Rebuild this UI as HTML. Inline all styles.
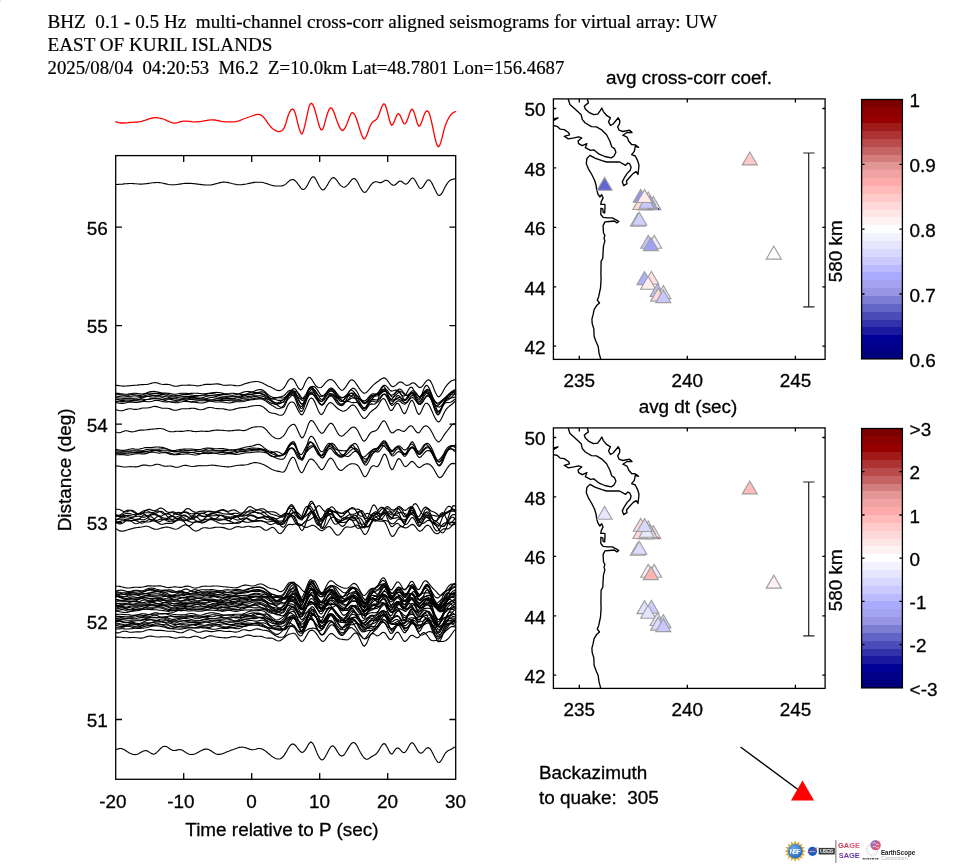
<!DOCTYPE html>
<html><head><meta charset="utf-8"><title>aligned seismograms</title>
<style>html,body{margin:0;padding:0;background:#fff;}svg{display:block;will-change:transform;}text{font-kerning:normal;}</style></head>
<body>
<svg width="971" height="866" viewBox="0 0 971 866">
<rect width="971" height="866" fill="#fff"/>
<rect width="1" height="2" fill="#e6e6e6"/>
<g font-family="'Liberation Serif', serif" font-size="19.15px" fill="#000" stroke="#000" stroke-width="0.2">
<text x="47.5" y="27.8" xml:space="preserve">BHZ  0.1 - 0.5 Hz  multi-channel cross-corr aligned seismograms for virtual array: UW</text>
<text x="47.5" y="50.9" xml:space="preserve">EAST OF KURIL ISLANDS</text>
<text x="47.5" y="73.8" xml:space="preserve" textLength="516.8" lengthAdjust="spacingAndGlyphs">2025/08/04  04:20:53  M6.2  Z=10.0km Lat=48.7801 Lon=156.4687</text>
</g>
<g fill="none" stroke="#000" stroke-width="1.12" stroke-linejoin="round" stroke-linecap="round">
<path d="M115.7 121.8L117.1 122.2L118.4 122.6L119.8 122.8L121.1 123.0L122.5 123.0L123.9 123.0L125.2 122.9L126.6 122.8L127.9 122.7L129.3 122.5L130.7 122.4L132.0 122.3L133.4 122.3L134.7 122.2L136.1 122.1L137.5 122.0L138.8 121.8L140.2 121.6L141.5 121.3L142.9 120.9L144.3 120.5L145.6 120.1L147.0 119.6L148.3 119.2L149.7 118.7L151.1 118.3L152.4 118.0L153.8 117.8L155.1 117.7L156.5 117.7L157.9 117.8L159.2 118.1L160.6 118.3L161.9 118.6L163.3 119.0L164.7 119.5L166.0 120.1L167.4 120.8L168.7 121.4L170.1 122.0L171.5 122.6L172.8 123.0L174.2 123.2L175.5 123.1L176.9 122.8L178.3 122.4L179.6 122.0L181.0 121.7L182.3 121.4L183.7 121.2L185.1 121.2L186.4 121.2L187.8 121.3L189.1 121.4L190.5 121.5L191.9 121.7L193.2 121.8L194.6 121.8L195.9 121.9L197.3 121.8L198.7 121.7L200.0 121.6L201.4 121.4L202.7 121.2L204.1 120.9L205.5 120.7L206.8 120.5L208.2 120.2L209.5 120.1L210.9 119.9L212.3 119.9L213.6 119.9L215.0 120.0L216.3 120.3L217.7 120.5L219.1 120.8L220.4 121.1L221.8 121.4L223.1 121.6L224.5 121.7L225.9 121.8L227.2 121.9L228.6 121.9L229.9 121.8L231.3 121.8L232.7 121.8L234.0 121.8L235.4 121.7L236.7 121.5L238.1 121.1L239.5 120.6L240.8 120.1L242.2 119.5L243.5 119.0L244.9 118.5L246.3 118.0L247.6 117.5L249.0 117.0L250.3 116.5L251.7 116.0L253.1 115.5L254.4 115.1L255.8 114.7L257.1 114.4L258.5 114.4L259.9 114.6L261.2 115.2L262.6 116.2L263.9 117.6L265.3 119.3L266.7 121.3L268.0 123.3L269.4 125.2L270.7 126.8L272.1 128.2L273.5 129.3L274.8 130.2L276.2 130.9L277.5 131.4L278.9 131.6L280.3 131.4L281.6 130.7L283.0 129.7L284.3 127.6L285.7 123.9L287.1 119.0L288.4 114.7L289.8 111.7L291.1 109.8L292.5 109.1L293.9 109.9L295.2 113.1L296.6 118.4L297.9 124.0L299.3 129.0L300.7 132.9L302.0 134.0L303.4 131.2L304.7 126.1L306.1 119.9L307.5 113.4L308.8 107.6L310.2 104.1L311.5 103.2L312.9 104.7L314.3 108.0L315.6 112.5L317.0 117.6L318.3 122.7L319.7 127.2L321.1 129.9L322.4 129.7L323.8 126.6L325.1 121.8L326.5 116.7L327.9 112.3L329.2 109.2L330.6 107.8L331.9 108.4L333.3 110.8L334.7 114.3L336.0 118.2L337.4 122.0L338.7 125.4L340.1 128.2L341.5 130.1L342.8 130.6L344.2 129.3L345.5 127.0L346.9 123.9L348.3 120.3L349.6 116.6L351.0 113.8L352.3 112.6L353.7 113.3L355.1 115.5L356.4 118.8L357.8 122.8L359.1 127.1L360.5 131.5L361.9 135.5L363.2 138.3L364.6 138.9L365.9 137.0L367.3 133.7L368.7 129.8L370.0 126.3L371.4 123.7L372.7 122.0L374.1 120.9L375.5 120.1L376.8 119.0L378.2 116.7L379.5 113.2L380.9 109.3L382.3 105.8L383.6 103.8L385.0 104.4L386.3 107.7L387.7 113.0L389.1 118.8L390.4 123.3L391.8 125.3L393.1 124.1L394.5 120.9L395.9 117.3L397.2 114.5L398.6 113.6L399.9 115.0L401.3 118.0L402.7 121.4L404.0 123.8L405.4 123.7L406.7 121.4L408.1 117.7L409.5 113.6L410.8 110.3L412.2 109.1L413.5 110.9L414.9 114.9L416.3 119.8L417.6 124.2L419.0 126.3L420.3 125.3L421.7 122.0L423.1 117.8L424.4 114.1L425.8 111.6L427.1 110.7L428.5 111.8L429.9 115.1L431.2 120.3L432.6 126.5L433.9 133.1L435.3 139.3L436.7 144.1L438.0 146.7L439.4 146.1L440.7 142.7L442.1 137.6L443.5 131.9L444.8 126.9L446.2 123.2L447.5 120.2L448.9 117.7L450.3 115.6L451.6 114.0L453.0 112.8L454.3 112.0L455.7 111.6" stroke="#f00" stroke-width="1.3"/>
<path d="M115.7 385.2L117.1 385.4L118.4 385.6L119.8 385.8L121.1 386.0L122.5 386.1L123.9 386.1L125.2 386.0L126.6 386.0L127.9 385.9L129.3 385.8L130.7 385.6L132.0 385.5L133.4 385.4L134.7 385.3L136.1 385.2L137.5 385.1L138.8 384.9L140.2 384.8L141.5 384.6L142.9 384.6L144.3 384.5L145.6 384.5L147.0 384.4L148.3 384.2L149.7 383.8L151.1 383.4L152.4 383.0L153.8 382.7L155.1 382.6L156.5 382.8L157.9 383.1L159.2 383.6L160.6 384.0L161.9 384.3L163.3 384.5L164.7 384.4L166.0 384.4L167.4 384.4L168.7 384.5L170.1 384.8L171.5 385.3L172.8 385.7L174.2 386.1L175.5 386.2L176.9 386.2L178.3 385.9L179.6 385.7L181.0 385.4L182.3 385.3L183.7 385.2L185.1 385.2L186.4 385.2L187.8 385.1L189.1 385.1L190.5 385.1L191.9 385.2L193.2 385.3L194.6 385.5L195.9 385.7L197.3 385.9L198.7 385.8L200.0 385.6L201.4 385.3L202.7 385.0L204.1 384.6L205.5 384.4L206.8 384.4L208.2 384.4L209.5 384.4L210.9 384.4L212.3 384.3L213.6 384.1L215.0 384.0L216.3 383.9L217.7 383.9L219.1 384.1L220.4 384.4L221.8 384.8L223.1 385.1L224.5 385.3L225.9 385.4L227.2 385.3L228.6 385.1L229.9 385.0L231.3 385.0L232.7 385.2L234.0 385.4L235.4 385.6L236.7 385.8L238.1 385.8L239.5 385.6L240.8 385.3L242.2 384.9L243.5 384.3L244.9 383.8L246.3 383.4L247.6 382.9L249.0 382.6L250.3 382.3L251.7 382.0L253.1 381.8L254.4 381.6L255.8 381.5L257.1 381.5L258.5 381.7L259.9 382.0L261.2 382.5L262.6 383.1L263.9 383.8L265.3 384.5L266.7 385.2L268.0 385.9L269.4 386.5L270.7 387.1L272.1 387.8L273.5 388.4L274.8 389.2L276.2 389.9L277.5 390.4L278.9 390.6L280.3 390.4L281.6 389.8L283.0 388.9L284.3 387.4L285.7 385.2L287.1 382.6L288.4 380.4L289.8 379.1L291.1 378.6L292.5 378.9L293.9 380.0L295.2 382.1L296.6 384.9L297.9 387.3L299.3 389.1L300.7 389.9L302.0 389.1L303.4 386.7L304.7 383.6L306.1 380.7L307.5 378.5L308.8 377.3L310.2 377.5L311.5 379.1L312.9 381.3L314.3 383.6L315.6 385.5L317.0 386.8L318.3 387.5L319.7 387.8L321.1 387.5L322.4 386.5L323.8 384.9L325.1 383.1L326.5 381.6L327.9 380.5L329.2 379.8L330.6 379.5L331.9 379.7L333.3 380.6L334.7 382.0L336.0 383.8L337.4 385.8L338.7 387.7L340.1 389.2L341.5 390.2L342.8 390.1L344.2 389.0L345.5 387.1L346.9 385.1L348.3 382.9L349.6 381.1L351.0 380.0L352.3 379.9L353.7 380.7L355.1 382.2L356.4 384.1L357.8 386.1L359.1 388.2L360.5 390.1L361.9 391.7L363.2 392.9L364.6 393.2L365.9 392.7L367.3 391.6L368.7 390.1L370.0 388.6L371.4 387.1L372.7 385.7L374.1 384.4L375.5 383.2L376.8 382.3L378.2 381.3L379.5 380.2L380.9 379.2L382.3 378.4L383.6 377.9L385.0 378.1L386.3 379.2L387.7 380.9L389.1 383.0L390.4 385.0L391.8 386.3L393.1 386.7L394.5 386.1L395.9 385.1L397.2 383.8L398.6 382.6L399.9 382.0L401.3 382.1L402.7 382.8L404.0 383.9L405.4 384.9L406.7 385.4L408.1 385.3L409.5 384.7L410.8 383.8L412.2 383.0L413.5 382.8L414.9 383.5L416.3 384.7L417.6 386.3L419.0 387.4L420.3 387.6L421.7 386.8L423.1 385.3L424.4 383.5L425.8 381.7L427.1 380.3L428.5 379.7L429.9 380.4L431.2 382.4L432.6 385.3L433.9 388.8L435.3 392.2L436.7 395.0L438.0 396.6L439.4 396.6L440.7 395.2L442.1 393.0L443.5 390.4L444.8 388.0L446.2 386.1L447.5 384.4L448.9 383.0L450.3 381.7L451.6 380.8L453.0 380.2L454.3 379.9L455.7 379.9"/>
<path d="M115.7 393.4L117.1 393.4L118.4 393.4L119.8 393.6L121.1 393.7L122.5 393.9L123.9 394.0L125.2 394.2L126.6 394.2L127.9 394.1L129.3 393.9L130.7 393.7L132.0 393.5L133.4 393.3L134.7 393.3L136.1 393.4L137.5 393.6L138.8 393.8L140.2 393.9L141.5 394.0L142.9 393.9L144.3 393.6L145.6 393.2L147.0 392.7L148.3 392.3L149.7 391.9L151.1 391.6L152.4 391.5L153.8 391.4L155.1 391.6L156.5 391.8L157.9 392.1L159.2 392.4L160.6 392.7L161.9 392.9L163.3 393.0L164.7 393.0L166.0 393.1L167.4 393.2L168.7 393.4L170.1 393.6L171.5 393.9L172.8 394.1L174.2 394.3L175.5 394.2L176.9 394.0L178.3 393.8L179.6 393.5L181.0 393.3L182.3 393.2L183.7 393.2L185.1 393.3L186.4 393.4L187.8 393.5L189.1 393.5L190.5 393.4L191.9 393.4L193.2 393.3L194.6 393.2L195.9 393.2L197.3 393.2L198.7 393.4L200.0 393.5L201.4 393.7L202.7 393.8L204.1 393.8L205.5 393.8L206.8 393.6L208.2 393.4L209.5 393.2L210.9 392.9L212.3 392.7L213.6 392.6L215.0 392.5L216.3 392.4L217.7 392.5L219.1 392.6L220.4 392.8L221.8 393.1L223.1 393.4L224.5 393.7L225.9 393.8L227.2 393.8L228.6 393.7L229.9 393.5L231.3 393.3L232.7 393.3L234.0 393.4L235.4 393.5L236.7 393.7L238.1 393.7L239.5 393.5L240.8 393.1L242.2 392.6L243.5 392.1L244.9 391.7L246.3 391.5L247.6 391.5L249.0 391.6L250.3 391.7L251.7 391.7L253.1 391.6L254.4 391.2L255.8 390.6L257.1 390.1L258.5 389.7L259.9 389.5L261.2 389.6L262.6 390.1L263.9 390.9L265.3 392.0L266.7 393.3L268.0 394.5L269.4 395.6L270.7 396.5L272.1 397.1L273.5 397.4L274.8 397.5L276.2 397.5L277.5 397.4L278.9 397.2L280.3 396.9L281.6 396.6L283.0 396.1L284.3 395.4L285.7 394.0L287.1 392.3L288.4 391.0L289.8 390.4L291.1 390.3L292.5 390.7L293.9 391.5L295.2 393.0L296.6 395.0L297.9 396.7L299.3 398.1L300.7 399.0L302.0 399.0L303.4 397.9L304.7 396.1L306.1 394.0L307.5 391.6L308.8 389.4L310.2 387.7L311.5 386.7L312.9 386.4L314.3 386.8L315.6 387.8L317.0 389.4L318.3 391.4L319.7 393.6L321.1 395.4L322.4 396.1L323.8 395.6L325.1 394.2L326.5 392.4L327.9 390.5L329.2 388.9L330.6 388.1L331.9 388.1L333.3 389.0L334.7 390.6L336.0 392.3L337.4 394.1L338.7 395.6L340.1 396.7L341.5 397.4L342.8 397.5L344.2 396.9L345.5 395.9L346.9 394.6L348.3 392.9L349.6 391.0L351.0 389.4L352.3 388.4L353.7 388.3L355.1 389.2L356.4 390.8L357.8 393.0L359.1 395.7L360.5 398.5L361.9 401.0L363.2 402.8L364.6 403.2L365.9 402.3L367.3 400.6L368.7 398.6L370.0 397.0L371.4 395.9L372.7 395.2L374.1 394.9L375.5 394.5L376.8 393.8L378.2 392.5L379.5 390.5L380.9 388.4L382.3 386.5L383.6 385.4L385.0 385.2L386.3 386.1L387.7 387.7L389.1 389.4L390.4 390.6L391.8 391.1L393.1 390.8L394.5 390.3L395.9 390.1L397.2 390.5L398.6 391.6L399.9 393.2L401.3 394.8L402.7 395.9L404.0 396.1L405.4 395.0L406.7 392.9L408.1 390.4L409.5 388.2L410.8 387.1L412.2 387.5L413.5 389.7L414.9 393.1L416.3 396.7L417.6 399.4L419.0 400.2L420.3 398.5L421.7 395.0L423.1 391.0L424.4 387.6L425.8 385.6L427.1 385.4L428.5 386.9L429.9 389.8L431.2 393.4L432.6 396.8L433.9 399.6L435.3 401.6L436.7 402.7L438.0 403.0L439.4 402.5L440.7 401.4L442.1 400.2L443.5 399.0L444.8 397.9L446.2 396.9L447.5 395.7L448.9 394.2L450.3 392.8L451.6 391.6L453.0 390.7L454.3 390.1L455.7 389.6"/>
<path d="M115.7 394.9L117.1 394.8L118.4 394.7L119.8 394.6L121.1 394.7L122.5 394.9L123.9 395.1L125.2 395.2L126.6 395.3L127.9 395.1L129.3 394.9L130.7 394.7L132.0 394.5L133.4 394.6L134.7 394.7L136.1 395.0L137.5 395.3L138.8 395.4L140.2 395.4L141.5 395.1L142.9 394.7L144.3 394.2L145.6 393.7L147.0 393.4L148.3 393.2L149.7 393.2L151.1 393.3L152.4 393.4L153.8 393.4L155.1 393.4L156.5 393.4L157.9 393.4L159.2 393.4L160.6 393.4L161.9 393.5L163.3 393.6L164.7 393.8L166.0 394.0L167.4 394.3L168.7 394.7L170.1 395.2L171.5 395.6L172.8 396.0L174.2 396.2L175.5 396.2L176.9 396.0L178.3 395.6L179.6 395.2L181.0 394.9L182.3 394.6L183.7 394.4L185.1 394.3L186.4 394.4L187.8 394.5L189.1 394.7L190.5 394.9L191.9 395.1L193.2 395.3L194.6 395.5L195.9 395.6L197.3 395.6L198.7 395.5L200.0 395.4L201.4 395.2L202.7 395.0L204.1 394.7L205.5 394.4L206.8 394.1L208.2 393.8L209.5 393.6L210.9 393.5L212.3 393.5L213.6 393.7L215.0 394.0L216.3 394.3L217.7 394.5L219.1 394.6L220.4 394.6L221.8 394.5L223.1 394.4L224.5 394.3L225.9 394.4L227.2 394.5L228.6 394.8L229.9 395.0L231.3 395.2L232.7 395.2L234.0 395.0L235.4 394.8L236.7 394.5L238.1 394.3L239.5 394.3L240.8 394.4L242.2 394.5L243.5 394.5L244.9 394.4L246.3 394.0L247.6 393.5L249.0 392.9L250.3 392.5L251.7 392.3L253.1 392.2L254.4 392.4L255.8 392.5L257.1 392.5L258.5 392.4L259.9 392.1L261.2 391.9L262.6 391.9L263.9 392.3L265.3 393.3L266.7 394.7L268.0 396.2L269.4 397.5L270.7 398.5L272.1 398.9L273.5 398.8L274.8 398.4L276.2 398.0L277.5 397.7L278.9 397.6L280.3 397.7L281.6 397.9L283.0 398.0L284.3 397.7L285.7 396.6L287.1 395.1L288.4 393.5L289.8 392.0L291.1 390.6L292.5 389.4L293.9 388.6L295.2 389.0L296.6 390.7L297.9 393.2L299.3 396.1L300.7 398.9L302.0 400.5L303.4 400.2L304.7 398.2L306.1 395.2L307.5 391.7L308.8 388.7L310.2 387.0L311.5 386.8L312.9 388.0L314.3 389.9L315.6 392.0L317.0 393.9L318.3 395.3L319.7 396.2L321.1 396.5L322.4 396.1L323.8 395.3L325.1 394.3L326.5 393.3L327.9 392.6L329.2 391.9L330.6 391.3L331.9 391.0L333.3 391.1L334.7 391.7L336.0 392.9L337.4 394.6L338.7 396.6L340.1 398.6L341.5 400.1L342.8 400.5L344.2 399.6L345.5 397.8L346.9 395.4L348.3 393.0L349.6 391.0L351.0 390.0L352.3 390.3L353.7 391.6L355.1 393.4L356.4 395.2L357.8 396.7L359.1 398.0L360.5 399.1L361.9 400.1L363.2 400.8L364.6 400.9L365.9 400.2L367.3 398.8L368.7 397.2L370.0 395.7L371.4 394.5L372.7 393.8L374.1 393.7L375.5 394.0L376.8 394.4L378.2 394.6L379.5 394.3L380.9 393.5L382.3 392.4L383.6 391.5L385.0 391.1L386.3 391.4L387.7 392.4L389.1 393.7L390.4 394.7L391.8 395.2L393.1 394.7L394.5 393.5L395.9 391.9L397.2 390.4L398.6 389.3L399.9 389.1L401.3 389.9L402.7 391.3L404.0 393.2L405.4 394.7L406.7 395.6L408.1 395.8L409.5 395.1L410.8 394.0L412.2 393.0L413.5 392.7L414.9 393.2L416.3 394.4L417.6 395.7L419.0 396.6L420.3 396.3L421.7 395.0L423.1 393.2L424.4 391.5L425.8 390.3L427.1 390.0L428.5 390.8L429.9 392.6L431.2 395.0L432.6 397.7L433.9 400.1L435.3 402.1L436.7 403.5L438.0 404.2L439.4 403.9L440.7 402.9L442.1 401.5L443.5 399.8L444.8 398.1L446.2 396.7L447.5 395.4L448.9 394.2L450.3 393.2L451.6 392.4L453.0 391.9L454.3 391.3L455.7 390.7"/>
<path d="M115.7 397.0L117.1 396.8L118.4 396.6L119.8 396.3L121.1 396.1L122.5 396.0L123.9 396.0L125.2 396.1L126.6 396.3L127.9 396.4L129.3 396.4L130.7 396.3L132.0 396.2L133.4 396.0L134.7 395.9L136.1 396.0L137.5 396.1L138.8 396.3L140.2 396.5L141.5 396.5L142.9 396.3L144.3 395.9L145.6 395.4L147.0 395.0L148.3 394.7L149.7 394.6L151.1 394.8L152.4 395.1L153.8 395.5L155.1 395.7L156.5 395.6L157.9 395.4L159.2 395.0L160.6 394.6L161.9 394.4L163.3 394.4L164.7 394.7L166.0 395.2L167.4 395.7L168.7 396.1L170.1 396.2L171.5 396.2L172.8 396.0L174.2 395.8L175.5 395.6L176.9 395.5L178.3 395.6L179.6 395.7L181.0 396.0L182.3 396.2L183.7 396.3L185.1 396.4L186.4 396.4L187.8 396.4L189.1 396.5L190.5 396.5L191.9 396.5L193.2 396.5L194.6 396.4L195.9 396.3L197.3 396.1L198.7 395.9L200.0 395.8L201.4 395.7L202.7 395.7L204.1 395.7L205.5 395.8L206.8 395.8L208.2 395.7L209.5 395.6L210.9 395.4L212.3 395.3L213.6 395.2L215.0 395.2L216.3 395.3L217.7 395.4L219.1 395.6L220.4 395.8L221.8 396.0L223.1 396.2L224.5 396.3L225.9 396.4L227.2 396.3L228.6 396.3L229.9 396.2L231.3 396.2L232.7 396.2L234.0 396.3L235.4 396.4L236.7 396.4L238.1 396.3L239.5 396.1L240.8 395.8L242.2 395.4L243.5 395.1L244.9 394.9L246.3 394.7L247.6 394.6L249.0 394.6L250.3 394.5L251.7 394.4L253.1 394.2L254.4 393.9L255.8 393.6L257.1 393.5L258.5 393.4L259.9 393.5L261.2 393.9L262.6 394.5L263.9 395.2L265.3 396.1L266.7 396.9L268.0 397.6L269.4 398.1L270.7 398.5L272.1 398.7L273.5 398.9L274.8 399.2L276.2 399.7L277.5 400.1L278.9 400.4L280.3 400.4L281.6 400.2L283.0 399.8L284.3 399.0L285.7 397.8L287.1 396.4L288.4 395.2L289.8 394.4L291.1 393.6L292.5 392.6L293.9 391.6L295.2 391.2L296.6 391.7L297.9 392.8L299.3 394.4L300.7 396.4L302.0 398.1L303.4 398.6L304.7 398.3L306.1 397.1L307.5 395.1L308.8 392.8L310.2 390.7L311.5 389.5L312.9 389.1L314.3 389.7L315.6 391.1L317.0 393.1L318.3 395.5L319.7 397.8L321.1 399.3L322.4 399.4L323.8 397.9L325.1 395.6L326.5 393.0L327.9 391.0L329.2 389.8L330.6 389.7L331.9 390.6L333.3 392.2L334.7 394.1L336.0 395.8L337.4 397.0L338.7 397.7L340.1 397.9L341.5 397.9L342.8 397.6L344.2 397.0L345.5 396.3L346.9 395.7L348.3 394.9L349.6 394.0L351.0 393.3L352.3 393.0L353.7 393.3L355.1 394.0L356.4 395.2L357.8 396.7L359.1 398.5L360.5 400.3L361.9 402.0L363.2 403.2L364.6 403.7L365.9 403.3L367.3 402.2L368.7 400.8L370.0 399.2L371.4 397.7L372.7 396.4L374.1 395.4L375.5 394.6L376.8 394.1L378.2 393.6L379.5 392.8L380.9 391.7L382.3 390.5L383.6 389.4L385.0 388.9L386.3 389.4L387.7 390.9L389.1 393.0L390.4 395.2L391.8 396.8L393.1 397.2L394.5 396.6L395.9 395.3L397.2 393.7L398.6 392.2L399.9 391.5L401.3 391.7L402.7 392.6L404.0 394.0L405.4 394.9L406.7 395.2L408.1 394.7L409.5 393.6L410.8 392.1L412.2 390.9L413.5 390.7L414.9 391.5L416.3 393.1L417.6 395.1L419.0 396.6L420.3 396.9L421.7 396.1L423.1 394.6L424.4 393.1L425.8 391.9L427.1 391.6L428.5 392.3L429.9 394.3L431.2 397.1L432.6 400.2L433.9 403.0L435.3 405.0L436.7 405.9L438.0 405.7L439.4 404.4L440.7 402.5L442.1 400.7L443.5 399.3L444.8 398.6L446.2 398.2L447.5 397.9L448.9 397.0L450.3 395.8L451.6 394.3L453.0 392.9L454.3 391.8L455.7 391.1"/>
<path d="M115.7 397.6L117.1 397.7L118.4 397.9L119.8 398.0L121.1 398.0L122.5 398.1L123.9 398.1L125.2 398.1L126.6 398.1L127.9 398.1L129.3 398.1L130.7 398.1L132.0 398.1L133.4 398.2L134.7 398.2L136.1 398.2L137.5 398.0L138.8 397.8L140.2 397.5L141.5 397.3L142.9 397.0L144.3 396.9L145.6 396.7L147.0 396.5L148.3 396.3L149.7 396.0L151.1 395.7L152.4 395.5L153.8 395.3L155.1 395.2L156.5 395.3L157.9 395.4L159.2 395.6L160.6 395.8L161.9 396.0L163.3 396.2L164.7 396.4L166.0 396.7L167.4 397.0L168.7 397.4L170.1 397.7L171.5 397.9L172.8 398.0L174.2 397.9L175.5 397.7L176.9 397.5L178.3 397.3L179.6 397.1L181.0 397.0L182.3 397.0L183.7 397.1L185.1 397.1L186.4 397.2L187.8 397.3L189.1 397.4L190.5 397.4L191.9 397.4L193.2 397.5L194.6 397.6L195.9 397.7L197.3 397.9L198.7 398.0L200.0 398.0L201.4 397.9L202.7 397.6L204.1 397.2L205.5 396.7L206.8 396.3L208.2 395.9L209.5 395.7L210.9 395.6L212.3 395.7L213.6 396.0L215.0 396.3L216.3 396.6L217.7 397.0L219.1 397.2L220.4 397.5L221.8 397.6L223.1 397.7L224.5 397.7L225.9 397.6L227.2 397.4L228.6 397.2L229.9 397.0L231.3 396.8L232.7 396.8L234.0 396.8L235.4 396.9L236.7 397.0L238.1 397.0L239.5 397.0L240.8 396.8L242.2 396.4L243.5 396.0L244.9 395.5L246.3 395.1L247.6 394.8L249.0 394.4L250.3 394.2L251.7 394.0L253.1 393.8L254.4 393.5L255.8 393.3L257.1 393.1L258.5 393.1L259.9 393.1L261.2 393.4L262.6 393.8L263.9 394.4L265.3 395.1L266.7 396.1L268.0 397.1L269.4 398.3L270.7 399.5L272.1 400.7L273.5 401.7L274.8 402.5L276.2 403.0L277.5 402.9L278.9 402.4L280.3 401.7L281.6 400.8L283.0 399.9L284.3 399.1L285.7 397.8L287.1 396.1L288.4 394.5L289.8 393.2L291.1 392.0L292.5 391.1L293.9 390.9L295.2 392.0L296.6 394.6L297.9 397.7L299.3 400.8L300.7 403.4L302.0 404.4L303.4 403.1L304.7 400.2L306.1 396.6L307.5 392.8L308.8 389.9L310.2 388.6L311.5 389.0L312.9 390.7L314.3 393.1L315.6 395.5L317.0 397.7L318.3 399.5L319.7 400.8L321.1 401.6L322.4 401.2L323.8 399.9L325.1 397.9L326.5 395.6L327.9 393.2L329.2 391.0L330.6 389.5L331.9 389.1L333.3 390.0L334.7 392.0L336.0 394.6L337.4 397.4L338.7 399.6L340.1 401.1L341.5 401.5L342.8 400.8L344.2 399.3L345.5 397.7L346.9 396.5L348.3 395.8L349.6 395.6L351.0 396.0L352.3 396.7L353.7 397.6L355.1 398.2L356.4 398.4L357.8 398.5L359.1 398.8L360.5 399.4L361.9 400.4L363.2 401.7L364.6 402.5L365.9 402.4L367.3 401.6L368.7 400.2L370.0 398.6L371.4 397.2L372.7 396.3L374.1 395.9L375.5 395.9L376.8 396.0L378.2 395.8L379.5 394.8L380.9 393.3L382.3 391.8L383.6 390.7L385.0 390.8L386.3 392.2L387.7 394.7L389.1 397.3L390.4 399.1L391.8 399.3L393.1 397.8L394.5 395.2L395.9 392.6L397.2 390.9L398.6 390.7L399.9 392.2L401.3 394.7L402.7 397.4L404.0 399.4L405.4 399.9L406.7 398.9L408.1 397.0L409.5 394.9L410.8 393.2L412.2 392.6L413.5 393.3L414.9 394.9L416.3 396.6L417.6 397.9L419.0 398.2L420.3 397.1L421.7 395.2L423.1 393.5L424.4 392.4L425.8 392.2L427.1 393.0L428.5 394.6L429.9 396.7L431.2 398.9L432.6 401.0L433.9 402.9L435.3 404.6L436.7 406.0L438.0 407.0L439.4 407.1L440.7 406.3L442.1 404.7L443.5 402.6L444.8 400.3L446.2 398.2L447.5 396.2L448.9 394.3L450.3 392.9L451.6 392.2L453.0 392.2L454.3 392.7L455.7 393.4"/>
<path d="M115.7 399.2L117.1 399.4L118.4 399.4L119.8 399.3L121.1 399.2L122.5 399.1L123.9 399.1L125.2 399.0L126.6 399.0L127.9 398.9L129.3 398.9L130.7 398.9L132.0 399.0L133.4 399.2L134.7 399.5L136.1 399.7L137.5 399.7L138.8 399.6L140.2 399.1L141.5 398.4L142.9 397.7L144.3 397.0L145.6 396.6L147.0 396.4L148.3 396.4L149.7 396.6L151.1 396.9L152.4 397.0L153.8 397.0L155.1 396.9L156.5 396.8L157.9 396.7L159.2 396.7L160.6 396.9L161.9 397.3L163.3 397.8L164.7 398.2L166.0 398.5L167.4 398.7L168.7 398.8L170.1 398.7L171.5 398.6L172.8 398.6L174.2 398.7L175.5 398.8L176.9 398.9L178.3 399.0L179.6 399.0L181.0 398.9L182.3 398.7L183.7 398.5L185.1 398.3L186.4 398.2L187.8 398.3L189.1 398.5L190.5 398.7L191.9 398.8L193.2 398.8L194.6 398.7L195.9 398.6L197.3 398.5L198.7 398.5L200.0 398.5L201.4 398.7L202.7 398.8L204.1 398.8L205.5 398.7L206.8 398.4L208.2 398.1L209.5 397.8L210.9 397.5L212.3 397.5L213.6 397.7L215.0 398.0L216.3 398.3L217.7 398.6L219.1 398.7L220.4 398.8L221.8 398.7L223.1 398.6L224.5 398.6L225.9 398.6L227.2 398.6L228.6 398.6L229.9 398.6L231.3 398.6L232.7 398.5L234.0 398.4L235.4 398.2L236.7 398.0L238.1 397.8L239.5 397.6L240.8 397.5L242.2 397.3L243.5 397.2L244.9 397.0L246.3 396.8L247.6 396.6L249.0 396.4L250.3 396.2L251.7 396.0L253.1 395.9L254.4 395.9L255.8 395.8L257.1 395.7L258.5 395.7L259.9 395.8L261.2 395.9L262.6 396.3L263.9 396.8L265.3 397.4L266.7 398.2L268.0 399.0L269.4 399.7L270.7 400.5L272.1 401.2L273.5 401.9L274.8 402.5L276.2 403.1L277.5 403.5L278.9 403.6L280.3 403.4L281.6 402.7L283.0 401.9L284.3 400.7L285.7 398.9L287.1 396.9L288.4 395.2L289.8 394.1L291.1 393.3L292.5 392.9L293.9 393.1L295.2 394.4L296.6 396.6L297.9 399.0L299.3 401.4L300.7 403.3L302.0 404.1L303.4 403.2L304.7 401.3L306.1 399.0L307.5 396.5L308.8 394.2L310.2 392.6L311.5 392.0L312.9 392.3L314.3 393.3L315.6 394.8L317.0 396.7L318.3 398.7L319.7 400.4L321.1 401.3L322.4 401.0L323.8 399.6L325.1 397.6L326.5 395.7L327.9 394.4L329.2 393.8L330.6 393.8L331.9 394.5L333.3 395.4L334.7 396.3L336.0 397.1L337.4 397.8L338.7 398.5L340.1 399.4L341.5 400.4L342.8 401.2L344.2 401.6L345.5 401.4L346.9 400.8L348.3 399.5L349.6 397.8L351.0 396.1L352.3 395.1L353.7 394.8L355.1 395.5L356.4 396.8L357.8 398.7L359.1 400.9L360.5 403.4L361.9 405.9L363.2 407.8L364.6 408.6L365.9 408.0L367.3 406.4L368.7 404.3L370.0 402.0L371.4 400.0L372.7 398.2L374.1 396.7L375.5 395.5L376.8 394.5L378.2 393.3L379.5 392.0L380.9 390.7L382.3 389.8L383.6 389.5L385.0 390.1L386.3 391.8L387.7 394.2L389.1 396.7L390.4 398.7L391.8 399.9L393.1 400.1L394.5 399.6L395.9 399.1L397.2 398.8L398.6 399.0L399.9 399.7L401.3 400.5L402.7 401.0L404.0 400.8L405.4 399.7L406.7 397.9L408.1 396.0L409.5 394.3L410.8 393.4L412.2 393.6L413.5 395.0L414.9 397.2L416.3 399.7L417.6 401.6L419.0 402.3L420.3 401.2L421.7 398.9L423.1 395.9L424.4 393.1L425.8 390.7L427.1 389.3L428.5 389.2L429.9 390.6L431.2 393.4L432.6 397.2L433.9 401.5L435.3 405.7L436.7 409.2L438.0 411.2L439.4 411.2L440.7 409.5L442.1 406.7L443.5 403.7L444.8 401.3L446.2 399.7L447.5 398.9L448.9 398.4L450.3 398.1L451.6 397.8L453.0 397.6L454.3 397.2L455.7 396.8"/>
<path d="M115.7 399.3L117.1 399.6L118.4 400.0L119.8 400.3L121.1 400.5L122.5 400.5L123.9 400.4L125.2 400.3L126.6 400.3L127.9 400.2L129.3 400.3L130.7 400.4L132.0 400.4L133.4 400.4L134.7 400.2L136.1 400.0L137.5 399.7L138.8 399.4L140.2 399.2L141.5 399.2L142.9 399.2L144.3 399.4L145.6 399.5L147.0 399.5L148.3 399.5L149.7 399.3L151.1 399.0L152.4 398.8L153.8 398.6L155.1 398.5L156.5 398.6L157.9 398.8L159.2 399.0L160.6 399.2L161.9 399.4L163.3 399.4L164.7 399.3L166.0 399.2L167.4 399.1L168.7 399.1L170.1 399.3L171.5 399.6L172.8 399.9L174.2 400.2L175.5 400.4L176.9 400.3L178.3 400.1L179.6 399.9L181.0 399.5L182.3 399.3L183.7 399.1L185.1 399.1L186.4 399.2L187.8 399.3L189.1 399.4L190.5 399.5L191.9 399.5L193.2 399.6L194.6 399.7L195.9 399.7L197.3 399.8L198.7 399.9L200.0 399.9L201.4 399.8L202.7 399.7L204.1 399.6L205.5 399.5L206.8 399.6L208.2 399.7L209.5 399.8L210.9 399.8L212.3 399.7L213.6 399.5L215.0 399.2L216.3 399.0L217.7 398.8L219.1 398.9L220.4 399.1L221.8 399.4L223.1 399.8L224.5 400.0L225.9 400.1L227.2 400.1L228.6 400.0L229.9 399.8L231.3 399.8L232.7 399.8L234.0 399.9L235.4 399.9L236.7 399.8L238.1 399.6L239.5 399.3L240.8 398.9L242.2 398.5L243.5 398.3L244.9 398.2L246.3 398.1L247.6 397.9L249.0 397.8L250.3 397.5L251.7 397.1L253.1 396.8L254.4 396.6L255.8 396.6L257.1 396.8L258.5 397.1L259.9 397.6L261.2 398.0L262.6 398.4L263.9 398.6L265.3 398.7L266.7 398.9L268.0 399.3L269.4 399.9L270.7 400.8L272.1 401.8L273.5 402.9L274.8 403.8L276.2 404.3L277.5 404.2L278.9 403.8L280.3 403.1L281.6 402.5L283.0 402.2L284.3 402.0L285.7 401.4L287.1 400.2L288.4 398.8L289.8 397.4L291.1 396.0L292.5 395.0L293.9 394.9L295.2 396.4L296.6 399.4L297.9 402.8L299.3 405.9L300.7 408.2L302.0 408.5L303.4 406.3L304.7 402.5L306.1 398.0L307.5 393.5L308.8 389.7L310.2 387.6L311.5 387.4L312.9 388.8L314.3 391.4L315.6 394.5L317.0 397.8L318.3 400.8L319.7 403.2L321.1 404.5L322.4 404.4L323.8 403.1L325.1 401.1L326.5 398.9L327.9 396.8L329.2 395.2L330.6 394.0L331.9 393.7L333.3 394.4L334.7 395.9L336.0 398.0L337.4 400.5L338.7 402.9L340.1 404.8L341.5 405.8L342.8 405.5L344.2 403.8L345.5 401.3L346.9 398.5L348.3 395.9L349.6 394.0L351.0 393.1L352.3 393.6L353.7 395.2L355.1 397.6L356.4 400.2L357.8 402.6L359.1 404.9L360.5 406.8L361.9 408.2L363.2 409.0L364.6 408.6L365.9 406.9L367.3 404.6L368.7 402.3L370.0 400.5L371.4 399.6L372.7 399.4L374.1 399.6L375.5 399.9L376.8 400.0L378.2 399.4L379.5 398.1L380.9 396.5L382.3 395.0L383.6 394.1L385.0 394.1L386.3 395.1L387.7 396.9L389.1 398.8L390.4 400.4L391.8 401.3L393.1 401.3L394.5 400.5L395.9 399.3L397.2 398.2L398.6 397.4L399.9 397.5L401.3 398.2L402.7 399.3L404.0 400.3L405.4 400.4L406.7 399.5L408.1 397.8L409.5 395.6L410.8 393.7L412.2 393.0L413.5 394.1L414.9 396.6L416.3 399.8L417.6 402.8L419.0 404.3L420.3 403.6L421.7 401.3L423.1 398.3L424.4 395.6L425.8 393.6L427.1 392.8L428.5 393.4L429.9 395.3L431.2 398.3L432.6 401.7L433.9 405.2L435.3 408.2L436.7 410.5L438.0 411.5L439.4 411.0L440.7 409.1L442.1 406.4L443.5 403.3L444.8 400.6L446.2 398.5L447.5 396.8L448.9 395.4L450.3 394.5L451.6 394.0L453.0 394.0L454.3 394.3L455.7 394.9"/>
<path d="M115.7 401.5L117.1 401.6L118.4 401.7L119.8 401.7L121.1 401.6L122.5 401.6L123.9 401.6L125.2 401.7L126.6 401.7L127.9 401.7L129.3 401.6L130.7 401.3L132.0 401.1L133.4 400.9L134.7 400.7L136.1 400.7L137.5 400.8L138.8 401.0L140.2 401.0L141.5 401.0L142.9 400.7L144.3 400.4L145.6 399.9L147.0 399.5L148.3 399.2L149.7 398.9L151.1 398.7L152.4 398.6L153.8 398.5L155.1 398.4L156.5 398.4L157.9 398.5L159.2 398.7L160.6 399.0L161.9 399.5L163.3 399.9L164.7 400.4L166.0 400.8L167.4 401.2L168.7 401.5L170.1 401.8L171.5 402.0L172.8 402.1L174.2 402.1L175.5 401.8L176.9 401.4L178.3 400.9L179.6 400.4L181.0 400.0L182.3 399.8L183.7 399.9L185.1 400.2L186.4 400.6L187.8 401.1L189.1 401.4L190.5 401.6L191.9 401.7L193.2 401.5L194.6 401.3L195.9 401.1L197.3 400.9L198.7 400.8L200.0 400.7L201.4 400.7L202.7 400.7L204.1 400.7L205.5 400.7L206.8 400.6L208.2 400.5L209.5 400.4L210.9 400.3L212.3 400.3L213.6 400.3L215.0 400.4L216.3 400.5L217.7 400.5L219.1 400.5L220.4 400.5L221.8 400.5L223.1 400.5L224.5 400.5L225.9 400.5L227.2 400.5L228.6 400.6L229.9 400.7L231.3 400.8L232.7 400.9L234.0 400.9L235.4 400.9L236.7 400.9L238.1 400.7L239.5 400.6L240.8 400.4L242.2 400.2L243.5 400.1L244.9 399.9L246.3 399.8L247.6 399.6L249.0 399.4L250.3 399.2L251.7 398.9L253.1 398.7L254.4 398.4L255.8 398.2L257.1 398.0L258.5 397.9L259.9 397.9L261.2 398.0L262.6 398.3L263.9 398.8L265.3 399.5L266.7 400.4L268.0 401.3L269.4 402.2L270.7 402.9L272.1 403.4L273.5 403.8L274.8 404.1L276.2 404.6L277.5 405.3L278.9 406.2L280.3 407.1L281.6 407.7L283.0 407.7L284.3 406.5L285.7 403.8L287.1 400.0L288.4 396.3L289.8 393.6L291.1 392.1L292.5 392.0L293.9 393.2L295.2 395.9L296.6 399.5L297.9 402.6L299.3 405.0L300.7 406.4L302.0 406.4L303.4 404.6L304.7 402.2L306.1 399.8L307.5 397.4L308.8 395.4L310.2 394.2L311.5 393.9L312.9 394.4L314.3 395.5L315.6 397.1L317.0 399.1L318.3 401.3L319.7 403.4L321.1 404.8L322.4 405.0L323.8 403.9L325.1 402.0L326.5 399.8L327.9 397.8L329.2 396.3L330.6 395.5L331.9 395.6L333.3 396.6L334.7 398.1L336.0 399.9L337.4 401.6L338.7 402.9L340.1 403.7L341.5 404.1L342.8 403.9L344.2 403.2L345.5 402.3L346.9 401.4L348.3 400.4L349.6 399.4L351.0 398.6L352.3 398.0L353.7 397.9L355.1 398.4L356.4 399.4L357.8 401.0L359.1 403.3L360.5 405.9L361.9 408.4L363.2 410.3L364.6 410.7L365.9 409.6L367.3 407.6L368.7 405.6L370.0 404.3L371.4 403.9L372.7 404.1L374.1 404.2L375.5 403.8L376.8 402.1L378.2 399.0L379.5 394.8L380.9 390.5L382.3 387.4L383.6 386.3L385.0 387.7L386.3 391.3L387.7 396.0L389.1 400.3L390.4 403.3L391.8 404.0L393.1 402.6L394.5 400.1L395.9 397.5L397.2 395.9L398.6 395.5L399.9 396.6L401.3 398.6L402.7 400.8L404.0 402.4L405.4 402.8L406.7 402.0L408.1 400.4L409.5 398.4L410.8 396.5L412.2 395.4L413.5 395.8L414.9 397.3L416.3 399.7L417.6 402.2L419.0 404.0L420.3 404.4L421.7 403.4L423.1 401.5L424.4 399.1L425.8 396.8L427.1 395.2L428.5 394.7L429.9 395.9L431.2 398.8L432.6 402.8L433.9 407.2L435.3 411.2L436.7 414.0L438.0 415.0L439.4 413.9L440.7 411.2L442.1 407.7L443.5 404.4L444.8 402.1L446.2 400.8L447.5 400.1L448.9 399.4L450.3 398.4L451.6 397.1L453.0 395.7L454.3 394.3L455.7 393.2"/>
<path d="M115.7 402.4L117.1 402.7L118.4 403.0L119.8 403.3L121.1 403.4L122.5 403.4L123.9 403.3L125.2 403.0L126.6 402.7L127.9 402.3L129.3 402.1L130.7 402.1L132.0 402.1L133.4 402.3L134.7 402.4L136.1 402.4L137.5 402.4L138.8 402.2L140.2 401.9L141.5 401.6L142.9 401.5L144.3 401.4L145.6 401.5L147.0 401.7L148.3 401.7L149.7 401.7L151.1 401.5L152.4 401.2L153.8 400.8L155.1 400.4L156.5 400.3L157.9 400.4L159.2 400.6L160.6 401.0L161.9 401.4L163.3 401.8L164.7 401.9L166.0 402.0L167.4 401.9L168.7 401.8L170.1 401.8L171.5 401.9L172.8 402.2L174.2 402.4L175.5 402.6L176.9 402.7L178.3 402.6L179.6 402.3L181.0 402.0L182.3 401.7L183.7 401.5L185.1 401.4L186.4 401.4L187.8 401.6L189.1 401.8L190.5 402.0L191.9 402.1L193.2 402.2L194.6 402.3L195.9 402.4L197.3 402.6L198.7 402.8L200.0 403.0L201.4 403.0L202.7 402.9L204.1 402.7L205.5 402.3L206.8 401.9L208.2 401.5L209.5 401.3L210.9 401.3L212.3 401.4L213.6 401.7L215.0 401.9L216.3 402.0L217.7 402.0L219.1 402.0L220.4 401.9L221.8 401.9L223.1 402.1L224.5 402.3L225.9 402.6L227.2 402.8L228.6 403.0L229.9 402.9L231.3 402.7L232.7 402.4L234.0 402.1L235.4 401.8L236.7 401.7L238.1 401.7L239.5 401.8L240.8 401.8L242.2 401.7L243.5 401.5L244.9 401.2L246.3 400.8L247.6 400.4L249.0 400.1L250.3 399.9L251.7 399.8L253.1 399.6L254.4 399.5L255.8 399.3L257.1 399.1L258.5 398.9L259.9 398.8L261.2 398.9L262.6 399.3L263.9 400.0L265.3 400.9L266.7 401.8L268.0 402.8L269.4 403.7L270.7 404.6L272.1 405.4L273.5 406.3L274.8 407.1L276.2 407.9L277.5 408.5L278.9 408.7L280.3 408.3L281.6 407.5L283.0 406.2L284.3 404.5L285.7 401.9L287.1 399.0L288.4 396.6L289.8 395.2L291.1 394.5L292.5 394.8L293.9 396.0L295.2 398.6L296.6 402.4L297.9 406.2L299.3 409.3L300.7 411.4L302.0 411.5L303.4 409.2L304.7 405.6L306.1 401.6L307.5 397.8L308.8 394.7L310.2 393.1L311.5 393.0L312.9 394.1L314.3 395.8L315.6 397.9L317.0 400.0L318.3 402.0L319.7 403.8L321.1 404.9L322.4 404.9L323.8 403.7L325.1 401.8L326.5 399.7L327.9 397.8L329.2 396.4L330.6 395.8L331.9 396.2L333.3 397.6L334.7 399.6L336.0 401.8L337.4 403.6L338.7 404.8L340.1 405.2L341.5 404.8L342.8 403.8L344.2 402.5L345.5 401.6L346.9 401.2L348.3 401.4L349.6 401.8L351.0 402.2L352.3 402.5L353.7 402.6L355.1 402.5L356.4 402.3L357.8 402.5L359.1 403.2L360.5 404.6L361.9 406.2L363.2 407.6L364.6 408.1L365.9 407.4L367.3 405.8L368.7 403.9L370.0 402.2L371.4 401.2L372.7 401.0L374.1 401.4L375.5 402.0L376.8 402.3L378.2 401.6L379.5 400.0L380.9 397.8L382.3 395.6L383.6 394.3L385.0 394.4L386.3 396.1L387.7 398.8L389.1 401.8L390.4 404.2L391.8 405.4L393.1 405.0L394.5 403.7L395.9 402.2L397.2 401.1L398.6 400.7L399.9 401.2L401.3 402.3L402.7 403.5L404.0 404.1L405.4 403.9L406.7 402.8L408.1 401.3L409.5 399.6L410.8 398.2L412.2 397.6L413.5 398.1L414.9 399.5L416.3 401.4L417.6 403.2L419.0 404.3L420.3 404.2L421.7 402.9L423.1 401.0L424.4 398.9L425.8 397.1L427.1 396.0L428.5 396.1L429.9 397.4L431.2 399.9L432.6 403.2L433.9 406.8L435.3 410.0L436.7 412.3L438.0 413.3L439.4 412.5L440.7 410.3L442.1 407.5L443.5 404.9L444.8 403.2L446.2 402.6L447.5 402.5L448.9 402.5L450.3 402.3L451.6 401.7L453.0 400.8L454.3 399.7L455.7 398.8"/>
<path d="M115.7 409.5L117.1 410.0L118.4 410.5L119.8 410.7L121.1 410.8L122.5 410.6L123.9 410.3L125.2 409.8L126.6 409.4L127.9 409.0L129.3 408.8L130.7 408.8L132.0 409.0L133.4 409.2L134.7 409.4L136.1 409.4L137.5 409.3L138.8 409.0L140.2 408.6L141.5 408.3L142.9 408.0L144.3 408.0L145.6 408.0L147.0 408.0L148.3 407.8L149.7 407.6L151.1 407.2L152.4 406.8L153.8 406.5L155.1 406.4L156.5 406.6L157.9 406.9L159.2 407.4L160.6 407.8L161.9 408.1L163.3 408.2L164.7 408.2L166.0 408.2L167.4 408.3L168.7 408.5L170.1 408.9L171.5 409.4L172.8 409.9L174.2 410.2L175.5 410.3L176.9 410.1L178.3 409.8L179.6 409.4L181.0 409.0L182.3 408.8L183.7 408.7L185.1 408.7L186.4 408.7L187.8 408.7L189.1 408.6L190.5 408.4L191.9 408.3L193.2 408.3L194.6 408.4L195.9 408.7L197.3 409.1L198.7 409.5L200.0 409.7L201.4 409.7L202.7 409.5L204.1 409.1L205.5 408.6L206.8 408.0L208.2 407.6L209.5 407.5L210.9 407.5L212.3 407.7L213.6 408.0L215.0 408.3L216.3 408.5L217.7 408.6L219.1 408.7L220.4 408.7L221.8 408.7L223.1 408.8L224.5 409.1L225.9 409.4L227.2 409.7L228.6 410.0L229.9 410.1L231.3 410.0L232.7 409.7L234.0 409.4L235.4 408.9L236.7 408.5L238.1 408.2L239.5 407.9L240.8 407.7L242.2 407.6L243.5 407.5L244.9 407.4L246.3 407.2L247.6 407.0L249.0 406.6L250.3 406.3L251.7 406.1L253.1 405.8L254.4 405.7L255.8 405.5L257.1 405.5L258.5 405.5L259.9 405.6L261.2 406.0L262.6 406.6L263.9 407.5L265.3 408.7L266.7 410.0L268.0 411.2L269.4 412.2L270.7 412.8L272.1 413.1L273.5 413.3L274.8 413.5L276.2 413.9L277.5 414.4L278.9 415.0L280.3 415.3L281.6 415.2L283.0 414.6L284.3 413.0L285.7 410.3L287.1 407.0L288.4 404.3L289.8 402.7L291.1 402.0L292.5 402.0L293.9 402.7L295.2 404.5L296.6 407.3L297.9 410.0L299.3 412.4L300.7 414.3L302.0 414.9L303.4 413.3L304.7 410.6L306.1 407.4L307.5 403.8L308.8 400.5L310.2 398.5L311.5 398.0L312.9 398.9L314.3 401.1L315.6 404.0L317.0 407.4L318.3 410.7L319.7 413.3L321.1 414.6L322.4 414.1L323.8 412.0L325.1 409.2L326.5 406.4L327.9 404.3L329.2 403.0L330.6 402.6L331.9 403.1L333.3 404.2L334.7 405.6L336.0 407.0L337.4 408.2L338.7 409.2L340.1 410.1L341.5 410.8L342.8 411.2L344.2 411.1L345.5 410.6L346.9 409.7L348.3 408.4L349.6 406.9L351.0 405.6L352.3 404.9L353.7 405.1L355.1 406.1L356.4 407.8L357.8 409.9L359.1 412.3L360.5 414.7L361.9 416.7L363.2 418.1L364.6 418.5L365.9 417.7L367.3 416.1L368.7 414.3L370.0 412.6L371.4 411.3L372.7 410.2L374.1 409.3L375.5 408.3L376.8 407.0L378.2 405.1L379.5 402.9L380.9 400.6L382.3 399.0L383.6 398.5L385.0 399.5L386.3 401.9L387.7 405.1L389.1 408.2L390.4 410.2L391.8 410.4L393.1 408.9L394.5 406.5L395.9 404.3L397.2 403.2L398.6 403.7L399.9 405.9L401.3 409.0L402.7 412.0L404.0 413.6L405.4 413.1L406.7 410.6L408.1 407.1L409.5 403.4L410.8 400.9L412.2 400.4L413.5 402.3L414.9 405.9L416.3 410.0L417.6 413.2L419.0 414.5L420.3 413.3L421.7 410.5L423.1 407.3L424.4 404.7L425.8 403.2L427.1 403.2L428.5 404.4L429.9 406.6L431.2 409.5L432.6 412.5L433.9 415.6L435.3 418.4L436.7 420.6L438.0 421.9L439.4 421.7L440.7 420.0L442.1 417.3L443.5 414.2L444.8 411.5L446.2 409.4L447.5 407.9L448.9 406.6L450.3 405.5L451.6 404.5L453.0 403.3L454.3 402.0L455.7 400.9"/>
<path d="M115.7 432.0L117.1 432.5L118.4 432.8L119.8 432.6L121.1 432.2L122.5 431.7L123.9 431.2L125.2 430.8L126.6 430.8L127.9 431.0L129.3 431.4L130.7 431.7L132.0 431.9L133.4 431.8L134.7 431.5L136.1 431.1L137.5 430.7L138.8 430.4L140.2 430.1L141.5 430.1L142.9 430.1L144.3 430.0L145.6 430.0L147.0 429.8L148.3 429.6L149.7 429.4L151.1 429.2L152.4 429.1L153.8 429.0L155.1 428.9L156.5 428.7L157.9 428.6L159.2 428.5L160.6 428.5L161.9 428.7L163.3 429.0L164.7 429.6L166.0 430.2L167.4 430.8L168.7 431.3L170.1 431.6L171.5 431.7L172.8 431.7L174.2 431.6L175.5 431.4L176.9 431.3L178.3 431.3L179.6 431.4L181.0 431.4L182.3 431.4L183.7 431.2L185.1 431.0L186.4 430.8L187.8 430.6L189.1 430.7L190.5 430.8L191.9 431.1L193.2 431.4L194.6 431.5L195.9 431.6L197.3 431.5L198.7 431.4L200.0 431.2L201.4 431.1L202.7 431.2L204.1 431.3L205.5 431.4L206.8 431.4L208.2 431.4L209.5 431.2L210.9 430.9L212.3 430.6L213.6 430.4L215.0 430.2L216.3 430.1L217.7 430.1L219.1 430.1L220.4 430.2L221.8 430.3L223.1 430.4L224.5 430.5L225.9 430.7L227.2 430.8L228.6 430.9L229.9 430.9L231.3 430.8L232.7 430.6L234.0 430.4L235.4 430.2L236.7 430.1L238.1 430.0L239.5 430.1L240.8 430.3L242.2 430.5L243.5 430.6L244.9 430.4L246.3 430.1L247.6 429.5L249.0 428.8L250.3 428.2L251.7 427.6L253.1 427.3L254.4 427.0L255.8 426.9L257.1 426.8L258.5 426.7L259.9 426.7L261.2 426.7L262.6 427.0L263.9 427.7L265.3 428.8L266.7 430.2L268.0 431.8L269.4 433.4L270.7 434.8L272.1 436.1L273.5 437.1L274.8 437.9L276.2 438.5L277.5 438.8L278.9 438.7L280.3 438.2L281.6 437.4L283.0 436.4L284.3 434.9L285.7 432.7L287.1 430.0L288.4 427.8L289.8 426.4L291.1 425.3L292.5 424.5L293.9 424.2L295.2 425.3L296.6 427.8L297.9 430.7L299.3 433.8L300.7 436.7L302.0 438.0L303.4 437.0L304.7 434.4L306.1 430.9L307.5 426.9L308.8 423.3L310.2 421.1L311.5 420.4L312.9 421.2L314.3 422.8L315.6 425.0L317.0 427.3L318.3 429.7L319.7 431.7L321.1 433.2L322.4 433.3L323.8 432.1L325.1 430.1L326.5 427.9L327.9 425.8L329.2 424.1L330.6 423.2L331.9 423.5L333.3 425.0L334.7 427.3L336.0 430.0L337.4 432.6L338.7 434.6L340.1 435.8L341.5 436.3L342.8 435.8L344.2 434.7L345.5 433.4L346.9 432.1L348.3 430.7L349.6 429.3L351.0 428.0L352.3 427.2L353.7 427.0L355.1 427.5L356.4 428.8L357.8 430.8L359.1 433.4L360.5 436.3L361.9 439.0L363.2 440.9L364.6 441.2L365.9 439.9L367.3 437.8L368.7 435.4L370.0 433.4L371.4 432.2L372.7 431.6L374.1 431.2L375.5 430.9L376.8 430.0L378.2 428.4L379.5 426.1L380.9 423.7L382.3 421.7L383.6 420.8L385.0 421.3L386.3 423.3L387.7 426.3L389.1 429.3L390.4 431.7L391.8 432.9L393.1 432.7L394.5 431.8L395.9 430.6L397.2 429.8L398.6 429.5L399.9 430.0L401.3 430.7L402.7 431.3L404.0 431.4L405.4 430.6L406.7 429.1L408.1 427.5L409.5 426.2L410.8 425.7L412.2 426.2L413.5 427.8L414.9 429.9L416.3 431.8L417.6 432.9L419.0 432.8L420.3 431.3L421.7 429.2L423.1 427.3L424.4 426.2L425.8 425.8L427.1 426.1L428.5 427.1L429.9 428.8L431.2 431.0L432.6 433.5L433.9 436.2L435.3 438.7L436.7 440.7L438.0 441.9L439.4 441.7L440.7 440.4L442.1 438.3L443.5 436.0L444.8 433.9L446.2 432.1L447.5 430.5L448.9 428.7L450.3 426.8L451.6 425.2L453.0 424.1L454.3 423.7L455.7 423.9"/>
<path d="M115.7 449.4L117.1 449.6L118.4 449.9L119.8 450.1L121.1 450.3L122.5 450.4L123.9 450.4L125.2 450.2L126.6 449.9L127.9 449.6L129.3 449.2L130.7 449.0L132.0 448.9L133.4 448.9L134.7 449.1L136.1 449.2L137.5 449.3L138.8 449.2L140.2 448.9L141.5 448.5L142.9 448.2L144.3 447.8L145.6 447.6L147.0 447.6L148.3 447.5L149.7 447.5L151.1 447.5L152.4 447.4L153.8 447.2L155.1 447.1L156.5 447.0L157.9 447.0L159.2 447.1L160.6 447.2L161.9 447.4L163.3 447.6L164.7 448.0L166.0 448.5L167.4 449.0L168.7 449.6L170.1 450.1L171.5 450.4L172.8 450.6L174.2 450.6L175.5 450.4L176.9 450.1L178.3 449.8L179.6 449.5L181.0 449.3L182.3 449.2L183.7 449.1L185.1 449.1L186.4 449.0L187.8 449.0L189.1 449.0L190.5 449.0L191.9 449.1L193.2 449.2L194.6 449.4L195.9 449.5L197.3 449.6L198.7 449.6L200.0 449.5L201.4 449.2L202.7 448.9L204.1 448.5L205.5 448.2L206.8 448.0L208.2 448.0L209.5 448.0L210.9 448.2L212.3 448.4L213.6 448.6L215.0 448.7L216.3 448.8L217.7 448.7L219.1 448.6L220.4 448.6L221.8 448.5L223.1 448.6L224.5 448.9L225.9 449.1L227.2 449.4L228.6 449.7L229.9 449.8L231.3 449.9L232.7 449.8L234.0 449.7L235.4 449.5L236.7 449.3L238.1 449.0L239.5 448.8L240.8 448.4L242.2 448.1L243.5 447.7L244.9 447.3L246.3 447.0L247.6 446.7L249.0 446.6L250.3 446.4L251.7 446.2L253.1 445.8L254.4 445.4L255.8 444.9L257.1 444.5L258.5 444.4L259.9 444.7L261.2 445.4L262.6 446.4L263.9 447.6L265.3 448.8L266.7 449.8L268.0 450.5L269.4 451.0L270.7 451.3L272.1 451.7L273.5 452.3L274.8 453.2L276.2 454.2L277.5 455.1L278.9 455.7L280.3 455.8L281.6 455.3L283.0 454.5L284.3 453.2L285.7 451.1L287.1 448.4L288.4 445.9L289.8 444.0L291.1 442.6L292.5 441.7L293.9 441.9L295.2 443.7L296.6 447.2L297.9 451.2L299.3 455.0L300.7 458.0L302.0 458.8L303.4 456.8L304.7 452.9L306.1 448.3L307.5 443.4L308.8 439.2L310.2 436.8L311.5 436.2L312.9 437.1L314.3 439.1L315.6 441.7L317.0 444.6L318.3 447.5L319.7 450.1L321.1 451.8L322.4 451.8L323.8 450.3L325.1 447.9L326.5 445.7L327.9 444.0L329.2 443.3L330.6 443.5L331.9 444.6L333.3 446.3L334.7 448.0L336.0 449.3L337.4 450.0L338.7 450.3L340.1 450.4L341.5 450.6L342.8 450.8L344.2 450.8L345.5 450.9L346.9 450.8L348.3 450.0L349.6 448.5L351.0 446.7L352.3 444.9L353.7 443.7L355.1 443.4L356.4 444.2L357.8 446.3L359.1 449.5L360.5 453.4L361.9 457.3L363.2 460.3L364.6 461.6L365.9 461.0L367.3 458.8L368.7 455.9L370.0 453.1L371.4 450.9L372.7 449.6L374.1 448.9L375.5 448.6L376.8 448.2L378.2 447.2L379.5 445.6L380.9 443.6L382.3 441.9L383.6 440.8L385.0 441.0L386.3 442.4L387.7 444.8L389.1 447.4L390.4 449.5L391.8 450.6L393.1 450.3L394.5 449.1L395.9 447.6L397.2 446.4L398.6 445.8L399.9 446.3L401.3 447.4L402.7 448.9L404.0 449.9L405.4 449.9L406.7 448.9L408.1 447.3L409.5 445.6L410.8 444.3L412.2 444.1L413.5 445.2L414.9 447.2L416.3 449.4L417.6 451.0L419.0 451.5L420.3 450.3L421.7 448.3L423.1 446.2L424.4 444.6L425.8 443.6L427.1 443.3L428.5 443.8L429.9 445.1L431.2 447.2L432.6 450.0L433.9 453.3L435.3 456.7L436.7 459.8L438.0 461.8L439.4 462.1L440.7 460.7L442.1 458.0L443.5 454.7L444.8 451.6L446.2 449.3L447.5 447.6L448.9 446.5L450.3 445.9L451.6 445.6L453.0 445.5L454.3 445.4L455.7 445.2"/>
<path d="M115.7 450.6L117.1 450.9L118.4 451.1L119.8 451.2L121.1 451.3L122.5 451.3L123.9 451.3L125.2 451.3L126.6 451.2L127.9 451.1L129.3 451.0L130.7 450.9L132.0 450.8L133.4 450.7L134.7 450.7L136.1 450.7L137.5 450.8L138.8 450.8L140.2 450.8L141.5 450.7L142.9 450.5L144.3 450.3L145.6 449.9L147.0 449.6L148.3 449.4L149.7 449.2L151.1 449.1L152.4 449.2L153.8 449.2L155.1 449.2L156.5 449.3L157.9 449.2L159.2 449.1L160.6 449.0L161.9 448.9L163.3 448.8L164.7 448.8L166.0 449.0L167.4 449.2L168.7 449.7L170.1 450.2L171.5 450.8L172.8 451.4L174.2 451.8L175.5 451.8L176.9 451.7L178.3 451.3L179.6 450.9L181.0 450.5L182.3 450.3L183.7 450.3L185.1 450.4L186.4 450.5L187.8 450.6L189.1 450.5L190.5 450.4L191.9 450.2L193.2 450.2L194.6 450.3L195.9 450.6L197.3 451.0L198.7 451.3L200.0 451.4L201.4 451.2L202.7 450.8L204.1 450.2L205.5 449.6L206.8 449.1L208.2 448.8L209.5 448.8L210.9 449.0L212.3 449.4L213.6 449.9L215.0 450.3L216.3 450.6L217.7 450.8L219.1 450.8L220.4 450.7L221.8 450.6L223.1 450.4L224.5 450.4L225.9 450.4L227.2 450.5L228.6 450.7L229.9 450.8L231.3 450.9L232.7 450.8L234.0 450.6L235.4 450.4L236.7 450.0L238.1 449.8L239.5 449.6L240.8 449.5L242.2 449.4L243.5 449.4L244.9 449.3L246.3 449.2L247.6 448.9L249.0 448.6L250.3 448.3L251.7 448.1L253.1 448.1L254.4 448.1L255.8 448.2L257.1 448.3L258.5 448.4L259.9 448.5L261.2 448.7L262.6 449.0L263.9 449.5L265.3 450.1L266.7 450.9L268.0 451.6L269.4 452.2L270.7 452.5L272.1 452.5L273.5 452.2L274.8 451.9L276.2 451.7L277.5 451.7L278.9 452.2L280.3 452.9L281.6 453.8L283.0 454.4L284.3 454.3L285.7 453.0L287.1 450.5L288.4 447.9L289.8 445.8L291.1 444.4L292.5 443.8L293.9 444.3L295.2 446.2L296.6 449.0L297.9 451.6L299.3 453.5L300.7 454.6L302.0 454.3L303.4 452.1L304.7 449.3L306.1 446.7L307.5 444.3L308.8 442.5L310.2 441.8L311.5 442.1L312.9 443.2L314.3 444.9L315.6 447.1L317.0 449.7L318.3 452.6L319.7 455.4L321.1 457.3L322.4 457.6L323.8 456.1L325.1 453.4L326.5 450.3L327.9 447.4L329.2 445.1L330.6 443.7L331.9 443.3L333.3 444.0L334.7 445.2L336.0 447.0L337.4 448.9L338.7 450.9L340.1 452.8L341.5 454.4L342.8 455.1L344.2 454.8L345.5 453.5L346.9 451.5L348.3 449.2L349.6 446.9L351.0 445.3L352.3 445.0L353.7 446.0L355.1 447.9L356.4 450.2L357.8 452.4L359.1 454.2L360.5 455.6L361.9 456.5L363.2 457.0L364.6 456.7L365.9 455.7L367.3 454.4L368.7 453.0L370.0 451.8L371.4 450.8L372.7 450.0L374.1 449.4L375.5 449.1L376.8 448.8L378.2 448.3L379.5 447.2L380.9 445.9L382.3 444.4L383.6 443.3L385.0 443.1L386.3 444.1L387.7 446.1L389.1 448.6L390.4 450.7L391.8 451.8L393.1 451.3L394.5 449.8L395.9 448.2L397.2 447.0L398.6 446.9L399.9 448.2L401.3 450.3L402.7 452.7L404.0 454.2L405.4 454.0L406.7 452.1L408.1 449.1L409.5 445.6L410.8 442.9L412.2 441.8L413.5 442.9L414.9 445.6L416.3 449.0L417.6 452.0L419.0 453.5L420.3 452.8L421.7 450.6L423.1 447.9L424.4 445.7L425.8 444.6L427.1 444.8L428.5 446.2L429.9 448.7L431.2 451.7L432.6 454.6L433.9 457.1L435.3 458.9L436.7 460.0L438.0 460.3L439.4 459.7L440.7 458.2L442.1 456.4L443.5 454.5L444.8 452.8L446.2 451.4L447.5 450.1L448.9 448.7L450.3 447.5L451.6 446.5L453.0 445.9L454.3 445.7L455.7 445.8"/>
<path d="M115.7 452.5L117.1 452.6L118.4 452.7L119.8 452.7L121.1 452.5L122.5 452.3L123.9 452.1L125.2 451.9L126.6 451.9L127.9 451.9L129.3 451.9L130.7 452.1L132.0 452.1L133.4 452.2L134.7 452.1L136.1 452.0L137.5 451.9L138.8 451.8L140.2 451.7L141.5 451.6L142.9 451.6L144.3 451.6L145.6 451.5L147.0 451.4L148.3 451.1L149.7 450.9L151.1 450.6L152.4 450.4L153.8 450.2L155.1 450.2L156.5 450.3L157.9 450.4L159.2 450.5L160.6 450.6L161.9 450.7L163.3 450.7L164.7 450.7L166.0 450.8L167.4 450.8L168.7 450.9L170.1 451.1L171.5 451.3L172.8 451.5L174.2 451.7L175.5 451.8L176.9 451.8L178.3 451.8L179.6 451.7L181.0 451.7L182.3 451.9L183.7 452.0L185.1 452.3L186.4 452.5L187.8 452.6L189.1 452.6L190.5 452.5L191.9 452.4L193.2 452.2L194.6 452.0L195.9 451.8L197.3 451.7L198.7 451.6L200.0 451.4L201.4 451.3L202.7 451.1L204.1 451.0L205.5 450.9L206.8 450.9L208.2 450.9L209.5 450.9L210.9 450.9L212.3 450.9L213.6 450.9L215.0 450.9L216.3 450.9L217.7 450.9L219.1 451.0L220.4 451.1L221.8 451.3L223.1 451.5L224.5 451.8L225.9 452.1L227.2 452.3L228.6 452.5L229.9 452.5L231.3 452.4L232.7 452.1L234.0 451.8L235.4 451.4L236.7 451.2L238.1 451.0L239.5 450.9L240.8 450.9L242.2 450.8L243.5 450.7L244.9 450.6L246.3 450.3L247.6 450.0L249.0 449.8L250.3 449.6L251.7 449.5L253.1 449.5L254.4 449.5L255.8 449.5L257.1 449.5L258.5 449.5L259.9 449.5L261.2 449.6L262.6 449.8L263.9 450.2L265.3 450.7L266.7 451.3L268.0 451.9L269.4 452.6L270.7 453.2L272.1 453.7L273.5 454.3L274.8 454.9L276.2 455.4L277.5 455.9L278.9 456.1L280.3 456.0L281.6 455.7L283.0 455.0L284.3 453.8L285.7 451.8L287.1 449.1L288.4 446.6L289.8 444.8L291.1 443.5L292.5 442.9L293.9 443.4L295.2 445.4L296.6 448.9L297.9 452.8L299.3 456.4L300.7 459.3L302.0 460.3L303.4 458.7L304.7 455.5L306.1 451.5L307.5 447.4L308.8 444.0L310.2 442.3L311.5 442.5L312.9 444.3L314.3 447.0L315.6 449.9L317.0 452.6L318.3 454.7L319.7 455.8L321.1 455.9L322.4 454.7L323.8 452.6L325.1 450.3L326.5 448.4L327.9 447.2L329.2 446.6L330.6 446.7L331.9 447.5L333.3 448.7L334.7 450.3L336.0 452.0L337.4 453.7L338.7 455.2L340.1 456.2L341.5 456.5L342.8 455.9L344.2 454.4L345.5 452.5L346.9 450.6L348.3 448.8L349.6 447.6L351.0 447.2L352.3 447.6L353.7 448.7L355.1 450.1L356.4 451.4L357.8 452.7L359.1 453.9L360.5 455.1L361.9 456.5L363.2 457.9L364.6 458.9L365.9 459.1L367.3 458.6L368.7 457.7L370.0 456.4L371.4 454.9L372.7 453.4L374.1 451.9L375.5 450.4L376.8 449.1L378.2 447.9L379.5 446.7L380.9 445.8L382.3 445.4L383.6 445.7L385.0 446.7L386.3 448.3L387.7 450.1L389.1 451.5L390.4 452.0L391.8 451.6L393.1 450.2L394.5 448.5L395.9 447.2L397.2 446.7L398.6 447.1L399.9 448.4L401.3 450.3L402.7 452.1L404.0 453.4L405.4 453.6L406.7 452.9L408.1 451.5L409.5 449.8L410.8 448.4L412.2 447.7L413.5 448.1L414.9 449.5L416.3 451.4L417.6 453.3L419.0 454.4L420.3 454.2L421.7 452.9L423.1 451.2L424.4 449.6L425.8 448.3L427.1 447.7L428.5 447.8L429.9 448.7L431.2 450.3L432.6 452.4L433.9 454.7L435.3 457.2L436.7 459.5L438.0 461.2L439.4 461.8L440.7 461.1L442.1 459.4L443.5 457.1L444.8 454.5L446.2 452.0L447.5 449.7L448.9 447.7L450.3 446.3L451.6 445.8L453.0 446.1L454.3 447.0L455.7 448.0"/>
<path d="M115.7 452.9L117.1 453.2L118.4 453.5L119.8 453.7L121.1 453.8L122.5 453.8L123.9 453.6L125.2 453.5L126.6 453.3L127.9 453.2L129.3 453.1L130.7 453.0L132.0 452.9L133.4 452.8L134.7 452.6L136.1 452.5L137.5 452.4L138.8 452.3L140.2 452.4L141.5 452.6L142.9 452.8L144.3 453.0L145.6 453.1L147.0 453.0L148.3 452.8L149.7 452.3L151.1 451.8L152.4 451.2L153.8 450.8L155.1 450.6L156.5 450.6L157.9 450.9L159.2 451.3L160.6 451.7L161.9 452.0L163.3 452.2L164.7 452.3L166.0 452.4L167.4 452.5L168.7 452.7L170.1 453.1L171.5 453.5L172.8 453.9L174.2 454.1L175.5 454.2L176.9 453.9L178.3 453.5L179.6 453.1L181.0 452.7L182.3 452.3L183.7 452.1L185.1 452.0L186.4 452.1L187.8 452.1L189.1 452.2L190.5 452.3L191.9 452.5L193.2 452.7L194.6 452.9L195.9 453.2L197.3 453.5L198.7 453.6L200.0 453.5L201.4 453.3L202.7 452.9L204.1 452.5L205.5 452.2L206.8 452.0L208.2 452.1L209.5 452.3L210.9 452.5L212.3 452.8L213.6 453.0L215.0 453.0L216.3 453.0L217.7 452.8L219.1 452.6L220.4 452.5L221.8 452.4L223.1 452.5L224.5 452.7L225.9 452.9L227.2 453.1L228.6 453.4L229.9 453.5L231.3 453.6L232.7 453.5L234.0 453.3L235.4 453.0L236.7 452.6L238.1 452.2L239.5 451.8L240.8 451.6L242.2 451.5L243.5 451.4L244.9 451.4L246.3 451.3L247.6 451.2L249.0 451.0L250.3 450.8L251.7 450.6L253.1 450.4L254.4 450.3L255.8 450.2L257.1 450.2L258.5 450.1L259.9 450.0L261.2 450.0L262.6 450.3L263.9 450.8L265.3 451.6L266.7 452.7L268.0 453.9L269.4 455.1L270.7 456.0L272.1 456.5L273.5 456.7L274.8 456.6L276.2 456.3L277.5 455.9L278.9 455.6L280.3 455.4L281.6 455.3L283.0 455.1L284.3 454.6L285.7 453.3L287.1 451.5L288.4 449.7L289.8 448.5L291.1 447.9L292.5 447.9L293.9 448.8L295.2 450.6L296.6 453.1L297.9 455.5L299.3 457.4L300.7 458.5L302.0 458.4L303.4 456.8L304.7 454.4L306.1 451.9L307.5 449.4L308.8 447.3L310.2 446.0L311.5 445.7L312.9 446.0L314.3 446.7L315.6 447.9L317.0 449.6L318.3 451.6L319.7 453.8L321.1 455.4L322.4 455.5L323.8 454.1L325.1 451.6L326.5 448.8L327.9 446.4L329.2 444.9L330.6 444.6L331.9 445.6L333.3 447.8L334.7 450.5L336.0 453.1L337.4 455.1L338.7 456.5L340.1 457.2L341.5 457.3L342.8 456.9L344.2 456.0L345.5 455.0L346.9 454.1L348.3 452.9L349.6 451.6L351.0 450.2L352.3 449.1L353.7 448.4L355.1 448.3L356.4 448.7L357.8 450.0L359.1 452.2L360.5 455.3L361.9 459.0L363.2 462.5L364.6 464.8L365.9 465.3L367.3 464.0L368.7 461.7L370.0 458.8L371.4 456.1L372.7 453.9L374.1 452.4L375.5 451.5L376.8 450.8L378.2 449.7L379.5 447.9L380.9 445.6L382.3 443.4L383.6 441.9L385.0 441.8L386.3 443.5L387.7 446.6L389.1 450.1L390.4 453.0L391.8 454.5L393.1 453.9L394.5 452.2L395.9 450.2L397.2 448.8L398.6 448.7L399.9 450.0L401.3 452.3L402.7 454.6L404.0 456.2L405.4 456.1L406.7 454.6L408.1 452.2L409.5 449.6L410.8 447.5L412.2 446.7L413.5 447.4L414.9 449.2L416.3 451.3L417.6 453.2L419.0 454.1L420.3 453.5L421.7 452.0L423.1 450.2L424.4 448.6L425.8 447.4L427.1 446.7L428.5 446.8L429.9 447.9L431.2 449.9L432.6 452.7L433.9 456.1L435.3 459.5L436.7 462.7L438.0 464.8L439.4 465.2L440.7 463.9L442.1 461.3L443.5 458.1L444.8 455.1L446.2 452.6L447.5 450.8L448.9 449.6L450.3 449.0L451.6 449.0L453.0 449.3L454.3 449.8L455.7 450.2"/>
<path d="M115.7 454.8L117.1 454.8L118.4 454.7L119.8 454.6L121.1 454.5L122.5 454.6L123.9 454.7L125.2 454.9L126.6 455.1L127.9 455.1L129.3 455.0L130.7 454.8L132.0 454.5L133.4 454.2L134.7 453.9L136.1 453.7L137.5 453.6L138.8 453.7L140.2 453.8L141.5 453.9L142.9 454.0L144.3 453.9L145.6 453.7L147.0 453.3L148.3 452.8L149.7 452.4L151.1 452.2L152.4 452.1L153.8 452.2L155.1 452.5L156.5 452.7L157.9 453.0L159.2 453.1L160.6 453.0L161.9 452.8L163.3 452.7L164.7 452.7L166.0 452.8L167.4 453.2L168.7 453.6L170.1 454.1L171.5 454.5L172.8 454.7L174.2 454.8L175.5 454.8L176.9 454.6L178.3 454.5L179.6 454.4L181.0 454.3L182.3 454.2L183.7 454.1L185.1 454.0L186.4 453.9L187.8 453.8L189.1 454.0L190.5 454.2L191.9 454.5L193.2 454.8L194.6 455.0L195.9 455.0L197.3 454.8L198.7 454.4L200.0 454.0L201.4 453.6L202.7 453.4L204.1 453.3L205.5 453.4L206.8 453.5L208.2 453.6L209.5 453.5L210.9 453.5L212.3 453.3L213.6 453.3L215.0 453.3L216.3 453.5L217.7 453.7L219.1 454.0L220.4 454.2L221.8 454.3L223.1 454.3L224.5 454.1L225.9 453.9L227.2 453.7L228.6 453.6L229.9 453.6L231.3 453.8L232.7 454.0L234.0 454.2L235.4 454.4L236.7 454.4L238.1 454.3L239.5 454.1L240.8 453.7L242.2 453.4L243.5 453.1L244.9 452.9L246.3 452.8L247.6 452.8L249.0 452.7L250.3 452.6L251.7 452.4L253.1 452.3L254.4 452.1L255.8 452.0L257.1 451.9L258.5 451.9L259.9 452.0L261.2 452.0L262.6 452.1L263.9 452.3L265.3 452.6L266.7 453.0L268.0 453.6L269.4 454.4L270.7 455.2L272.1 456.0L273.5 456.8L274.8 457.5L276.2 458.0L277.5 458.5L278.9 458.9L280.3 459.2L281.6 459.3L283.0 459.1L284.3 458.2L285.7 456.1L287.1 453.2L288.4 450.6L289.8 448.9L291.1 448.2L292.5 448.7L293.9 450.1L295.2 452.6L296.6 455.6L297.9 457.8L299.3 459.0L300.7 459.3L302.0 458.4L303.4 456.4L304.7 454.3L306.1 452.5L307.5 450.9L308.8 449.4L310.2 448.2L311.5 447.2L312.9 446.6L314.3 446.6L315.6 447.4L317.0 449.3L318.3 451.9L319.7 454.9L321.1 457.2L322.4 458.0L323.8 457.1L325.1 454.9L326.5 452.2L327.9 449.9L329.2 448.6L330.6 448.4L331.9 449.5L333.3 451.3L334.7 453.2L336.0 454.6L337.4 455.2L338.7 455.3L340.1 455.1L341.5 455.0L342.8 455.1L344.2 455.4L345.5 456.0L346.9 456.5L348.3 456.5L349.6 455.7L351.0 454.5L352.3 453.0L353.7 451.9L355.1 451.3L356.4 451.5L357.8 452.6L359.1 454.7L360.5 457.4L361.9 460.2L363.2 462.5L364.6 463.4L365.9 462.6L367.3 460.5L368.7 457.6L370.0 454.8L371.4 452.6L372.7 451.3L374.1 451.0L375.5 451.4L376.8 451.9L378.2 452.0L379.5 451.0L380.9 449.3L382.3 447.2L383.6 445.4L385.0 444.8L386.3 445.7L387.7 448.0L389.1 451.0L390.4 453.9L391.8 455.7L393.1 456.0L394.5 455.1L395.9 453.7L397.2 452.3L398.6 451.6L399.9 451.9L401.3 452.8L402.7 454.0L404.0 454.8L405.4 454.5L406.7 453.1L408.1 451.2L409.5 449.2L410.8 447.7L412.2 447.3L413.5 448.4L414.9 450.7L416.3 453.4L417.6 455.9L419.0 457.4L420.3 457.3L421.7 456.0L423.1 454.4L424.4 452.8L425.8 451.5L427.1 450.7L428.5 450.5L429.9 451.1L431.2 452.4L432.6 454.5L433.9 457.2L435.3 460.2L436.7 463.0L438.0 465.2L439.4 465.9L440.7 465.2L442.1 463.0L443.5 459.9L444.8 456.6L446.2 453.5L447.5 451.0L448.9 449.3L450.3 448.6L451.6 448.8L453.0 449.8L454.3 451.0L455.7 451.9"/>
<path d="M115.7 465.9L117.1 466.0L118.4 466.1L119.8 466.3L121.1 466.6L122.5 466.8L123.9 467.0L125.2 467.0L126.6 467.0L127.9 466.8L129.3 466.7L130.7 466.6L132.0 466.7L133.4 466.8L134.7 466.9L136.1 466.9L137.5 466.8L138.8 466.4L140.2 465.9L141.5 465.4L142.9 465.1L144.3 465.0L145.6 465.1L147.0 465.3L148.3 465.6L149.7 465.8L151.1 465.8L152.4 465.5L153.8 465.0L155.1 464.6L156.5 464.3L157.9 464.3L159.2 464.5L160.6 465.0L161.9 465.5L163.3 465.9L164.7 466.1L166.0 466.2L167.4 466.1L168.7 466.0L170.1 466.0L171.5 466.1L172.8 466.5L174.2 466.9L175.5 467.2L176.9 467.3L178.3 467.1L179.6 466.8L181.0 466.3L182.3 465.8L183.7 465.5L185.1 465.3L186.4 465.4L187.8 465.7L189.1 466.0L190.5 466.3L191.9 466.5L193.2 466.5L194.6 466.3L195.9 466.1L197.3 465.9L198.7 465.7L200.0 465.6L201.4 465.7L202.7 465.8L204.1 465.8L205.5 465.8L206.8 465.7L208.2 465.5L209.5 465.3L210.9 465.2L212.3 465.1L213.6 465.2L215.0 465.4L216.3 465.6L217.7 465.8L219.1 466.0L220.4 466.2L221.8 466.3L223.1 466.5L224.5 466.6L225.9 466.8L227.2 466.9L228.6 466.9L229.9 466.8L231.3 466.6L232.7 466.3L234.0 466.0L235.4 465.7L236.7 465.5L238.1 465.3L239.5 465.2L240.8 465.1L242.2 465.1L243.5 465.1L244.9 465.0L246.3 464.8L247.6 464.5L249.0 464.1L250.3 463.6L251.7 463.2L253.1 462.8L254.4 462.6L255.8 462.6L257.1 462.7L258.5 463.0L259.9 463.3L261.2 463.8L262.6 464.3L263.9 464.8L265.3 465.5L266.7 466.3L268.0 467.1L269.4 467.9L270.7 468.7L272.1 469.4L273.5 470.0L274.8 470.5L276.2 470.9L277.5 471.1L278.9 471.4L280.3 471.7L281.6 472.0L283.0 472.2L284.3 471.6L285.7 469.7L287.1 466.6L288.4 463.4L289.8 460.6L291.1 458.5L292.5 457.3L293.9 457.5L295.2 459.5L296.6 463.1L297.9 466.8L299.3 470.0L300.7 472.3L302.0 472.8L303.4 471.0L304.7 468.3L306.1 465.3L307.5 462.5L308.8 460.2L310.2 459.1L311.5 459.0L312.9 459.8L314.3 461.0L315.6 462.5L317.0 464.3L318.3 466.3L319.7 468.2L321.1 469.6L322.4 469.6L323.8 468.1L325.1 465.8L326.5 463.1L327.9 460.6L329.2 458.9L330.6 458.1L331.9 458.7L333.3 460.3L334.7 462.7L336.0 465.3L337.4 467.6L338.7 469.3L340.1 470.2L341.5 470.4L342.8 469.7L344.2 468.4L345.5 467.1L346.9 466.0L348.3 465.1L349.6 464.3L351.0 463.9L352.3 463.7L353.7 463.8L355.1 464.0L356.4 464.5L357.8 465.5L359.1 467.2L360.5 469.7L361.9 472.7L363.2 475.4L364.6 476.8L365.9 476.4L367.3 474.5L368.7 471.7L370.0 468.9L371.4 466.9L372.7 465.8L374.1 465.8L375.5 466.3L376.8 466.7L378.2 466.0L379.5 463.9L380.9 460.7L382.3 457.3L383.6 454.8L385.0 454.1L386.3 455.9L387.7 459.6L389.1 464.1L390.4 467.9L391.8 469.7L393.1 468.9L394.5 466.2L395.9 462.9L397.2 460.0L398.6 458.6L399.9 459.0L401.3 460.9L402.7 463.5L404.0 465.7L405.4 466.6L406.7 466.2L408.1 464.9L409.5 463.3L410.8 461.9L412.2 461.4L413.5 462.1L414.9 463.5L416.3 465.3L417.6 466.8L419.0 467.6L420.3 467.3L421.7 466.4L423.1 465.3L424.4 464.5L425.8 463.9L427.1 463.7L428.5 463.9L429.9 464.6L431.2 465.7L432.6 467.3L433.9 469.3L435.3 471.7L436.7 474.2L438.0 476.5L439.4 477.6L440.7 477.5L442.1 476.3L443.5 474.4L444.8 472.1L446.2 469.9L447.5 467.8L448.9 465.9L450.3 464.4L451.6 463.6L453.0 463.4L454.3 463.6L455.7 463.8"/>
<path d="M115.7 509.7L117.1 509.2L118.4 509.2L119.8 509.5L121.1 510.2L122.5 511.0L123.9 511.6L125.2 512.0L126.6 511.8L127.9 511.4L129.3 510.8L130.7 510.3L132.0 510.2L133.4 510.7L134.7 511.6L136.1 512.8L137.5 513.9L138.8 514.6L140.2 514.8L141.5 514.3L142.9 513.2L144.3 511.9L145.6 510.6L147.0 509.7L148.3 509.3L149.7 509.4L151.1 509.9L152.4 510.4L153.8 510.7L155.1 510.6L156.5 510.0L157.9 509.2L159.2 508.4L160.6 508.0L161.9 508.2L163.3 508.9L164.7 510.0L166.0 511.2L167.4 512.0L168.7 512.4L170.1 512.3L171.5 512.0L172.8 511.9L174.2 512.1L175.5 512.7L176.9 513.5L178.3 514.2L179.6 514.5L181.0 514.0L182.3 512.9L183.7 511.4L185.1 509.9L186.4 508.8L187.8 508.5L189.1 508.8L190.5 509.7L191.9 510.7L193.2 511.6L194.6 512.1L195.9 512.2L197.3 512.1L198.7 511.7L200.0 511.4L201.4 511.2L202.7 511.1L204.1 511.1L205.5 511.2L206.8 511.3L208.2 511.5L209.5 511.7L210.9 511.9L212.3 512.1L213.6 512.1L215.0 511.9L216.3 511.5L217.7 511.0L219.1 510.5L220.4 510.1L221.8 510.1L223.1 510.3L224.5 510.7L225.9 511.1L227.2 511.4L228.6 511.3L229.9 510.9L231.3 510.4L232.7 510.0L234.0 509.9L235.4 510.2L236.7 511.0L238.1 511.9L239.5 512.8L240.8 513.3L242.2 513.1L243.5 512.2L244.9 510.7L246.3 509.1L247.6 507.6L249.0 506.8L250.3 506.6L251.7 507.2L253.1 508.1L254.4 509.0L255.8 509.6L257.1 509.8L258.5 509.5L259.9 509.0L261.2 508.7L262.6 508.7L263.9 509.1L265.3 510.0L266.7 511.1L268.0 512.3L269.4 513.2L270.7 514.0L272.1 514.4L273.5 514.8L274.8 515.1L276.2 515.5L277.5 516.0L278.9 516.5L280.3 517.0L281.6 517.3L283.0 517.1L284.3 516.1L285.7 514.0L287.1 511.0L288.4 508.1L289.8 505.8L291.1 504.6L292.5 505.0L293.9 507.0L295.2 510.4L296.6 514.4L297.9 517.5L299.3 519.0L300.7 518.4L302.0 515.9L303.4 512.2L304.7 508.8L306.1 506.8L307.5 506.4L308.8 507.5L310.2 509.4L311.5 511.0L312.9 511.6L314.3 510.7L315.6 508.8L317.0 506.8L318.3 505.7L319.7 505.8L321.1 507.3L322.4 509.2L323.8 510.8L325.1 511.5L326.5 511.2L327.9 510.1L329.2 508.6L330.6 507.3L331.9 506.8L333.3 507.5L334.7 509.1L336.0 511.2L337.4 513.4L338.7 515.2L340.1 516.3L341.5 516.6L342.8 516.0L344.2 514.6L345.5 512.9L346.9 511.2L348.3 509.8L349.6 508.9L351.0 508.6L352.3 508.7L353.7 509.0L355.1 509.2L356.4 509.2L357.8 509.1L359.1 509.5L360.5 510.6L361.9 512.7L363.2 515.4L364.6 517.7L365.9 518.8L367.3 518.2L368.7 515.9L370.0 512.3L371.4 508.5L372.7 505.8L374.1 504.8L375.5 506.1L376.8 508.9L378.2 512.1L379.5 514.5L380.9 515.4L382.3 514.5L383.6 512.4L385.0 510.1L386.3 508.7L387.7 508.6L389.1 509.6L390.4 511.1L391.8 512.2L393.1 512.1L394.5 511.0L395.9 509.2L397.2 507.5L398.6 506.5L399.9 506.6L401.3 507.6L402.7 509.0L404.0 510.2L405.4 510.4L406.7 509.7L408.1 508.4L409.5 507.2L410.8 506.8L412.2 507.6L413.5 509.7L414.9 512.5L416.3 515.1L417.6 516.7L419.0 516.5L420.3 514.6L421.7 511.8L423.1 509.2L424.4 507.6L425.8 507.1L427.1 507.7L428.5 508.8L429.9 510.0L431.2 511.0L432.6 511.6L433.9 512.1L435.3 512.7L436.7 513.7L438.0 515.0L439.4 516.1L440.7 516.7L442.1 516.7L443.5 515.9L444.8 514.7L446.2 513.4L447.5 512.2L448.9 511.3L450.3 511.0L451.6 511.1L453.0 511.2L454.3 511.1L455.7 510.5"/>
<path d="M115.7 515.1L117.1 515.6L118.4 515.7L119.8 515.3L121.1 514.5L122.5 513.4L123.9 512.2L125.2 511.2L126.6 510.5L127.9 510.1L129.3 510.2L130.7 510.6L132.0 511.3L133.4 512.1L134.7 512.8L136.1 513.4L137.5 513.7L138.8 513.5L140.2 512.9L141.5 512.1L142.9 511.2L144.3 510.6L145.6 510.4L147.0 510.7L148.3 511.3L149.7 512.0L151.1 512.5L152.4 512.6L153.8 512.3L155.1 511.7L156.5 511.1L157.9 510.9L159.2 511.2L160.6 511.9L161.9 512.9L163.3 513.7L164.7 514.2L166.0 514.2L167.4 513.7L168.7 513.1L170.1 512.6L171.5 512.5L172.8 512.8L174.2 513.4L175.5 514.0L176.9 514.4L178.3 514.3L179.6 513.8L181.0 513.1L182.3 512.4L183.7 511.9L185.1 511.8L186.4 512.1L187.8 512.6L189.1 513.2L190.5 513.6L191.9 513.8L193.2 513.8L194.6 513.6L195.9 513.4L197.3 513.2L198.7 513.2L200.0 513.2L201.4 513.3L202.7 513.2L204.1 512.9L205.5 512.4L206.8 511.8L208.2 511.4L209.5 511.1L210.9 511.2L212.3 511.5L213.6 511.9L215.0 512.2L216.3 512.2L217.7 511.9L219.1 511.2L220.4 510.4L221.8 509.8L223.1 509.6L224.5 510.0L225.9 510.8L227.2 511.9L228.6 512.9L229.9 513.5L231.3 513.8L232.7 513.6L234.0 513.4L235.4 513.2L236.7 513.3L238.1 513.7L239.5 514.3L240.8 514.9L242.2 515.0L243.5 514.7L244.9 513.9L246.3 512.8L247.6 511.6L249.0 510.6L250.3 510.1L251.7 510.2L253.1 510.7L254.4 511.5L255.8 512.3L257.1 512.9L258.5 513.3L259.9 513.3L261.2 513.1L262.6 512.7L263.9 512.4L265.3 512.1L266.7 511.9L268.0 511.8L269.4 511.8L270.7 511.7L272.1 511.8L273.5 511.9L274.8 512.2L276.2 512.8L277.5 513.7L278.9 514.7L280.3 515.6L281.6 516.2L283.0 516.1L284.3 515.1L285.7 513.0L287.1 510.5L288.4 508.1L289.8 506.4L291.1 505.9L292.5 506.6L293.9 508.2L295.2 510.6L296.6 513.2L297.9 515.5L299.3 517.2L300.7 518.2L302.0 518.3L303.4 517.3L304.7 515.5L306.1 513.1L307.5 510.1L308.8 507.1L310.2 504.7L311.5 503.3L312.9 503.3L314.3 504.8L315.6 507.6L317.0 511.3L318.3 515.1L319.7 518.4L321.1 520.3L322.4 520.3L323.8 518.6L325.1 516.0L326.5 513.3L327.9 511.2L329.2 510.0L330.6 509.8L331.9 510.4L333.3 511.3L334.7 512.2L336.0 512.7L337.4 512.9L338.7 512.9L340.1 513.0L341.5 513.2L342.8 513.4L344.2 513.4L345.5 513.0L346.9 512.2L348.3 510.9L349.6 509.4L351.0 508.1L352.3 507.5L353.7 508.0L355.1 509.5L356.4 511.5L357.8 513.7L359.1 515.4L360.5 516.3L361.9 516.3L363.2 515.7L364.6 514.6L365.9 513.7L367.3 513.3L368.7 513.7L370.0 514.6L371.4 515.5L372.7 515.9L374.1 515.4L375.5 514.1L376.8 512.2L378.2 510.2L379.5 508.5L380.9 507.4L382.3 507.2L383.6 507.7L385.0 509.0L386.3 510.9L387.7 513.2L389.1 515.3L390.4 516.9L391.8 517.5L393.1 516.7L394.5 514.8L395.9 512.3L397.2 509.9L398.6 508.2L399.9 507.8L401.3 508.8L402.7 511.0L404.0 513.6L405.4 515.6L406.7 516.4L408.1 515.7L409.5 513.6L410.8 510.4L412.2 507.1L413.5 504.7L414.9 503.6L416.3 504.0L417.6 505.8L419.0 508.4L420.3 511.0L421.7 513.3L423.1 515.1L424.4 516.1L425.8 516.3L427.1 516.0L428.5 515.4L429.9 515.0L431.2 515.0L432.6 515.2L433.9 515.5L435.3 515.9L436.7 516.1L438.0 516.0L439.4 515.6L440.7 514.9L442.1 514.1L443.5 513.4L444.8 512.7L446.2 512.2L447.5 511.7L448.9 511.1L450.3 510.5L451.6 510.1L453.0 509.8L454.3 509.8L455.7 509.8"/>
<path d="M115.7 515.0L117.1 515.1L118.4 515.3L119.8 515.4L121.1 515.2L122.5 514.8L123.9 514.3L125.2 513.8L126.6 513.4L127.9 513.3L129.3 513.5L130.7 513.9L132.0 514.3L133.4 514.5L134.7 514.5L136.1 514.4L137.5 514.1L138.8 513.8L140.2 513.5L141.5 513.3L142.9 513.1L144.3 512.9L145.6 512.8L147.0 512.7L148.3 512.7L149.7 512.8L151.1 513.0L152.4 513.3L153.8 513.4L155.1 513.3L156.5 512.9L157.9 512.3L159.2 511.7L160.6 511.3L161.9 511.5L163.3 512.3L164.7 513.6L166.0 515.2L167.4 516.5L168.7 517.3L170.1 517.3L171.5 516.7L172.8 515.6L174.2 514.3L175.5 513.3L176.9 512.7L178.3 512.4L179.6 512.5L181.0 512.6L182.3 512.6L183.7 512.5L185.1 512.5L186.4 512.7L187.8 513.3L189.1 514.4L190.5 515.7L191.9 516.9L193.2 517.7L194.6 517.8L195.9 517.2L197.3 516.1L198.7 514.9L200.0 513.8L201.4 513.2L202.7 513.2L204.1 513.6L205.5 514.2L206.8 514.6L208.2 514.9L209.5 514.7L210.9 514.3L212.3 513.7L213.6 513.1L215.0 512.6L216.3 512.4L217.7 512.4L219.1 512.6L220.4 512.9L221.8 513.3L223.1 513.7L224.5 513.9L225.9 514.0L227.2 514.1L228.6 514.1L229.9 514.2L231.3 514.5L232.7 514.8L234.0 515.2L235.4 515.5L236.7 515.7L238.1 515.5L239.5 515.0L240.8 514.3L242.2 513.4L243.5 512.7L244.9 512.1L246.3 511.8L247.6 511.8L249.0 511.9L250.3 512.0L251.7 511.9L253.1 511.6L254.4 511.2L255.8 510.6L257.1 510.1L258.5 509.9L259.9 510.0L261.2 510.4L262.6 511.2L263.9 512.2L265.3 513.4L266.7 514.6L268.0 515.6L269.4 516.4L270.7 517.0L272.1 517.4L273.5 517.8L274.8 518.5L276.2 519.4L277.5 520.6L278.9 521.7L280.3 522.3L281.6 522.0L283.0 520.6L284.3 518.0L285.7 514.5L287.1 510.9L288.4 508.5L289.8 507.9L291.1 508.8L292.5 510.6L293.9 512.7L295.2 514.8L296.6 516.6L297.9 517.6L299.3 518.1L300.7 518.4L302.0 518.2L303.4 517.0L304.7 514.9L306.1 512.0L307.5 508.4L308.8 504.7L310.2 502.0L311.5 501.1L312.9 502.2L314.3 505.0L315.6 509.0L317.0 513.0L318.3 516.3L319.7 518.2L321.1 518.6L322.4 517.5L323.8 515.7L325.1 513.8L326.5 512.4L327.9 511.7L329.2 511.5L330.6 511.4L331.9 511.4L333.3 511.5L334.7 511.9L336.0 512.6L337.4 513.8L338.7 515.2L340.1 516.8L341.5 518.0L342.8 518.5L344.2 518.1L345.5 517.3L346.9 516.2L348.3 515.3L349.6 514.6L351.0 514.2L352.3 514.2L353.7 514.1L355.1 513.7L356.4 512.9L357.8 512.0L359.1 511.5L360.5 512.0L361.9 513.6L363.2 516.2L364.6 518.9L365.9 521.0L367.3 521.9L368.7 521.4L370.0 519.5L371.4 516.9L372.7 514.3L374.1 512.5L375.5 511.8L376.8 512.2L378.2 513.2L379.5 513.9L380.9 513.8L382.3 512.6L383.6 510.5L385.0 508.4L386.3 506.9L387.7 506.6L389.1 507.4L390.4 508.7L391.8 509.9L393.1 510.1L394.5 509.6L395.9 508.8L397.2 508.3L398.6 508.6L399.9 510.1L401.3 512.3L402.7 514.8L404.0 516.6L405.4 516.9L406.7 515.8L408.1 513.8L409.5 511.7L410.8 510.3L412.2 510.4L413.5 512.2L414.9 515.1L416.3 518.1L417.6 520.4L419.0 521.1L420.3 519.9L421.7 517.2L423.1 513.9L424.4 511.0L425.8 509.0L427.1 508.6L428.5 509.7L429.9 512.1L431.2 515.4L432.6 518.9L433.9 522.1L435.3 524.6L436.7 526.2L438.0 526.3L439.4 524.9L440.7 522.1L442.1 518.4L443.5 514.5L444.8 511.0L446.2 508.5L447.5 507.0L448.9 506.3L450.3 506.6L451.6 507.7L453.0 509.3L454.3 511.0L455.7 512.6"/>
<path d="M115.7 516.3L117.1 516.1L118.4 516.3L119.8 516.5L121.1 516.7L122.5 516.7L123.9 516.4L125.2 516.0L126.6 515.6L127.9 515.3L129.3 515.4L130.7 515.7L132.0 516.0L133.4 516.2L134.7 516.0L136.1 515.3L137.5 514.4L138.8 513.5L140.2 512.9L141.5 512.9L142.9 513.4L144.3 514.3L145.6 515.2L147.0 515.9L148.3 516.1L149.7 515.8L151.1 515.2L152.4 514.7L153.8 514.4L155.1 514.6L156.5 515.1L157.9 515.7L159.2 516.1L160.6 516.1L161.9 515.7L163.3 515.0L164.7 514.2L166.0 513.7L167.4 513.7L168.7 514.1L170.1 514.8L171.5 515.7L172.8 516.4L174.2 516.9L175.5 517.0L176.9 516.7L178.3 516.3L179.6 515.8L181.0 515.5L182.3 515.4L183.7 515.7L185.1 516.1L186.4 516.6L187.8 517.0L189.1 517.2L190.5 516.8L191.9 516.1L193.2 515.2L194.6 514.3L195.9 513.7L197.3 513.6L198.7 514.0L200.0 514.8L201.4 515.7L202.7 516.4L204.1 516.6L205.5 516.3L206.8 515.6L208.2 514.8L209.5 514.0L210.9 513.6L212.3 513.5L213.6 513.7L215.0 514.0L216.3 514.4L217.7 514.8L219.1 515.0L220.4 515.2L221.8 515.4L223.1 515.6L224.5 516.0L225.9 516.3L227.2 516.7L228.6 516.9L229.9 517.0L231.3 516.9L232.7 516.7L234.0 516.5L235.4 516.3L236.7 516.1L238.1 516.0L239.5 516.1L240.8 516.2L242.2 516.2L243.5 516.1L244.9 515.8L246.3 515.3L247.6 514.7L249.0 513.9L250.3 513.2L251.7 512.7L253.1 512.4L254.4 512.3L255.8 512.3L257.1 512.5L258.5 512.9L259.9 513.3L261.2 513.9L262.6 514.6L263.9 515.5L265.3 516.3L266.7 517.0L268.0 517.5L269.4 517.8L270.7 517.9L272.1 518.1L273.5 518.3L274.8 518.6L276.2 518.8L277.5 518.7L278.9 518.1L280.3 517.1L281.6 515.7L283.0 514.5L284.3 513.6L285.7 513.3L287.1 513.4L288.4 513.8L289.8 514.2L291.1 514.1L292.5 513.4L293.9 512.4L295.2 511.8L296.6 511.9L297.9 512.8L299.3 514.2L300.7 515.7L302.0 516.5L303.4 515.8L304.7 514.0L306.1 511.7L307.5 509.4L308.8 508.1L310.2 508.5L311.5 510.8L312.9 514.3L314.3 518.2L315.6 521.8L317.0 524.2L318.3 525.3L319.7 525.1L321.1 523.9L322.4 522.0L323.8 519.9L325.1 518.0L326.5 516.7L327.9 515.7L329.2 514.8L330.6 513.8L331.9 512.7L333.3 511.8L334.7 511.2L336.0 511.1L337.4 511.6L338.7 512.4L340.1 513.1L341.5 513.4L342.8 512.9L344.2 512.0L345.5 511.1L346.9 510.9L348.3 511.6L349.6 513.3L351.0 515.5L352.3 517.6L353.7 518.8L355.1 518.5L356.4 516.8L357.8 514.4L359.1 512.0L360.5 510.6L361.9 510.6L363.2 512.0L364.6 514.2L365.9 516.4L367.3 517.8L368.7 518.2L370.0 517.6L371.4 516.6L372.7 515.7L374.1 515.5L375.5 516.1L376.8 517.5L378.2 518.9L379.5 519.8L380.9 519.8L382.3 518.7L383.6 516.8L385.0 514.6L386.3 512.8L387.7 511.8L389.1 511.7L390.4 512.3L391.8 513.3L393.1 514.0L394.5 514.4L395.9 514.3L397.2 513.8L398.6 513.1L399.9 512.6L401.3 512.5L402.7 512.8L404.0 513.3L405.4 513.8L406.7 514.2L408.1 514.3L409.5 514.1L410.8 514.1L412.2 514.4L413.5 515.5L414.9 517.4L416.3 519.7L417.6 521.7L419.0 522.8L420.3 522.3L421.7 520.5L423.1 517.7L424.4 514.8L425.8 512.6L427.1 511.7L428.5 512.3L429.9 514.1L431.2 516.6L432.6 519.0L433.9 520.5L435.3 521.0L436.7 520.5L438.0 519.3L439.4 517.6L440.7 516.0L442.1 514.8L443.5 514.1L444.8 513.8L446.2 513.6L447.5 513.1L448.9 512.1L450.3 510.9L451.6 509.8L453.0 509.2L454.3 509.4L455.7 510.6"/>
<path d="M115.7 515.6L117.1 516.0L118.4 516.3L119.8 516.4L121.1 516.2L122.5 515.9L123.9 515.6L125.2 515.6L126.6 515.9L127.9 516.5L129.3 517.1L130.7 517.4L132.0 517.5L133.4 517.2L134.7 516.8L136.1 516.4L137.5 516.2L138.8 516.2L140.2 516.5L141.5 516.9L142.9 517.1L144.3 517.1L145.6 516.7L147.0 516.2L148.3 515.5L149.7 514.8L151.1 514.2L152.4 513.8L153.8 513.6L155.1 513.8L156.5 514.3L157.9 515.2L159.2 516.4L160.6 517.8L161.9 518.9L163.3 519.7L164.7 519.8L166.0 519.3L167.4 518.3L168.7 517.2L170.1 516.3L171.5 515.9L172.8 516.2L174.2 517.0L175.5 517.8L176.9 518.4L178.3 518.3L179.6 517.7L181.0 516.7L182.3 515.6L183.7 515.0L185.1 515.0L186.4 515.7L187.8 516.9L189.1 518.1L190.5 519.0L191.9 519.3L193.2 518.8L194.6 518.0L195.9 517.0L197.3 516.1L198.7 515.7L200.0 515.7L201.4 515.9L202.7 516.1L204.1 516.3L205.5 516.3L206.8 516.1L208.2 515.9L209.5 515.7L210.9 515.7L212.3 515.8L213.6 515.8L215.0 515.8L216.3 515.7L217.7 515.5L219.1 515.4L220.4 515.5L221.8 515.8L223.1 516.3L224.5 517.0L225.9 517.6L227.2 518.1L228.6 518.4L229.9 518.4L231.3 518.4L232.7 518.2L234.0 517.8L235.4 517.4L236.7 516.9L238.1 516.3L239.5 515.8L240.8 515.5L242.2 515.3L243.5 515.3L244.9 515.3L246.3 515.3L247.6 515.2L249.0 515.0L250.3 514.9L251.7 515.0L253.1 515.3L254.4 515.8L255.8 516.5L257.1 517.2L258.5 517.6L259.9 517.5L261.2 517.2L262.6 516.7L263.9 516.2L265.3 516.2L266.7 516.5L268.0 517.4L269.4 518.4L270.7 519.5L272.1 520.4L273.5 521.1L274.8 521.7L276.2 522.3L277.5 522.9L278.9 523.5L280.3 524.0L281.6 524.4L283.0 524.4L284.3 523.5L285.7 521.4L287.1 518.2L288.4 514.9L289.8 512.1L291.1 509.8L292.5 508.3L293.9 508.0L295.2 509.3L296.6 512.0L297.9 515.0L299.3 517.7L300.7 519.7L302.0 519.9L303.4 517.9L304.7 514.7L306.1 511.3L307.5 508.3L308.8 506.3L310.2 506.0L311.5 507.3L312.9 509.8L314.3 512.7L315.6 515.5L317.0 517.8L318.3 519.3L319.7 520.0L321.1 519.6L322.4 517.9L323.8 515.2L325.1 512.2L326.5 509.9L327.9 508.6L329.2 508.5L330.6 509.5L331.9 511.6L333.3 514.3L334.7 517.1L336.0 519.4L337.4 520.9L338.7 521.6L340.1 521.6L341.5 521.1L342.8 520.3L344.2 519.4L345.5 518.8L346.9 518.3L348.3 518.0L349.6 517.4L351.0 516.7L352.3 515.9L353.7 515.3L355.1 515.2L356.4 515.7L357.8 517.2L359.1 519.6L360.5 522.5L361.9 525.4L363.2 527.5L364.6 527.9L365.9 526.4L367.3 523.5L368.7 520.0L370.0 516.8L371.4 514.6L372.7 513.6L374.1 513.4L375.5 513.7L376.8 513.8L378.2 513.1L379.5 511.6L380.9 509.9L382.3 508.6L383.6 508.4L385.0 509.7L386.3 512.2L387.7 515.3L389.1 517.9L390.4 519.3L391.8 518.9L393.1 517.0L394.5 514.3L395.9 512.2L397.2 511.4L398.6 512.5L399.9 515.2L401.3 518.6L402.7 521.8L404.0 523.4L405.4 522.6L406.7 519.7L408.1 515.5L409.5 511.2L410.8 507.9L412.2 506.7L413.5 507.9L414.9 510.8L416.3 514.4L417.6 517.6L419.0 519.2L420.3 519.1L421.7 517.7L423.1 516.0L424.4 514.8L425.8 514.7L427.1 515.6L428.5 517.3L429.9 519.3L431.2 521.1L432.6 522.4L433.9 523.2L435.3 523.6L436.7 524.2L438.0 524.9L439.4 525.7L440.7 526.3L442.1 526.5L443.5 526.2L444.8 525.1L446.2 523.0L447.5 519.9L448.9 515.8L450.3 511.5L451.6 508.0L453.0 505.9L454.3 505.6L455.7 506.9"/>
<path d="M115.7 520.0L117.1 519.4L118.4 518.5L119.8 517.7L121.1 517.2L122.5 517.1L123.9 517.3L125.2 517.7L126.6 518.0L127.9 518.2L129.3 518.3L130.7 518.4L132.0 518.6L133.4 519.0L134.7 519.6L136.1 520.0L137.5 520.1L138.8 519.5L140.2 518.3L141.5 516.8L142.9 515.4L144.3 514.7L145.6 514.9L147.0 516.0L148.3 517.6L149.7 519.3L151.1 520.3L152.4 520.4L153.8 519.6L155.1 518.3L156.5 517.1L157.9 516.3L159.2 516.1L160.6 516.5L161.9 517.2L163.3 517.8L164.7 518.2L166.0 518.2L167.4 518.2L168.7 518.3L170.1 518.8L171.5 519.6L172.8 520.5L174.2 521.0L175.5 521.0L176.9 520.2L178.3 519.0L179.6 517.8L181.0 517.0L182.3 517.0L183.7 517.7L185.1 518.8L186.4 519.9L187.8 520.4L189.1 520.1L190.5 519.1L191.9 517.7L193.2 516.4L194.6 515.9L195.9 516.2L197.3 517.3L198.7 518.7L200.0 519.9L201.4 520.4L202.7 520.1L204.1 519.0L205.5 517.6L206.8 516.5L208.2 516.0L209.5 516.3L210.9 517.3L212.3 518.3L213.6 519.1L215.0 519.1L216.3 518.4L217.7 517.3L219.1 516.0L220.4 515.3L221.8 515.3L223.1 516.2L224.5 517.6L225.9 519.2L227.2 520.4L228.6 520.8L229.9 520.4L231.3 519.3L232.7 517.9L234.0 516.8L235.4 516.3L236.7 516.5L238.1 517.4L239.5 518.5L240.8 519.5L242.2 520.0L243.5 519.9L244.9 519.1L246.3 517.9L247.6 516.7L249.0 515.8L250.3 515.5L251.7 515.6L253.1 516.1L254.4 516.8L255.8 517.4L257.1 517.9L258.5 518.1L259.9 518.1L261.2 518.0L262.6 517.7L263.9 517.3L265.3 517.0L266.7 516.7L268.0 516.6L269.4 516.8L270.7 517.5L272.1 518.6L273.5 520.1L274.8 521.7L276.2 523.1L277.5 524.1L278.9 524.5L280.3 524.4L281.6 524.0L283.0 523.2L284.3 522.2L285.7 520.7L287.1 518.9L288.4 517.0L289.8 515.3L291.1 513.9L292.5 512.7L293.9 512.2L295.2 512.5L296.6 513.7L297.9 515.2L299.3 516.6L300.7 517.9L302.0 518.4L303.4 517.9L304.7 516.9L306.1 515.8L307.5 514.5L308.8 513.4L310.2 512.7L311.5 512.8L312.9 513.5L314.3 514.7L315.6 516.4L317.0 518.3L318.3 520.0L319.7 521.1L321.1 521.4L322.4 520.5L323.8 518.8L325.1 516.8L326.5 515.2L327.9 514.1L329.2 513.8L330.6 514.1L331.9 514.8L333.3 515.9L334.7 517.0L336.0 518.2L337.4 519.2L338.7 519.9L340.1 520.4L341.5 520.6L342.8 520.3L344.2 519.8L345.5 519.2L346.9 519.0L348.3 519.0L349.6 519.3L351.0 519.9L352.3 520.3L353.7 520.4L355.1 520.0L356.4 519.2L357.8 518.2L359.1 517.8L360.5 518.2L361.9 519.7L363.2 522.0L364.6 524.5L365.9 526.3L367.3 527.0L368.7 526.6L370.0 525.1L371.4 522.9L372.7 520.4L374.1 518.3L375.5 516.9L376.8 516.2L378.2 516.0L379.5 515.8L380.9 515.5L382.3 514.8L383.6 513.8L385.0 513.0L386.3 512.6L387.7 512.7L389.1 513.4L390.4 514.2L391.8 514.8L393.1 515.1L394.5 515.1L395.9 515.2L397.2 515.5L398.6 516.3L399.9 517.7L401.3 519.3L402.7 520.7L404.0 521.4L405.4 520.9L406.7 519.2L408.1 516.9L409.5 514.5L410.8 512.6L412.2 512.0L413.5 513.0L414.9 515.0L416.3 517.3L417.6 519.2L419.0 519.8L420.3 518.8L421.7 516.8L423.1 514.6L424.4 513.0L425.8 512.4L427.1 512.9L428.5 514.3L429.9 516.1L431.2 517.9L432.6 519.2L433.9 520.2L435.3 520.9L436.7 521.8L438.0 522.9L439.4 524.1L440.7 525.3L442.1 526.2L443.5 526.4L444.8 525.7L446.2 524.1L447.5 521.9L448.9 519.3L450.3 517.1L451.6 515.4L453.0 514.6L454.3 514.5L455.7 514.6"/>
<path d="M115.7 520.0L117.1 519.7L118.4 519.3L119.8 519.1L121.1 519.0L122.5 519.1L123.9 519.3L125.2 519.6L126.6 519.9L127.9 520.3L129.3 520.5L130.7 520.6L132.0 520.5L133.4 520.2L134.7 519.8L136.1 519.4L137.5 519.1L138.8 519.1L140.2 519.3L141.5 519.6L142.9 519.8L144.3 519.6L145.6 519.0L147.0 518.2L148.3 517.3L149.7 516.7L151.1 516.7L152.4 517.4L153.8 518.7L155.1 520.1L156.5 521.4L157.9 522.0L159.2 521.9L160.6 521.3L161.9 520.4L163.3 519.5L164.7 519.1L166.0 519.1L167.4 519.5L168.7 519.9L170.1 520.0L171.5 519.9L172.8 519.4L174.2 518.9L175.5 518.5L176.9 518.5L178.3 518.9L179.6 519.6L181.0 520.4L182.3 520.9L183.7 521.0L185.1 520.6L186.4 519.9L187.8 519.1L189.1 518.5L190.5 518.2L191.9 518.4L193.2 519.0L194.6 519.8L195.9 520.6L197.3 521.2L198.7 521.4L200.0 521.4L201.4 521.0L202.7 520.4L204.1 519.9L205.5 519.4L206.8 519.2L208.2 519.2L209.5 519.3L210.9 519.4L212.3 519.5L213.6 519.5L215.0 519.4L216.3 519.2L217.7 519.1L219.1 519.1L220.4 519.1L221.8 519.2L223.1 519.2L224.5 519.0L225.9 518.7L227.2 518.3L228.6 517.9L229.9 517.7L231.3 517.8L232.7 518.2L234.0 518.8L235.4 519.4L236.7 519.9L238.1 520.0L239.5 519.7L240.8 519.2L242.2 518.6L243.5 518.1L244.9 518.0L246.3 518.3L247.6 519.0L249.0 519.8L250.3 520.6L251.7 521.1L253.1 521.2L254.4 520.7L255.8 519.8L257.1 518.8L258.5 517.9L259.9 517.3L261.2 517.2L262.6 517.5L263.9 518.1L265.3 518.8L266.7 519.5L268.0 519.8L269.4 519.9L270.7 519.8L272.1 519.6L273.5 519.7L274.8 520.1L276.2 520.9L277.5 521.9L278.9 522.8L280.3 523.2L281.6 522.7L283.0 521.4L284.3 519.4L285.7 516.8L287.1 514.5L288.4 513.3L289.8 513.6L291.1 515.2L292.5 517.6L293.9 520.2L295.2 522.6L296.6 524.4L297.9 525.3L299.3 525.4L300.7 525.1L302.0 524.5L303.4 523.4L304.7 522.1L306.1 520.7L307.5 518.8L308.8 516.7L310.2 514.5L311.5 512.9L312.9 512.3L314.3 512.9L315.6 514.9L317.0 518.2L318.3 522.2L319.7 525.9L321.1 528.3L322.4 528.4L323.8 526.1L325.1 522.1L326.5 517.5L327.9 513.4L329.2 511.0L330.6 510.6L331.9 512.2L333.3 515.2L334.7 518.5L336.0 521.1L337.4 522.4L338.7 522.2L340.1 521.1L341.5 519.6L342.8 518.4L344.2 517.6L345.5 517.5L346.9 517.7L348.3 517.8L349.6 517.5L351.0 516.9L352.3 516.5L353.7 516.7L355.1 517.8L356.4 519.8L357.8 522.4L359.1 525.0L360.5 526.9L361.9 527.9L363.2 527.5L364.6 525.9L365.9 523.6L367.3 521.3L368.7 519.8L370.0 519.2L371.4 519.5L372.7 520.2L374.1 520.9L375.5 521.1L376.8 520.8L378.2 519.8L379.5 518.3L380.9 516.5L382.3 514.9L383.6 513.7L385.0 513.2L386.3 513.5L387.7 514.5L389.1 515.9L390.4 517.2L391.8 518.1L393.1 518.4L394.5 518.2L395.9 517.9L397.2 517.7L398.6 517.7L399.9 518.1L401.3 518.7L402.7 519.5L404.0 519.9L405.4 519.6L406.7 518.7L408.1 517.3L409.5 515.7L410.8 514.1L412.2 513.1L413.5 513.0L414.9 514.1L416.3 516.0L417.6 518.4L419.0 520.8L420.3 522.5L421.7 523.4L423.1 523.4L424.4 522.7L425.8 521.7L427.1 520.7L428.5 520.3L429.9 520.6L431.2 521.5L432.6 522.4L433.9 522.8L435.3 522.3L436.7 520.7L438.0 518.4L439.4 515.7L440.7 513.6L442.1 512.6L443.5 513.3L444.8 515.3L446.2 518.3L447.5 521.3L448.9 523.7L450.3 525.0L451.6 525.2L453.0 524.5L454.3 523.4L455.7 522.2"/>
<path d="M115.7 521.5L117.1 521.7L118.4 521.7L119.8 521.4L121.1 521.1L122.5 520.8L123.9 520.6L125.2 520.6L126.6 520.8L127.9 521.0L129.3 521.0L130.7 520.9L132.0 520.7L133.4 520.5L134.7 520.4L136.1 520.7L137.5 521.3L138.8 522.1L140.2 522.8L141.5 523.1L142.9 523.0L144.3 522.4L145.6 521.5L147.0 520.6L148.3 519.8L149.7 519.5L151.1 519.6L152.4 519.9L153.8 520.2L155.1 520.4L156.5 520.4L157.9 520.1L159.2 519.6L160.6 519.3L161.9 519.1L163.3 519.2L164.7 519.6L166.0 520.2L167.4 520.9L168.7 521.4L170.1 521.7L171.5 521.8L172.8 521.7L174.2 521.4L175.5 521.0L176.9 520.6L178.3 520.2L179.6 520.0L181.0 519.8L182.3 519.8L183.7 519.9L185.1 520.2L186.4 520.5L187.8 521.0L189.1 521.5L190.5 521.9L191.9 522.2L193.2 522.3L194.6 522.2L195.9 522.0L197.3 521.9L198.7 521.8L200.0 521.9L201.4 522.1L202.7 522.1L204.1 522.0L205.5 521.5L206.8 520.8L208.2 519.9L209.5 519.0L210.9 518.4L212.3 518.2L213.6 518.5L215.0 519.0L216.3 519.7L217.7 520.2L219.1 520.4L220.4 520.3L221.8 520.0L223.1 519.7L224.5 519.6L225.9 519.7L227.2 520.1L228.6 520.7L229.9 521.3L231.3 521.9L232.7 522.4L234.0 522.8L235.4 523.1L236.7 523.3L238.1 523.3L239.5 522.9L240.8 522.2L242.2 521.1L243.5 520.0L244.9 519.1L246.3 518.5L247.6 518.5L249.0 519.0L250.3 519.7L251.7 520.4L253.1 520.9L254.4 521.1L255.8 520.9L257.1 520.6L258.5 520.5L259.9 520.5L261.2 520.8L262.6 521.2L263.9 521.6L265.3 522.0L266.7 522.1L268.0 522.0L269.4 521.8L270.7 521.5L272.1 521.3L273.5 521.2L274.8 521.1L276.2 521.1L277.5 521.0L278.9 521.0L280.3 521.0L281.6 521.0L283.0 521.1L284.3 521.1L285.7 520.5L287.1 519.3L288.4 518.1L289.8 517.0L291.1 516.1L292.5 515.6L293.9 515.8L295.2 517.4L296.6 520.2L297.9 523.6L299.3 526.9L300.7 529.6L302.0 530.6L303.4 529.3L304.7 526.3L306.1 522.4L307.5 517.9L308.8 514.0L310.2 511.6L311.5 511.2L312.9 512.6L314.3 515.4L315.6 518.8L317.0 522.0L318.3 524.4L319.7 525.5L321.1 524.8L322.4 522.2L323.8 518.5L325.1 515.0L326.5 512.8L327.9 512.6L329.2 514.2L330.6 516.9L331.9 519.9L333.3 522.6L334.7 524.0L336.0 524.3L337.4 523.8L338.7 522.9L340.1 522.4L341.5 522.3L342.8 522.5L344.2 522.4L345.5 522.1L346.9 521.4L348.3 520.1L349.6 518.7L351.0 517.7L352.3 517.5L353.7 518.0L355.1 519.1L356.4 520.5L357.8 521.8L359.1 522.9L360.5 523.7L361.9 524.2L363.2 524.2L364.6 523.4L365.9 521.9L367.3 520.2L368.7 518.7L370.0 517.8L371.4 517.7L372.7 518.4L374.1 519.5L375.5 520.4L376.8 520.6L378.2 519.7L379.5 517.8L380.9 515.3L382.3 513.2L383.6 512.2L385.0 512.9L386.3 515.3L387.7 519.0L389.1 522.8L390.4 525.6L391.8 526.8L393.1 526.2L394.5 524.9L395.9 523.7L397.2 523.3L398.6 523.9L399.9 525.3L401.3 526.5L402.7 526.9L404.0 525.5L405.4 522.2L406.7 517.7L408.1 513.0L409.5 509.1L410.8 507.0L412.2 507.2L413.5 509.8L414.9 513.9L416.3 518.6L417.6 522.7L419.0 525.1L420.3 525.1L421.7 523.3L423.1 520.6L424.4 517.9L425.8 515.8L427.1 515.0L428.5 515.7L429.9 517.9L431.2 521.1L432.6 524.5L433.9 527.6L435.3 529.8L436.7 531.0L438.0 530.8L439.4 529.4L440.7 527.3L442.1 525.2L443.5 523.6L444.8 522.9L446.2 523.0L447.5 523.4L448.9 523.4L450.3 523.0L451.6 522.1L453.0 520.8L454.3 519.3L455.7 517.7"/>
<path d="M115.7 522.4L117.1 523.0L118.4 523.6L119.8 523.9L121.1 523.8L122.5 523.2L123.9 522.3L125.2 521.2L126.6 520.3L127.9 519.8L129.3 519.9L130.7 520.6L132.0 521.6L133.4 522.7L134.7 523.5L136.1 523.8L137.5 523.5L138.8 522.9L140.2 522.1L141.5 521.5L142.9 521.3L144.3 521.4L145.6 521.7L147.0 522.0L148.3 522.0L149.7 521.8L151.1 521.4L152.4 521.0L153.8 521.0L155.1 521.3L156.5 522.0L157.9 522.8L159.2 523.6L160.6 524.1L161.9 524.3L163.3 524.1L164.7 523.7L166.0 523.4L167.4 523.3L168.7 523.4L170.1 523.5L171.5 523.5L172.8 523.1L174.2 522.3L175.5 521.0L176.9 519.6L178.3 518.5L179.6 518.0L181.0 518.2L182.3 519.3L183.7 521.1L185.1 523.0L186.4 524.6L187.8 525.7L189.1 525.8L190.5 525.3L191.9 524.2L193.2 523.0L194.6 522.0L195.9 521.5L197.3 521.6L198.7 522.0L200.0 522.5L201.4 522.9L202.7 522.9L204.1 522.5L205.5 521.9L206.8 521.0L208.2 520.3L209.5 519.7L210.9 519.6L212.3 519.7L213.6 520.2L215.0 520.9L216.3 521.6L217.7 522.4L219.1 523.0L220.4 523.5L221.8 523.8L223.1 523.9L224.5 523.8L225.9 523.7L227.2 523.5L228.6 523.5L229.9 523.4L231.3 523.5L232.7 523.5L234.0 523.3L235.4 523.0L236.7 522.6L238.1 522.1L239.5 521.7L240.8 521.5L242.2 521.4L243.5 521.6L244.9 521.9L246.3 522.1L247.6 522.2L249.0 522.2L250.3 522.0L251.7 521.8L253.1 521.6L254.4 521.4L255.8 521.3L257.1 521.2L258.5 521.1L259.9 521.0L261.2 520.9L262.6 521.1L263.9 521.5L265.3 522.1L266.7 522.9L268.0 523.8L269.4 524.4L270.7 524.6L272.1 524.3L273.5 523.7L274.8 523.1L276.2 522.7L277.5 523.0L278.9 523.9L280.3 525.2L281.6 526.5L283.0 527.3L284.3 526.8L285.7 524.7L287.1 521.4L288.4 518.1L289.8 515.8L291.1 514.8L292.5 515.3L293.9 517.0L295.2 519.8L296.6 522.6L297.9 524.7L299.3 525.6L300.7 525.6L302.0 524.7L303.4 523.3L304.7 522.1L306.1 521.3L307.5 520.8L308.8 520.2L310.2 519.5L311.5 518.6L312.9 517.6L314.3 516.9L315.6 517.0L317.0 518.0L318.3 520.2L319.7 523.0L321.1 525.9L322.4 527.7L323.8 528.1L325.1 527.1L326.5 525.0L327.9 522.5L329.2 520.0L330.6 518.1L331.9 517.1L333.3 517.1L334.7 518.0L336.0 519.5L337.4 521.4L338.7 523.3L340.1 525.0L341.5 526.1L342.8 526.4L344.2 525.6L345.5 523.9L346.9 521.9L348.3 520.1L349.6 518.9L351.0 519.0L352.3 520.4L353.7 522.8L355.1 525.4L356.4 527.4L357.8 528.4L359.1 528.3L360.5 527.5L361.9 526.8L363.2 526.6L364.6 526.7L365.9 526.9L367.3 526.8L368.7 526.1L370.0 524.3L371.4 521.8L372.7 518.7L374.1 516.0L375.5 514.4L376.8 514.2L378.2 515.2L379.5 516.9L380.9 518.7L382.3 520.0L383.6 520.5L385.0 520.6L386.3 520.7L387.7 521.1L389.1 521.9L390.4 522.9L391.8 523.7L393.1 523.7L394.5 522.9L395.9 521.6L397.2 520.1L398.6 519.1L399.9 519.0L401.3 520.0L402.7 521.7L404.0 523.5L405.4 524.5L406.7 524.2L408.1 522.8L409.5 520.6L410.8 518.5L412.2 517.5L413.5 518.1L414.9 520.1L416.3 522.9L417.6 525.4L419.0 526.6L420.3 526.0L421.7 524.0L423.1 521.3L424.4 518.9L425.8 517.5L427.1 517.5L428.5 518.5L429.9 520.1L431.2 521.8L432.6 523.1L433.9 524.0L435.3 524.9L436.7 526.3L438.0 528.1L439.4 530.2L440.7 531.9L442.1 532.9L443.5 532.5L444.8 530.8L446.2 528.0L447.5 524.6L448.9 521.1L450.3 518.5L451.6 517.2L453.0 517.2L454.3 518.2L455.7 519.4"/>
<path d="M115.7 528.4L117.1 529.4L118.4 530.3L119.8 530.9L121.1 531.1L122.5 531.1L123.9 530.9L125.2 530.6L126.6 530.2L127.9 529.8L129.3 529.4L130.7 529.0L132.0 528.6L133.4 528.2L134.7 527.9L136.1 527.7L137.5 527.5L138.8 527.4L140.2 527.3L141.5 527.0L142.9 526.8L144.3 526.5L145.6 526.2L147.0 526.2L148.3 526.5L149.7 527.0L151.1 527.7L152.4 528.4L153.8 528.9L155.1 529.2L156.5 529.3L157.9 529.1L159.2 528.8L160.6 528.3L161.9 527.9L163.3 527.6L164.7 527.3L166.0 527.1L167.4 527.1L168.7 527.3L170.1 527.7L171.5 528.1L172.8 528.6L174.2 529.0L175.5 529.2L176.9 529.0L178.3 528.5L179.6 527.7L181.0 526.8L182.3 525.9L183.7 525.2L185.1 524.9L186.4 525.0L187.8 525.6L189.1 526.5L190.5 527.7L191.9 529.0L193.2 530.1L194.6 530.8L195.9 531.1L197.3 530.8L198.7 530.2L200.0 529.4L201.4 528.6L202.7 528.0L204.1 527.8L205.5 527.8L206.8 527.9L208.2 528.1L209.5 528.2L210.9 528.1L212.3 527.9L213.6 527.6L215.0 527.4L216.3 527.3L217.7 527.3L219.1 527.3L220.4 527.3L221.8 527.4L223.1 527.6L224.5 527.9L225.9 528.4L227.2 528.9L228.6 529.2L229.9 529.3L231.3 529.1L232.7 528.5L234.0 527.7L235.4 527.1L236.7 526.7L238.1 526.6L239.5 526.8L240.8 527.1L242.2 527.2L243.5 527.2L244.9 526.9L246.3 526.5L247.6 526.3L249.0 526.3L250.3 526.6L251.7 526.9L253.1 527.1L254.4 527.1L255.8 526.9L257.1 526.6L258.5 526.5L259.9 526.7L261.2 527.4L262.6 528.5L263.9 529.5L265.3 530.2L266.7 530.3L268.0 529.8L269.4 528.8L270.7 527.9L272.1 527.3L273.5 527.6L274.8 528.6L276.2 530.3L277.5 532.0L278.9 533.3L280.3 533.6L281.6 532.9L283.0 531.4L284.3 529.4L285.7 527.3L287.1 525.5L288.4 524.5L289.8 524.4L291.1 524.5L292.5 524.6L293.9 524.3L295.2 524.0L296.6 523.8L297.9 523.6L299.3 523.9L300.7 524.6L302.0 525.6L303.4 526.4L304.7 527.1L306.1 527.4L307.5 527.2L308.8 526.6L310.2 525.9L311.5 525.4L312.9 525.3L314.3 525.7L315.6 526.5L317.0 527.6L318.3 528.8L319.7 529.9L321.1 530.6L322.4 530.6L323.8 529.8L325.1 528.6L326.5 527.4L327.9 526.7L329.2 526.6L330.6 527.3L331.9 528.8L333.3 530.9L334.7 532.9L336.0 534.5L337.4 535.3L338.7 535.0L340.1 533.9L341.5 532.2L342.8 530.2L344.2 528.4L345.5 527.3L346.9 526.9L348.3 527.0L349.6 527.2L351.0 527.2L352.3 526.9L353.7 526.4L355.1 525.7L356.4 525.1L357.8 525.2L359.1 526.2L360.5 528.2L361.9 530.7L363.2 533.1L364.6 534.5L365.9 534.2L367.3 532.5L368.7 529.6L370.0 526.2L371.4 523.1L372.7 520.9L374.1 519.7L375.5 519.6L376.8 520.2L378.2 520.9L379.5 521.3L380.9 521.3L382.3 521.1L383.6 521.3L385.0 522.4L386.3 524.6L387.7 527.9L389.1 531.4L390.4 534.5L391.8 536.3L393.1 536.4L394.5 535.0L395.9 532.7L397.2 530.1L398.6 528.0L399.9 526.7L401.3 526.4L402.7 526.9L404.0 527.6L405.4 527.9L406.7 527.7L408.1 527.0L409.5 525.9L410.8 524.9L412.2 524.4L413.5 524.8L414.9 526.0L416.3 527.8L417.6 529.6L419.0 530.9L420.3 531.2L421.7 530.5L423.1 529.1L424.4 527.5L425.8 526.1L427.1 525.3L428.5 525.4L429.9 526.4L431.2 528.2L432.6 530.2L433.9 532.0L435.3 533.3L436.7 533.8L438.0 533.6L439.4 532.5L440.7 531.1L442.1 529.8L443.5 528.9L444.8 528.7L446.2 528.9L447.5 528.9L448.9 528.5L450.3 527.4L451.6 526.1L453.0 524.9L454.3 524.3L455.7 524.7"/>
<path d="M115.7 586.2L117.1 586.2L118.4 586.3L119.8 586.4L121.1 586.7L122.5 587.0L123.9 587.4L125.2 587.7L126.6 587.9L127.9 588.0L129.3 588.0L130.7 587.8L132.0 587.6L133.4 587.4L134.7 587.3L136.1 587.3L137.5 587.3L138.8 587.4L140.2 587.4L141.5 587.3L142.9 587.0L144.3 586.7L145.6 586.4L147.0 586.1L148.3 585.9L149.7 585.9L151.1 585.9L152.4 586.0L153.8 586.1L155.1 586.1L156.5 586.0L157.9 585.9L159.2 585.9L160.6 585.9L161.9 586.2L163.3 586.5L164.7 586.9L166.0 587.3L167.4 587.5L168.7 587.6L170.1 587.4L171.5 587.2L172.8 587.0L174.2 586.9L175.5 586.9L176.9 587.0L178.3 587.2L179.6 587.4L181.0 587.4L182.3 587.2L183.7 586.8L185.1 586.4L186.4 586.1L187.8 586.1L189.1 586.3L190.5 586.7L191.9 587.2L193.2 587.7L194.6 588.0L195.9 588.1L197.3 587.8L198.7 587.5L200.0 587.0L201.4 586.6L202.7 586.3L204.1 586.2L205.5 586.1L206.8 586.2L208.2 586.2L209.5 586.3L210.9 586.2L212.3 586.1L213.6 586.0L215.0 586.0L216.3 586.0L217.7 586.0L219.1 586.2L220.4 586.3L221.8 586.5L223.1 586.7L224.5 586.8L225.9 587.0L227.2 587.1L228.6 587.2L229.9 587.3L231.3 587.5L232.7 587.7L234.0 587.8L235.4 587.8L236.7 587.6L238.1 587.3L239.5 586.9L240.8 586.3L242.2 585.8L243.5 585.4L244.9 585.1L246.3 585.1L247.6 585.3L249.0 585.5L250.3 585.8L251.7 586.0L253.1 586.0L254.4 585.7L255.8 585.3L257.1 584.8L258.5 584.3L259.9 584.0L261.2 584.0L262.6 584.3L263.9 584.9L265.3 585.7L266.7 586.7L268.0 587.5L269.4 588.1L270.7 588.5L272.1 588.7L273.5 588.8L274.8 589.2L276.2 589.7L277.5 590.4L278.9 591.2L280.3 591.6L281.6 591.6L283.0 590.8L284.3 589.4L285.7 587.2L287.1 585.0L288.4 583.3L289.8 582.4L291.1 582.3L292.5 582.5L293.9 583.0L295.2 583.7L296.6 584.5L297.9 585.5L299.3 586.7L300.7 588.3L302.0 590.0L303.4 591.3L304.7 591.9L306.1 591.5L307.5 589.9L308.8 587.3L310.2 584.5L311.5 582.1L312.9 580.8L314.3 580.9L315.6 582.4L317.0 585.0L318.3 588.0L319.7 590.8L321.1 592.5L322.4 592.6L323.8 591.1L325.1 588.5L326.5 585.7L327.9 583.2L329.2 581.5L330.6 580.7L331.9 580.9L333.3 581.8L334.7 583.1L336.0 584.3L337.4 585.3L338.7 586.0L340.1 586.6L341.5 587.2L342.8 587.7L344.2 588.1L345.5 588.3L346.9 588.3L348.3 587.7L349.6 586.6L351.0 585.3L352.3 584.1L353.7 583.4L355.1 583.6L356.4 584.7L357.8 586.6L359.1 589.0L360.5 591.6L361.9 593.8L363.2 595.3L364.6 595.5L365.9 594.4L367.3 592.7L368.7 590.9L370.0 589.4L371.4 588.6L372.7 588.3L374.1 588.2L375.5 587.7L376.8 586.7L378.2 584.8L379.5 582.3L380.9 579.8L382.3 578.0L383.6 577.7L385.0 578.9L386.3 581.6L387.7 585.0L389.1 588.0L390.4 589.8L391.8 589.9L393.1 588.2L394.5 585.7L395.9 583.4L397.2 582.0L398.6 582.0L399.9 583.5L401.3 585.8L402.7 588.3L404.0 589.9L405.4 589.8L406.7 588.3L408.1 585.9L409.5 583.4L410.8 581.6L412.2 581.3L413.5 582.7L414.9 585.2L416.3 587.7L417.6 589.5L419.0 589.6L420.3 587.8L421.7 585.2L423.1 582.6L424.4 581.0L425.8 580.7L427.1 581.5L428.5 583.0L429.9 584.8L431.2 586.6L432.6 588.0L433.9 589.3L435.3 590.6L436.7 592.2L438.0 593.8L439.4 595.0L440.7 595.5L442.1 595.0L443.5 593.7L444.8 591.8L446.2 589.7L447.5 587.5L448.9 585.8L450.3 584.6L451.6 584.1L453.0 584.2L454.3 584.3L455.7 584.2"/>
<path d="M115.7 591.0L117.1 590.7L118.4 590.4L119.8 590.2L121.1 590.1L122.5 590.3L123.9 590.6L125.2 591.0L126.6 591.4L127.9 591.6L129.3 591.6L130.7 591.3L132.0 591.0L133.4 590.6L134.7 590.3L136.1 590.2L137.5 590.3L138.8 590.5L140.2 590.7L141.5 590.8L142.9 590.7L144.3 590.3L145.6 589.7L147.0 589.1L148.3 588.6L149.7 588.2L151.1 588.1L152.4 588.2L153.8 588.4L155.1 588.8L156.5 589.2L157.9 589.5L159.2 589.9L160.6 590.2L161.9 590.3L163.3 590.4L164.7 590.3L166.0 590.2L167.4 590.0L168.7 589.9L170.1 589.9L171.5 590.1L172.8 590.5L174.2 591.0L175.5 591.5L176.9 591.8L178.3 591.8L179.6 591.5L181.0 590.9L182.3 590.2L183.7 589.5L185.1 589.1L186.4 589.0L187.8 589.4L189.1 590.0L190.5 590.7L191.9 591.3L193.2 591.7L194.6 591.7L195.9 591.4L197.3 590.9L198.7 590.4L200.0 590.0L201.4 589.8L202.7 589.8L204.1 589.8L205.5 589.9L206.8 589.9L208.2 589.8L209.5 589.7L210.9 589.6L212.3 589.5L213.6 589.7L215.0 590.0L216.3 590.3L217.7 590.6L219.1 590.8L220.4 590.7L221.8 590.5L223.1 590.3L224.5 590.0L225.9 589.9L227.2 589.9L228.6 589.9L229.9 590.0L231.3 590.0L232.7 589.9L234.0 589.7L235.4 589.5L236.7 589.4L238.1 589.4L239.5 589.6L240.8 589.9L242.2 590.2L243.5 590.4L244.9 590.3L246.3 590.1L247.6 589.6L249.0 589.1L250.3 588.5L251.7 588.0L253.1 587.6L254.4 587.4L255.8 587.2L257.1 587.1L258.5 587.2L259.9 587.3L261.2 587.6L262.6 588.1L263.9 588.7L265.3 589.6L266.7 590.5L268.0 591.5L269.4 592.5L270.7 593.3L272.1 594.0L273.5 594.6L274.8 595.1L276.2 595.6L277.5 595.9L278.9 596.0L280.3 595.8L281.6 595.3L283.0 594.4L284.3 593.0L285.7 590.6L287.1 587.7L288.4 585.3L289.8 583.9L291.1 583.4L292.5 583.5L293.9 584.5L295.2 586.6L296.6 589.8L297.9 592.7L299.3 595.2L300.7 597.0L302.0 597.2L303.4 595.2L304.7 592.0L306.1 588.4L307.5 584.7L308.8 581.6L310.2 579.9L311.5 579.9L312.9 581.3L314.3 583.7L315.6 586.6L317.0 589.5L318.3 592.0L319.7 593.7L321.1 594.4L322.4 593.8L323.8 592.1L325.1 590.2L326.5 588.5L327.9 587.3L329.2 586.4L330.6 585.9L331.9 585.6L333.3 585.7L334.7 586.1L336.0 586.7L337.4 587.6L338.7 588.7L340.1 589.9L341.5 591.2L342.8 592.2L344.2 592.7L345.5 592.8L346.9 592.6L348.3 591.9L349.6 590.8L351.0 589.6L352.3 588.6L353.7 588.2L355.1 588.6L356.4 589.9L357.8 592.0L359.1 594.7L360.5 597.5L361.9 600.0L363.2 601.4L364.6 601.1L365.9 599.2L367.3 596.4L368.7 593.5L370.0 591.2L371.4 589.8L372.7 589.1L374.1 588.7L375.5 588.3L376.8 587.5L378.2 586.0L379.5 584.0L380.9 582.0L382.3 580.7L383.6 580.4L385.0 581.6L386.3 584.0L387.7 587.2L389.1 590.3L390.4 592.5L391.8 593.4L393.1 592.7L394.5 591.0L395.9 589.3L397.2 587.9L398.6 587.2L399.9 587.4L401.3 588.2L402.7 589.0L404.0 589.4L405.4 589.0L406.7 588.0L408.1 586.8L409.5 585.7L410.8 585.4L412.2 586.1L413.5 588.0L414.9 590.6L416.3 593.3L417.6 595.3L419.0 596.2L420.3 595.5L421.7 593.6L423.1 591.2L424.4 588.9L425.8 587.1L427.1 586.4L428.5 586.8L429.9 588.3L431.2 590.6L432.6 593.1L433.9 595.4L435.3 597.0L436.7 597.9L438.0 597.9L439.4 597.0L440.7 595.5L442.1 593.9L443.5 592.6L444.8 591.7L446.2 591.0L447.5 590.3L448.9 589.0L450.3 587.5L451.6 585.8L453.0 584.4L454.3 583.5L455.7 583.3"/>
<path d="M115.7 591.5L117.1 591.7L118.4 592.0L119.8 592.2L121.1 592.5L122.5 592.7L123.9 592.8L125.2 592.9L126.6 592.8L127.9 592.7L129.3 592.4L130.7 592.1L132.0 591.7L133.4 591.3L134.7 591.0L136.1 590.9L137.5 591.0L138.8 591.3L140.2 591.6L141.5 591.8L142.9 591.9L144.3 591.7L145.6 591.3L147.0 590.7L148.3 590.1L149.7 589.6L151.1 589.4L152.4 589.5L153.8 589.8L155.1 590.3L156.5 590.7L157.9 591.1L159.2 591.2L160.6 591.0L161.9 590.7L163.3 590.4L164.7 590.2L166.0 590.2L167.4 590.5L168.7 591.0L170.1 591.6L171.5 592.1L172.8 592.4L174.2 592.3L175.5 592.0L176.9 591.5L178.3 591.1L179.6 590.9L181.0 591.0L182.3 591.4L183.7 591.9L185.1 592.4L186.4 592.6L187.8 592.4L189.1 592.0L190.5 591.3L191.9 590.5L193.2 589.9L194.6 589.7L195.9 589.7L197.3 590.1L198.7 590.7L200.0 591.3L201.4 591.7L202.7 591.9L204.1 591.9L205.5 591.7L206.8 591.5L208.2 591.2L209.5 591.1L210.9 591.1L212.3 591.2L213.6 591.3L215.0 591.4L216.3 591.3L217.7 591.2L219.1 591.0L220.4 590.9L221.8 591.0L223.1 591.3L224.5 591.6L225.9 592.0L227.2 592.2L228.6 592.2L229.9 591.9L231.3 591.5L232.7 591.0L234.0 590.6L235.4 590.4L236.7 590.5L238.1 590.7L239.5 590.9L240.8 591.0L242.2 590.9L243.5 590.5L244.9 590.0L246.3 589.4L247.6 588.9L249.0 588.5L250.3 588.2L251.7 588.1L253.1 587.9L254.4 587.8L255.8 587.5L257.1 587.3L258.5 587.1L259.9 587.1L261.2 587.3L262.6 587.7L263.9 588.4L265.3 589.3L266.7 590.5L268.0 591.8L269.4 593.3L270.7 594.9L272.1 596.5L273.5 598.1L274.8 599.5L276.2 600.3L277.5 600.5L278.9 599.9L280.3 598.6L281.6 597.1L283.0 595.7L284.3 594.1L285.7 591.8L287.1 589.2L288.4 586.8L289.8 585.1L291.1 583.5L292.5 582.3L293.9 582.0L295.2 583.5L296.6 586.8L297.9 590.8L299.3 594.9L300.7 598.4L302.0 599.9L303.4 598.7L304.7 595.8L306.1 592.1L307.5 588.2L308.8 584.9L310.2 583.0L311.5 582.7L312.9 583.7L314.3 585.5L315.6 587.7L317.0 589.9L318.3 591.8L319.7 593.3L321.1 594.2L322.4 594.0L323.8 592.9L325.1 591.3L326.5 589.5L327.9 587.9L329.2 586.6L330.6 585.9L331.9 586.2L333.3 587.4L334.7 589.4L336.0 591.8L337.4 594.2L338.7 596.3L340.1 597.6L341.5 598.0L342.8 597.3L344.2 595.7L345.5 593.7L346.9 591.6L348.3 589.8L349.6 588.3L351.0 587.4L352.3 587.1L353.7 587.3L355.1 587.7L356.4 588.4L357.8 589.5L359.1 591.0L360.5 593.1L361.9 595.6L363.2 598.0L364.6 599.5L365.9 599.6L367.3 598.5L368.7 596.6L370.0 594.3L371.4 592.3L372.7 590.8L374.1 590.0L375.5 589.8L376.8 590.0L378.2 589.9L379.5 589.1L380.9 587.7L382.3 585.9L383.6 584.3L385.0 583.6L386.3 584.3L387.7 586.4L389.1 589.3L390.4 592.0L391.8 593.7L393.1 593.6L394.5 592.1L395.9 589.9L397.2 588.0L398.6 587.1L399.9 587.8L401.3 589.8L402.7 592.4L404.0 594.6L405.4 595.3L406.7 594.2L408.1 591.7L409.5 588.6L410.8 585.8L412.2 584.4L413.5 585.1L414.9 587.3L416.3 590.5L417.6 593.4L419.0 595.0L420.3 594.5L421.7 592.3L423.1 589.4L424.4 586.7L425.8 584.8L427.1 584.2L428.5 585.1L429.9 587.7L431.2 591.5L432.6 595.9L433.9 600.1L435.3 603.5L436.7 605.7L438.0 606.2L439.4 604.7L440.7 601.7L442.1 598.1L443.5 594.8L444.8 592.4L446.2 591.2L447.5 590.6L448.9 590.0L450.3 589.2L451.6 588.3L453.0 587.4L454.3 586.4L455.7 585.7"/>
<path d="M115.7 592.7L117.1 592.8L118.4 592.9L119.8 593.2L121.1 593.5L122.5 593.9L123.9 594.2L125.2 594.4L126.6 594.3L127.9 594.1L129.3 593.6L130.7 593.2L132.0 592.8L133.4 592.6L134.7 592.7L136.1 592.8L137.5 593.0L138.8 593.1L140.2 592.9L141.5 592.6L142.9 592.0L144.3 591.4L145.6 590.8L147.0 590.3L148.3 590.1L149.7 590.0L151.1 590.1L152.4 590.2L153.8 590.4L155.1 590.6L156.5 590.8L157.9 591.1L159.2 591.4L160.6 591.7L161.9 591.9L163.3 592.0L164.7 592.1L166.0 592.0L167.4 591.9L168.7 591.8L170.1 591.8L171.5 591.9L172.8 592.0L174.2 592.1L175.5 592.2L176.9 592.1L178.3 592.1L179.6 592.0L181.0 592.1L182.3 592.3L183.7 592.6L185.1 593.0L186.4 593.3L187.8 593.6L189.1 593.6L190.5 593.5L191.9 593.3L193.2 593.0L194.6 592.7L195.9 592.6L197.3 592.5L198.7 592.6L200.0 592.7L201.4 592.8L202.7 592.8L204.1 592.9L205.5 592.8L206.8 592.8L208.2 592.7L209.5 592.5L210.9 592.4L212.3 592.2L213.6 592.1L215.0 592.0L216.3 591.9L217.7 591.9L219.1 592.0L220.4 592.1L221.8 592.3L223.1 592.5L224.5 592.7L225.9 592.8L227.2 592.8L228.6 592.8L229.9 592.7L231.3 592.6L232.7 592.4L234.0 592.3L235.4 592.2L236.7 592.1L238.1 592.1L239.5 592.1L240.8 592.1L242.2 592.1L243.5 592.0L244.9 591.8L246.3 591.6L247.6 591.3L249.0 591.0L250.3 590.7L251.7 590.4L253.1 590.1L254.4 589.9L255.8 589.7L257.1 589.6L258.5 589.6L259.9 589.8L261.2 590.3L262.6 590.9L263.9 591.7L265.3 592.6L266.7 593.4L268.0 594.0L269.4 594.4L270.7 594.5L272.1 594.5L273.5 594.6L274.8 595.0L276.2 595.7L277.5 596.5L278.9 597.4L280.3 598.1L281.6 598.4L283.0 598.3L284.3 597.5L285.7 595.6L287.1 592.9L288.4 590.4L289.8 588.2L291.1 586.4L292.5 585.0L293.9 584.6L295.2 585.8L296.6 588.9L297.9 592.7L299.3 596.7L300.7 600.2L302.0 601.8L303.4 600.4L304.7 597.1L306.1 592.7L307.5 588.0L308.8 584.0L310.2 581.7L311.5 581.4L312.9 582.6L314.3 584.5L315.6 586.5L317.0 588.5L318.3 590.2L319.7 591.9L321.1 593.2L322.4 593.6L323.8 593.3L325.1 592.4L326.5 591.3L327.9 590.0L329.2 588.5L330.6 587.2L331.9 586.4L333.3 586.4L334.7 587.3L336.0 588.9L337.4 591.0L338.7 593.1L340.1 594.9L341.5 596.2L342.8 596.6L344.2 596.0L345.5 594.8L346.9 593.2L348.3 591.5L349.6 589.7L351.0 588.5L352.3 587.9L353.7 588.2L355.1 589.3L356.4 590.9L357.8 593.0L359.1 595.5L360.5 598.3L361.9 601.2L363.2 603.7L364.6 605.2L365.9 605.1L367.3 603.6L368.7 601.2L370.0 598.0L371.4 594.8L372.7 591.8L374.1 589.3L375.5 587.6L376.8 586.6L378.2 586.0L379.5 585.3L380.9 584.6L382.3 584.0L383.6 583.7L385.0 584.2L386.3 585.9L387.7 588.6L389.1 591.6L390.4 594.3L391.8 595.8L393.1 595.7L394.5 594.2L395.9 592.1L397.2 590.1L398.6 588.8L399.9 588.7L401.3 589.7L402.7 591.4L404.0 593.1L405.4 593.8L406.7 593.4L408.1 592.0L409.5 590.0L410.8 587.8L412.2 586.5L413.5 586.6L414.9 588.0L416.3 590.3L417.6 592.7L419.0 594.2L420.3 594.2L421.7 592.7L423.1 590.4L424.4 587.9L425.8 586.0L427.1 585.1L428.5 585.7L429.9 587.8L431.2 591.2L432.6 595.3L433.9 599.4L435.3 603.0L436.7 605.6L438.0 606.8L439.4 606.4L440.7 604.6L442.1 602.0L443.5 599.4L444.8 597.1L446.2 595.3L447.5 593.8L448.9 592.1L450.3 590.6L451.6 589.2L453.0 588.1L454.3 587.4L455.7 587.2"/>
<path d="M115.7 593.6L117.1 594.0L118.4 594.4L119.8 594.7L121.1 594.7L122.5 594.6L123.9 594.3L125.2 594.0L126.6 593.6L127.9 593.3L129.3 593.0L130.7 592.9L132.0 592.9L133.4 593.0L134.7 593.3L136.1 593.5L137.5 593.8L138.8 594.0L140.2 594.2L141.5 594.2L142.9 594.1L144.3 593.9L145.6 593.6L147.0 593.3L148.3 593.0L149.7 592.7L151.1 592.3L152.4 592.0L153.8 591.8L155.1 591.6L156.5 591.5L157.9 591.4L159.2 591.4L160.6 591.5L161.9 591.7L163.3 592.0L164.7 592.4L166.0 593.0L167.4 593.6L168.7 594.2L170.1 594.7L171.5 595.1L172.8 595.1L174.2 594.9L175.5 594.3L176.9 593.7L178.3 593.2L179.6 592.9L181.0 593.0L182.3 593.3L183.7 593.8L185.1 594.2L186.4 594.5L187.8 594.4L189.1 594.1L190.5 593.7L191.9 593.4L193.2 593.2L194.6 593.3L195.9 593.5L197.3 593.8L198.7 594.1L200.0 594.1L201.4 593.9L202.7 593.5L204.1 593.2L205.5 593.0L206.8 593.0L208.2 593.2L209.5 593.4L210.9 593.6L212.3 593.7L213.6 593.5L215.0 593.1L216.3 592.7L217.7 592.4L219.1 592.4L220.4 592.6L221.8 593.0L223.1 593.6L224.5 594.1L225.9 594.5L227.2 594.6L228.6 594.5L229.9 594.3L231.3 594.0L232.7 593.8L234.0 593.6L235.4 593.5L236.7 593.5L238.1 593.5L239.5 593.5L240.8 593.4L242.2 593.3L243.5 593.2L244.9 593.0L246.3 592.8L247.6 592.5L249.0 592.2L250.3 591.7L251.7 591.3L253.1 590.9L254.4 590.5L255.8 590.3L257.1 590.3L258.5 590.3L259.9 590.4L261.2 590.6L262.6 590.9L263.9 591.3L265.3 591.9L266.7 592.7L268.0 593.6L269.4 594.6L270.7 595.6L272.1 596.3L273.5 596.7L274.8 596.7L276.2 596.4L277.5 596.1L278.9 595.9L280.3 596.1L281.6 596.7L283.0 597.7L284.3 598.5L285.7 598.4L287.1 597.2L288.4 595.2L289.8 592.8L291.1 590.2L292.5 588.0L293.9 586.8L295.2 587.4L296.6 589.8L297.9 593.0L299.3 596.3L300.7 599.0L302.0 600.0L303.4 598.7L304.7 595.9L306.1 592.4L307.5 588.8L308.8 586.0L310.2 584.6L311.5 584.7L312.9 586.1L314.3 588.1L315.6 590.4L317.0 592.7L318.3 594.6L319.7 596.1L321.1 596.9L322.4 596.7L323.8 595.7L325.1 594.2L326.5 592.5L327.9 591.0L329.2 589.8L330.6 589.2L331.9 589.3L333.3 590.0L334.7 591.3L336.0 592.8L337.4 594.3L338.7 595.5L340.1 596.4L341.5 596.9L342.8 596.8L344.2 596.3L345.5 595.6L346.9 595.0L348.3 594.3L349.6 593.6L351.0 592.9L352.3 592.3L353.7 591.9L355.1 591.6L356.4 591.6L357.8 592.1L359.1 593.4L360.5 595.5L361.9 598.3L363.2 601.0L364.6 602.7L365.9 602.6L367.3 601.2L368.7 598.9L370.0 596.4L371.4 594.3L372.7 592.9L374.1 592.0L375.5 591.4L376.8 590.8L378.2 589.6L379.5 587.8L380.9 586.0L382.3 584.7L383.6 584.6L385.0 586.1L386.3 589.1L387.7 592.9L389.1 596.4L390.4 598.6L391.8 599.0L393.1 597.3L394.5 594.5L395.9 591.7L397.2 589.7L398.6 589.2L399.9 590.3L401.3 592.4L402.7 594.7L404.0 596.3L405.4 596.2L406.7 594.7L408.1 592.3L409.5 589.7L410.8 587.7L412.2 587.0L413.5 588.0L414.9 590.2L416.3 592.8L417.6 595.0L419.0 595.8L420.3 594.7L421.7 592.4L423.1 589.6L424.4 587.2L425.8 585.7L427.1 585.5L428.5 586.8L429.9 589.4L431.2 593.0L432.6 597.1L433.9 600.9L435.3 604.2L436.7 606.4L438.0 607.4L439.4 606.9L440.7 605.2L442.1 603.0L443.5 600.8L444.8 598.8L446.2 597.0L447.5 594.9L448.9 592.4L450.3 589.6L451.6 586.9L453.0 584.9L454.3 584.0L455.7 584.2"/>
<path d="M115.7 594.1L117.1 594.5L118.4 595.1L119.8 595.8L121.1 596.4L122.5 596.8L123.9 596.8L125.2 596.3L126.6 595.7L127.9 595.0L129.3 594.5L130.7 594.3L132.0 594.3L133.4 594.5L134.7 594.7L136.1 594.7L137.5 594.6L138.8 594.4L140.2 594.1L141.5 593.8L142.9 593.6L144.3 593.5L145.6 593.5L147.0 593.5L148.3 593.4L149.7 593.2L151.1 592.9L152.4 592.5L153.8 592.2L155.1 591.9L156.5 591.8L157.9 591.8L159.2 592.0L160.6 592.4L161.9 592.8L163.3 593.4L164.7 594.0L166.0 594.6L167.4 595.0L168.7 595.4L170.1 595.5L171.5 595.6L172.8 595.6L174.2 595.5L175.5 595.4L176.9 595.3L178.3 595.1L179.6 595.0L181.0 594.8L182.3 594.5L183.7 594.3L185.1 594.2L186.4 594.2L187.8 594.2L189.1 594.4L190.5 594.6L191.9 594.7L193.2 594.8L194.6 594.8L195.9 594.7L197.3 594.7L198.7 594.6L200.0 594.7L201.4 594.7L202.7 594.8L204.1 594.7L205.5 594.6L206.8 594.4L208.2 594.2L209.5 594.1L210.9 594.1L212.3 594.2L213.6 594.4L215.0 594.6L216.3 594.7L217.7 594.6L219.1 594.4L220.4 594.2L221.8 594.0L223.1 594.0L224.5 594.2L225.9 594.6L227.2 595.1L228.6 595.5L229.9 595.8L231.3 595.8L232.7 595.6L234.0 595.2L235.4 594.7L236.7 594.2L238.1 593.6L239.5 593.2L240.8 592.8L242.2 592.5L243.5 592.2L244.9 591.9L246.3 591.7L247.6 591.6L249.0 591.5L250.3 591.5L251.7 591.5L253.1 591.5L254.4 591.4L255.8 591.4L257.1 591.3L258.5 591.4L259.9 591.5L261.2 591.8L262.6 592.3L263.9 593.0L265.3 593.9L266.7 594.8L268.0 595.7L269.4 596.4L270.7 596.8L272.1 597.1L273.5 597.3L274.8 597.4L276.2 597.4L277.5 597.6L278.9 597.8L280.3 598.0L281.6 598.2L283.0 598.3L284.3 597.8L285.7 596.4L287.1 594.2L288.4 592.0L289.8 590.2L291.1 589.0L292.5 588.4L293.9 588.7L295.2 590.3L296.6 593.0L297.9 595.8L299.3 598.3L300.7 600.0L302.0 600.3L303.4 598.6L304.7 596.1L306.1 593.4L307.5 590.9L308.8 589.1L310.2 588.4L311.5 588.6L312.9 589.4L314.3 590.4L315.6 591.2L317.0 592.0L318.3 592.9L319.7 593.8L321.1 594.6L322.4 594.7L323.8 594.1L325.1 593.0L326.5 591.9L327.9 591.0L329.2 590.4L330.6 590.1L331.9 590.5L333.3 591.3L334.7 592.6L336.0 594.1L337.4 595.7L338.7 597.3L340.1 598.8L341.5 599.9L342.8 600.4L344.2 599.8L345.5 598.5L346.9 596.5L348.3 593.9L349.6 591.0L351.0 588.7L352.3 587.4L353.7 587.5L355.1 589.1L356.4 591.8L357.8 595.2L359.1 599.0L360.5 602.6L361.9 605.4L363.2 606.7L364.6 606.0L365.9 603.3L367.3 599.6L368.7 595.7L370.0 592.7L371.4 591.0L372.7 590.8L374.1 591.7L375.5 593.0L376.8 594.2L378.2 594.4L379.5 593.3L380.9 591.3L382.3 588.9L383.6 586.9L385.0 586.1L386.3 587.0L387.7 589.2L389.1 592.2L390.4 594.8L391.8 596.4L393.1 596.4L394.5 595.3L395.9 593.8L397.2 592.6L398.6 592.1L399.9 592.6L401.3 593.9L402.7 595.3L404.0 596.2L405.4 595.8L406.7 594.2L408.1 592.0L409.5 589.7L410.8 588.0L412.2 587.5L413.5 588.7L414.9 590.9L416.3 593.5L417.6 595.6L419.0 596.3L420.3 595.1L421.7 592.8L423.1 590.2L424.4 588.4L425.8 587.9L427.1 588.8L428.5 591.2L429.9 594.6L431.2 598.1L432.6 601.1L433.9 603.0L435.3 603.8L436.7 603.6L438.0 602.7L439.4 601.3L440.7 600.0L442.1 599.1L443.5 598.6L444.8 598.3L446.2 597.9L447.5 597.1L448.9 595.7L450.3 594.1L451.6 592.4L453.0 591.1L454.3 590.2L455.7 589.7"/>
<path d="M115.7 595.4L117.1 595.8L118.4 596.3L119.8 596.7L121.1 596.9L122.5 597.0L123.9 597.0L125.2 596.8L126.6 596.6L127.9 596.2L129.3 595.8L130.7 595.3L132.0 594.9L133.4 594.7L134.7 594.6L136.1 594.8L137.5 595.2L138.8 595.6L140.2 596.1L141.5 596.3L142.9 596.2L144.3 596.0L145.6 595.5L147.0 595.1L148.3 594.7L149.7 594.4L151.1 594.2L152.4 594.1L153.8 594.0L155.1 593.9L156.5 593.8L157.9 593.8L159.2 593.9L160.6 594.1L161.9 594.5L163.3 594.9L164.7 595.3L166.0 595.7L167.4 596.0L168.7 596.3L170.1 596.4L171.5 596.5L172.8 596.5L174.2 596.4L175.5 596.1L176.9 595.8L178.3 595.4L179.6 595.1L181.0 595.0L182.3 595.1L183.7 595.4L185.1 595.8L186.4 596.1L187.8 596.3L189.1 596.4L190.5 596.3L191.9 596.1L193.2 596.0L194.6 595.9L195.9 596.0L197.3 596.0L198.7 596.0L200.0 595.9L201.4 595.7L202.7 595.5L204.1 595.3L205.5 595.2L206.8 595.2L208.2 595.3L209.5 595.5L210.9 595.6L212.3 595.6L213.6 595.4L215.0 595.2L216.3 595.0L217.7 594.9L219.1 594.8L220.4 595.0L221.8 595.2L223.1 595.5L224.5 595.9L225.9 596.2L227.2 596.4L228.6 596.5L229.9 596.5L231.3 596.4L232.7 596.1L234.0 595.8L235.4 595.5L236.7 595.3L238.1 595.2L239.5 595.2L240.8 595.3L242.2 595.5L243.5 595.7L244.9 595.7L246.3 595.7L247.6 595.5L249.0 595.1L250.3 594.6L251.7 594.1L253.1 593.7L254.4 593.4L255.8 593.2L257.1 593.2L258.5 593.4L259.9 593.7L261.2 594.0L262.6 594.3L263.9 594.6L265.3 594.8L266.7 595.0L268.0 595.4L269.4 595.9L270.7 596.7L272.1 597.8L273.5 599.1L274.8 600.3L276.2 601.1L277.5 601.2L278.9 600.7L280.3 599.7L281.6 598.5L283.0 597.7L284.3 597.4L285.7 597.1L287.1 596.9L288.4 596.6L289.8 596.0L291.1 594.7L292.5 592.7L293.9 590.7L295.2 589.7L296.6 590.3L297.9 592.1L299.3 594.9L300.7 598.0L302.0 600.2L303.4 600.6L304.7 599.5L306.1 597.2L307.5 594.3L308.8 591.5L310.2 589.6L311.5 589.0L312.9 589.5L314.3 590.8L315.6 592.4L317.0 594.0L318.3 595.3L319.7 596.2L321.1 596.5L322.4 595.9L323.8 594.8L325.1 593.5L326.5 592.5L327.9 592.0L329.2 591.9L330.6 592.3L331.9 593.1L333.3 594.1L334.7 595.1L336.0 595.9L337.4 596.5L338.7 596.9L340.1 597.3L341.5 597.9L342.8 598.4L344.2 598.8L345.5 599.1L346.9 599.2L348.3 598.9L349.6 597.9L351.0 596.6L352.3 595.3L353.7 594.1L355.1 593.4L356.4 593.4L357.8 594.2L359.1 595.9L360.5 598.2L361.9 600.6L363.2 602.5L364.6 603.1L365.9 602.2L367.3 600.3L368.7 598.2L370.0 596.5L371.4 595.5L372.7 595.4L374.1 595.6L375.5 595.8L376.8 595.5L378.2 594.2L379.5 591.8L380.9 589.1L382.3 586.7L383.6 585.4L385.0 585.7L386.3 587.8L387.7 591.0L389.1 594.3L390.4 596.8L391.8 597.7L393.1 597.0L394.5 595.4L395.9 593.7L397.2 592.5L398.6 592.0L399.9 592.4L401.3 593.1L402.7 593.9L404.0 594.3L405.4 594.1L406.7 593.8L408.1 593.5L409.5 593.6L410.8 593.9L412.2 594.6L413.5 595.5L414.9 596.2L416.3 596.5L417.6 596.4L419.0 595.8L420.3 594.7L421.7 593.7L423.1 593.1L424.4 592.9L425.8 592.9L427.1 592.9L428.5 593.0L429.9 593.4L431.2 594.5L432.6 596.6L433.9 599.5L435.3 602.9L436.7 606.1L438.0 608.2L439.4 608.3L440.7 606.4L442.1 603.0L443.5 599.0L444.8 595.6L446.2 593.6L447.5 592.8L448.9 593.1L450.3 593.9L451.6 594.6L453.0 594.7L454.3 593.9L455.7 592.4"/>
<path d="M115.7 596.7L117.1 596.4L118.4 596.3L119.8 596.6L121.1 597.1L122.5 597.7L123.9 598.3L125.2 598.6L126.6 598.5L127.9 598.1L129.3 597.6L130.7 597.1L132.0 596.8L133.4 596.7L134.7 597.0L136.1 597.3L137.5 597.6L138.8 597.6L140.2 597.4L141.5 596.9L142.9 596.4L144.3 595.8L145.6 595.5L147.0 595.4L148.3 595.4L149.7 595.6L151.1 595.8L152.4 595.9L153.8 595.9L155.1 595.7L156.5 595.5L157.9 595.2L159.2 595.1L160.6 595.0L161.9 595.1L163.3 595.3L164.7 595.7L166.0 596.2L167.4 596.7L168.7 597.2L170.1 597.6L171.5 597.7L172.8 597.7L174.2 597.5L175.5 597.2L176.9 597.0L178.3 596.9L179.6 597.1L181.0 597.4L182.3 597.8L183.7 597.9L185.1 597.8L186.4 597.4L187.8 596.9L189.1 596.4L190.5 596.1L191.9 596.2L193.2 596.6L194.6 597.2L195.9 597.8L197.3 598.2L198.7 598.3L200.0 598.1L201.4 597.5L202.7 596.9L204.1 596.3L205.5 596.0L206.8 595.9L208.2 596.0L209.5 596.3L210.9 596.5L212.3 596.6L213.6 596.5L215.0 596.4L216.3 596.4L217.7 596.4L219.1 596.5L220.4 596.8L221.8 597.0L223.1 597.2L224.5 597.2L225.9 597.1L227.2 596.9L228.6 596.6L229.9 596.4L231.3 596.4L232.7 596.4L234.0 596.5L235.4 596.6L236.7 596.6L238.1 596.4L239.5 596.1L240.8 595.8L242.2 595.5L243.5 595.2L244.9 595.2L246.3 595.2L247.6 595.2L249.0 595.2L250.3 595.1L251.7 594.9L253.1 594.6L254.4 594.3L255.8 594.2L257.1 594.2L258.5 594.5L259.9 594.9L261.2 595.4L262.6 595.9L263.9 596.2L265.3 596.5L266.7 596.6L268.0 596.7L269.4 597.1L270.7 597.6L272.1 598.5L273.5 599.6L274.8 600.7L276.2 601.6L277.5 602.0L278.9 601.8L280.3 601.2L281.6 600.2L283.0 599.3L284.3 598.4L285.7 597.1L287.1 595.6L288.4 594.2L289.8 593.1L291.1 592.1L292.5 591.3L293.9 591.3L295.2 592.6L296.6 595.3L297.9 598.5L299.3 601.6L300.7 604.0L302.0 604.6L303.4 602.4L304.7 598.6L306.1 594.0L307.5 589.4L308.8 585.7L310.2 584.0L311.5 584.3L312.9 586.3L314.3 589.2L315.6 592.5L317.0 595.7L318.3 598.4L319.7 600.4L321.1 601.4L322.4 600.9L323.8 599.0L325.1 596.5L326.5 594.0L327.9 591.8L329.2 590.4L330.6 589.8L331.9 590.2L333.3 591.4L334.7 593.3L336.0 595.3L337.4 597.3L338.7 599.0L340.1 600.3L341.5 601.1L342.8 601.3L344.2 601.0L345.5 600.2L346.9 599.2L348.3 597.8L349.6 596.2L351.0 594.6L352.3 593.4L353.7 592.8L355.1 592.9L356.4 593.8L357.8 595.5L359.1 597.9L360.5 600.7L361.9 603.5L363.2 605.8L364.6 606.8L365.9 606.4L367.3 604.8L368.7 602.8L370.0 600.9L371.4 599.7L372.7 599.0L374.1 598.8L375.5 598.7L376.8 598.1L378.2 596.7L379.5 594.3L380.9 591.5L382.3 589.0L383.6 587.5L385.0 587.5L386.3 589.2L387.7 592.1L389.1 595.3L390.4 597.7L391.8 598.5L393.1 597.5L394.5 595.2L395.9 592.6L397.2 590.7L398.6 590.0L399.9 590.9L401.3 593.0L402.7 595.5L404.0 597.3L405.4 597.6L406.7 596.2L408.1 593.7L409.5 590.9L410.8 588.5L412.2 587.5L413.5 588.5L414.9 590.9L416.3 594.1L417.6 597.2L419.0 599.2L420.3 599.8L421.7 599.2L423.1 598.2L424.4 597.1L425.8 596.2L427.1 595.6L428.5 595.4L429.9 595.6L431.2 596.3L432.6 597.5L433.9 599.0L435.3 601.0L436.7 603.2L438.0 605.3L439.4 606.6L440.7 607.1L442.1 606.6L443.5 605.3L444.8 603.3L446.2 601.1L447.5 598.7L448.9 596.5L450.3 594.8L451.6 593.9L453.0 593.6L454.3 593.9L455.7 594.3"/>
<path d="M115.7 596.8L117.1 596.8L118.4 597.0L119.8 597.4L121.1 597.9L122.5 598.4L123.9 598.9L125.2 599.3L126.6 599.4L127.9 599.3L129.3 599.0L130.7 598.6L132.0 598.3L133.4 598.1L134.7 598.1L136.1 598.1L137.5 598.2L138.8 598.2L140.2 598.1L141.5 597.9L142.9 597.6L144.3 597.4L145.6 597.1L147.0 597.0L148.3 596.8L149.7 596.7L151.1 596.7L152.4 596.6L153.8 596.7L155.1 596.8L156.5 596.9L157.9 597.1L159.2 597.1L160.6 597.1L161.9 596.9L163.3 596.6L164.7 596.5L166.0 596.5L167.4 596.8L168.7 597.3L170.1 597.9L171.5 598.5L172.8 599.1L174.2 599.3L175.5 599.3L176.9 599.1L178.3 598.7L179.6 598.4L181.0 598.1L182.3 597.8L183.7 597.7L185.1 597.6L186.4 597.6L187.8 597.6L189.1 597.7L190.5 597.8L191.9 598.0L193.2 598.1L194.6 598.1L195.9 598.1L197.3 598.1L198.7 598.0L200.0 597.9L201.4 598.0L202.7 598.0L204.1 598.1L205.5 598.1L206.8 598.0L208.2 597.8L209.5 597.5L210.9 597.1L212.3 596.8L213.6 596.7L215.0 596.8L216.3 597.1L217.7 597.4L219.1 597.7L220.4 597.9L221.8 597.9L223.1 597.8L224.5 597.5L225.9 597.3L227.2 597.2L228.6 597.3L229.9 597.5L231.3 597.8L232.7 598.0L234.0 598.2L235.4 598.2L236.7 598.1L238.1 597.9L239.5 597.6L240.8 597.4L242.2 597.3L243.5 597.2L244.9 597.1L246.3 597.0L247.6 596.8L249.0 596.6L250.3 596.4L251.7 596.2L253.1 596.2L254.4 596.3L255.8 596.4L257.1 596.6L258.5 596.8L259.9 596.9L261.2 596.9L262.6 596.9L263.9 596.9L265.3 597.0L266.7 597.3L268.0 597.8L269.4 598.5L270.7 599.4L272.1 600.2L273.5 600.8L274.8 601.1L276.2 601.0L277.5 600.5L278.9 599.7L280.3 599.0L281.6 598.7L283.0 598.8L284.3 599.2L285.7 599.3L287.1 598.8L288.4 598.1L289.8 597.1L291.1 595.8L292.5 594.2L293.9 593.0L295.2 593.1L296.6 594.7L297.9 597.1L299.3 599.6L300.7 601.9L302.0 602.6L303.4 600.9L304.7 597.8L306.1 594.0L307.5 590.2L308.8 587.4L310.2 586.3L311.5 587.2L312.9 589.6L314.3 592.8L315.6 596.0L317.0 598.9L318.3 601.0L319.7 602.4L321.1 602.6L322.4 601.3L323.8 598.8L325.1 595.9L326.5 593.5L327.9 591.9L329.2 591.0L330.6 591.0L331.9 591.7L333.3 593.1L334.7 594.7L336.0 596.4L337.4 598.1L338.7 599.5L340.1 600.6L341.5 601.3L342.8 601.2L344.2 600.4L345.5 599.3L346.9 598.1L348.3 597.0L349.6 596.2L351.0 596.0L352.3 596.3L353.7 597.1L355.1 598.2L356.4 599.1L357.8 599.9L359.1 600.6L360.5 601.3L361.9 602.2L363.2 603.1L364.6 603.5L365.9 603.4L367.3 602.7L368.7 601.5L370.0 600.1L371.4 598.8L372.7 597.5L374.1 596.7L375.5 596.3L376.8 596.4L378.2 596.4L379.5 595.9L380.9 594.9L382.3 593.2L383.6 591.3L385.0 589.8L386.3 589.3L387.7 590.3L389.1 592.6L390.4 595.5L391.8 598.3L393.1 599.9L394.5 600.1L395.9 599.1L397.2 597.4L398.6 595.8L399.9 595.2L401.3 595.8L402.7 597.6L404.0 599.9L405.4 601.5L406.7 601.8L408.1 600.6L409.5 598.1L410.8 595.1L412.2 592.5L413.5 591.5L414.9 592.4L416.3 594.7L417.6 597.7L419.0 600.1L420.3 600.8L421.7 599.6L423.1 597.0L424.4 593.9L425.8 591.1L427.1 589.7L428.5 590.1L429.9 592.4L431.2 596.1L432.6 600.3L433.9 604.1L435.3 606.9L436.7 608.3L438.0 608.3L439.4 607.0L440.7 605.0L442.1 603.0L443.5 601.2L444.8 599.8L446.2 598.8L447.5 597.8L448.9 596.6L450.3 595.3L451.6 594.4L453.0 594.1L454.3 594.3L455.7 595.1"/>
<path d="M115.7 599.4L117.1 599.6L118.4 599.9L119.8 600.1L121.1 600.2L122.5 600.2L123.9 600.1L125.2 599.9L126.6 599.6L127.9 599.3L129.3 599.1L130.7 599.0L132.0 599.1L133.4 599.3L134.7 599.5L136.1 599.6L137.5 599.5L138.8 599.2L140.2 598.7L141.5 598.3L142.9 597.9L144.3 597.8L145.6 597.9L147.0 598.1L148.3 598.4L149.7 598.6L151.1 598.6L152.4 598.5L153.8 598.3L155.1 598.1L156.5 598.1L157.9 598.1L159.2 598.3L160.6 598.4L161.9 598.6L163.3 598.7L164.7 598.7L166.0 598.7L167.4 598.8L168.7 599.0L170.1 599.2L171.5 599.5L172.8 599.8L174.2 600.0L175.5 599.8L176.9 599.5L178.3 598.9L179.6 598.2L181.0 597.7L182.3 597.3L183.7 597.3L185.1 597.6L186.4 598.1L187.8 598.7L189.1 599.3L190.5 599.6L191.9 599.6L193.2 599.4L194.6 599.1L195.9 598.7L197.3 598.4L198.7 598.4L200.0 598.5L201.4 598.8L202.7 599.2L204.1 599.4L205.5 599.5L206.8 599.5L208.2 599.3L209.5 599.1L210.9 599.0L212.3 599.0L213.6 599.3L215.0 599.6L216.3 599.9L217.7 600.0L219.1 599.9L220.4 599.6L221.8 599.1L223.1 598.5L224.5 598.1L225.9 597.9L227.2 598.0L228.6 598.3L229.9 598.7L231.3 599.1L232.7 599.4L234.0 599.4L235.4 599.4L236.7 599.2L238.1 598.9L239.5 598.7L240.8 598.5L242.2 598.5L243.5 598.4L244.9 598.3L246.3 598.1L247.6 597.9L249.0 597.5L250.3 597.1L251.7 596.7L253.1 596.4L254.4 596.2L255.8 596.1L257.1 596.2L258.5 596.3L259.9 596.5L261.2 596.6L262.6 596.6L263.9 596.6L265.3 596.8L266.7 597.1L268.0 597.8L269.4 598.8L270.7 600.2L272.1 601.9L273.5 603.5L274.8 604.8L276.2 605.4L277.5 605.2L278.9 604.1L280.3 602.5L281.6 600.7L283.0 599.3L284.3 598.4L285.7 597.6L287.1 596.9L288.4 596.5L289.8 596.1L291.1 595.5L292.5 594.7L293.9 594.0L295.2 594.4L296.6 596.2L297.9 598.8L299.3 601.8L300.7 604.8L302.0 606.4L303.4 605.7L304.7 603.4L306.1 600.1L307.5 596.3L308.8 592.8L310.2 590.7L311.5 590.1L312.9 590.8L314.3 592.5L315.6 594.6L317.0 596.9L318.3 599.1L319.7 601.0L321.1 602.3L322.4 602.4L323.8 601.4L325.1 599.7L326.5 597.7L327.9 595.7L329.2 594.0L330.6 592.8L331.9 592.5L333.3 593.1L334.7 594.4L336.0 596.2L337.4 598.2L338.7 600.0L340.1 601.3L341.5 602.2L342.8 602.3L344.2 601.9L345.5 601.2L346.9 600.4L348.3 599.4L349.6 598.2L351.0 597.2L352.3 596.5L353.7 596.3L355.1 596.7L356.4 597.7L357.8 599.2L359.1 601.2L360.5 603.5L361.9 605.8L363.2 607.4L364.6 607.7L365.9 606.5L367.3 604.4L368.7 602.0L370.0 600.0L371.4 598.8L372.7 598.5L374.1 598.8L375.5 599.3L376.8 599.5L378.2 598.8L379.5 597.2L380.9 595.1L382.3 592.9L383.6 591.4L385.0 591.2L386.3 592.3L387.7 594.4L389.1 596.7L390.4 598.3L391.8 598.6L393.1 597.4L394.5 595.6L395.9 594.1L397.2 593.6L398.6 594.6L399.9 597.0L401.3 600.1L402.7 603.0L404.0 604.6L405.4 604.2L406.7 602.2L408.1 599.2L409.5 596.3L410.8 594.1L412.2 593.3L413.5 594.1L414.9 595.8L416.3 597.7L417.6 599.1L419.0 599.6L420.3 598.9L421.7 597.7L423.1 596.8L424.4 596.4L425.8 596.5L427.1 596.9L428.5 597.5L429.9 598.3L431.2 599.3L432.6 600.5L433.9 601.8L435.3 603.1L436.7 604.3L438.0 604.8L439.4 604.5L440.7 603.4L442.1 601.9L443.5 600.4L444.8 599.3L446.2 598.7L447.5 598.4L448.9 598.0L450.3 597.5L451.6 596.8L453.0 596.1L454.3 595.7L455.7 595.8"/>
<path d="M115.7 599.7L117.1 599.9L118.4 600.2L119.8 600.5L121.1 600.9L122.5 601.1L123.9 601.2L125.2 601.2L126.6 601.2L127.9 601.3L129.3 601.5L130.7 601.7L132.0 601.8L133.4 601.7L134.7 601.4L136.1 600.8L137.5 600.1L138.8 599.3L140.2 598.8L141.5 598.6L142.9 598.8L144.3 599.2L145.6 599.8L147.0 600.2L148.3 600.3L149.7 600.2L151.1 599.9L152.4 599.4L153.8 599.0L155.1 598.7L156.5 598.6L157.9 598.6L159.2 598.7L160.6 599.0L161.9 599.3L163.3 599.6L164.7 599.9L166.0 600.1L167.4 600.2L168.7 600.3L170.1 600.2L171.5 600.1L172.8 600.1L174.2 600.1L175.5 600.2L176.9 600.3L178.3 600.5L179.6 600.7L181.0 600.8L182.3 600.6L183.7 600.3L185.1 599.9L186.4 599.4L187.8 599.1L189.1 599.0L190.5 599.2L191.9 599.6L193.2 600.0L194.6 600.5L195.9 600.8L197.3 600.8L198.7 600.6L200.0 600.3L201.4 600.0L202.7 599.7L204.1 599.5L205.5 599.5L206.8 599.6L208.2 599.7L209.5 599.8L210.9 599.9L212.3 599.9L213.6 599.9L215.0 600.0L216.3 600.2L217.7 600.4L219.1 600.6L220.4 600.7L221.8 600.6L223.1 600.3L224.5 599.9L225.9 599.6L227.2 599.6L228.6 599.7L229.9 600.2L231.3 600.7L232.7 601.2L234.0 601.4L235.4 601.3L236.7 600.8L238.1 600.1L239.5 599.3L240.8 598.7L242.2 598.3L243.5 598.2L244.9 598.2L246.3 598.3L247.6 598.2L249.0 598.0L250.3 597.6L251.7 597.2L253.1 596.8L254.4 596.5L255.8 596.4L257.1 596.3L258.5 596.4L259.9 596.5L261.2 596.8L262.6 597.1L263.9 597.5L265.3 598.1L266.7 598.8L268.0 599.7L269.4 600.5L270.7 601.3L272.1 601.8L273.5 602.2L274.8 602.3L276.2 602.2L277.5 602.0L278.9 602.0L280.3 602.0L281.6 602.3L283.0 602.7L284.3 602.9L285.7 602.4L287.1 601.1L288.4 599.6L289.8 598.1L291.1 597.0L292.5 596.5L293.9 596.9L295.2 598.6L296.6 601.3L297.9 603.7L299.3 605.4L300.7 605.9L302.0 604.6L303.4 601.6L304.7 598.0L306.1 594.9L307.5 592.8L308.8 592.1L310.2 593.0L311.5 594.8L312.9 596.8L314.3 598.6L315.6 599.7L317.0 600.5L318.3 601.2L319.7 602.0L321.1 602.6L322.4 602.7L323.8 601.9L325.1 600.4L326.5 598.6L327.9 596.7L329.2 595.1L330.6 594.2L331.9 594.3L333.3 595.2L334.7 596.7L336.0 598.4L337.4 599.8L338.7 600.9L340.1 601.6L341.5 602.0L342.8 602.1L344.2 601.7L345.5 601.1L346.9 600.3L348.3 599.1L349.6 597.7L351.0 596.4L352.3 595.7L353.7 595.9L355.1 597.1L356.4 599.2L357.8 601.9L359.1 604.8L360.5 607.4L361.9 609.2L363.2 609.7L364.6 608.7L365.9 606.3L367.3 603.2L368.7 600.4L370.0 598.5L371.4 597.8L372.7 598.1L374.1 599.0L375.5 599.9L376.8 600.2L378.2 599.5L379.5 597.9L380.9 596.0L382.3 594.5L383.6 593.9L385.0 594.5L386.3 596.2L387.7 598.5L389.1 600.5L390.4 601.7L391.8 601.7L393.1 600.5L394.5 598.7L395.9 597.1L397.2 596.2L398.6 596.1L399.9 597.0L401.3 598.5L402.7 599.9L404.0 600.8L405.4 600.6L406.7 599.5L408.1 597.8L409.5 596.0L410.8 594.7L412.2 594.3L413.5 595.3L414.9 597.2L416.3 599.5L417.6 601.7L419.0 602.9L420.3 602.9L421.7 602.1L423.1 601.0L424.4 600.0L425.8 599.2L427.1 598.7L428.5 598.6L429.9 599.2L431.2 600.4L432.6 602.3L433.9 604.4L435.3 606.7L436.7 608.6L438.0 609.8L439.4 609.6L440.7 608.3L442.1 606.1L443.5 603.8L444.8 601.7L446.2 600.2L447.5 598.9L448.9 597.5L450.3 596.0L451.6 594.5L453.0 593.2L454.3 592.2L455.7 591.9"/>
<path d="M115.7 601.4L117.1 601.3L118.4 601.2L119.8 601.0L121.1 600.9L122.5 600.8L123.9 600.8L125.2 600.9L126.6 601.0L127.9 601.1L129.3 601.1L130.7 601.1L132.0 601.2L133.4 601.4L134.7 601.6L136.1 601.8L137.5 601.9L138.8 601.7L140.2 601.3L141.5 600.7L142.9 600.2L144.3 599.9L145.6 600.0L147.0 600.4L148.3 600.9L149.7 601.5L151.1 601.9L152.4 601.9L153.8 601.4L155.1 600.7L156.5 600.0L157.9 599.4L159.2 599.2L160.6 599.3L161.9 599.7L163.3 600.3L164.7 600.8L166.0 601.2L167.4 601.3L168.7 601.3L170.1 601.2L171.5 601.2L172.8 601.3L174.2 601.5L175.5 601.7L176.9 601.9L178.3 601.9L179.6 601.7L181.0 601.3L182.3 600.9L183.7 600.4L185.1 600.1L186.4 600.1L187.8 600.3L189.1 600.6L190.5 601.1L191.9 601.5L193.2 601.8L194.6 602.0L195.9 601.9L197.3 601.8L198.7 601.5L200.0 601.2L201.4 600.9L202.7 600.7L204.1 600.6L205.5 600.5L206.8 600.4L208.2 600.4L209.5 600.4L210.9 600.5L212.3 600.6L213.6 600.8L215.0 601.1L216.3 601.3L217.7 601.6L219.1 601.8L220.4 601.8L221.8 601.6L223.1 601.4L224.5 601.1L225.9 600.8L227.2 600.7L228.6 600.8L229.9 601.2L231.3 601.6L232.7 601.9L234.0 602.1L235.4 602.1L236.7 601.7L238.1 601.2L239.5 600.6L240.8 600.1L242.2 599.8L243.5 599.7L244.9 599.6L246.3 599.6L247.6 599.4L249.0 599.1L250.3 598.6L251.7 598.0L253.1 597.5L254.4 597.1L255.8 596.9L257.1 596.9L258.5 597.2L259.9 597.6L261.2 598.2L262.6 598.8L263.9 599.6L265.3 600.5L266.7 601.4L268.0 602.2L269.4 602.9L270.7 603.4L272.1 603.7L273.5 603.9L274.8 603.9L276.2 603.9L277.5 603.9L278.9 603.9L280.3 603.8L281.6 603.8L283.0 603.8L284.3 603.6L285.7 602.8L287.1 601.6L288.4 600.4L289.8 599.4L291.1 598.6L292.5 597.8L293.9 597.5L295.2 598.2L296.6 600.2L297.9 602.7L299.3 605.4L300.7 607.9L302.0 609.0L303.4 607.8L304.7 605.0L306.1 601.0L307.5 596.5L308.8 592.4L310.2 589.9L311.5 589.4L312.9 590.8L314.3 593.4L315.6 596.6L317.0 599.8L318.3 602.3L319.7 603.9L321.1 604.5L322.4 604.0L323.8 602.7L325.1 601.4L326.5 600.4L327.9 599.7L329.2 599.2L330.6 598.8L331.9 598.4L333.3 598.3L334.7 598.5L336.0 599.0L337.4 600.0L338.7 601.2L340.1 602.6L341.5 603.9L342.8 604.8L344.2 605.2L345.5 605.0L346.9 604.3L348.3 602.9L349.6 601.0L351.0 598.9L352.3 597.0L353.7 595.7L355.1 595.4L356.4 596.3L357.8 598.3L359.1 601.5L360.5 605.2L361.9 608.8L363.2 611.2L364.6 611.7L365.9 610.0L367.3 607.0L368.7 603.4L370.0 600.4L371.4 598.6L372.7 598.3L374.1 599.1L375.5 600.5L376.8 601.9L378.2 602.4L379.5 601.9L380.9 600.5L382.3 598.6L383.6 596.9L385.0 595.9L386.3 595.9L387.7 596.8L389.1 598.2L390.4 599.4L391.8 599.9L393.1 599.4L394.5 598.3L395.9 597.2L397.2 596.6L398.6 596.8L399.9 597.9L401.3 599.4L402.7 600.8L404.0 601.3L405.4 600.5L406.7 598.6L408.1 596.4L409.5 594.4L410.8 593.4L412.2 593.9L413.5 596.0L414.9 599.1L416.3 602.4L417.6 605.1L419.0 606.5L420.3 606.3L421.7 605.0L423.1 603.2L424.4 601.6L425.8 600.4L427.1 599.7L428.5 599.6L429.9 600.2L431.2 601.5L432.6 603.1L433.9 605.0L435.3 606.9L436.7 608.6L438.0 609.8L439.4 610.0L440.7 609.4L442.1 608.0L443.5 606.2L444.8 604.3L446.2 602.5L447.5 600.8L448.9 599.2L450.3 597.8L451.6 596.8L453.0 596.3L454.3 596.1L455.7 596.2"/>
<path d="M115.7 603.5L117.1 603.5L118.4 603.4L119.8 603.2L121.1 603.2L122.5 603.2L123.9 603.4L125.2 603.4L126.6 603.3L127.9 603.0L129.3 602.5L130.7 601.9L132.0 601.4L133.4 601.1L134.7 601.1L136.1 601.4L137.5 601.8L138.8 602.3L140.2 602.6L141.5 602.8L142.9 602.7L144.3 602.4L145.6 602.0L147.0 601.7L148.3 601.3L149.7 601.1L151.1 600.9L152.4 600.8L153.8 600.8L155.1 600.9L156.5 600.9L157.9 600.9L159.2 600.9L160.6 600.7L161.9 600.6L163.3 600.4L164.7 600.4L166.0 600.6L167.4 601.0L168.7 601.6L170.1 602.4L171.5 603.1L172.8 603.6L174.2 603.9L175.5 603.9L176.9 603.6L178.3 603.1L179.6 602.7L181.0 602.4L182.3 602.2L183.7 602.1L185.1 602.1L186.4 602.2L187.8 602.3L189.1 602.3L190.5 602.3L191.9 602.3L193.2 602.3L194.6 602.4L195.9 602.5L197.3 602.6L198.7 602.6L200.0 602.7L201.4 602.8L202.7 602.8L204.1 602.7L205.5 602.6L206.8 602.2L208.2 601.8L209.5 601.3L210.9 600.9L212.3 600.6L213.6 600.7L215.0 600.9L216.3 601.4L217.7 601.9L219.1 602.3L220.4 602.5L221.8 602.5L223.1 602.4L224.5 602.2L225.9 602.1L227.2 602.2L228.6 602.6L229.9 602.9L231.3 603.3L232.7 603.4L234.0 603.2L235.4 602.8L236.7 602.2L238.1 601.7L239.5 601.4L240.8 601.2L242.2 601.1L243.5 601.1L244.9 601.0L246.3 600.8L247.6 600.4L249.0 600.0L250.3 599.7L251.7 599.6L253.1 599.6L254.4 599.8L255.8 599.9L257.1 600.0L258.5 599.9L259.9 599.8L261.2 599.8L262.6 599.9L263.9 600.4L265.3 601.1L266.7 601.9L268.0 602.8L269.4 603.4L270.7 603.9L272.1 604.3L273.5 604.8L274.8 605.5L276.2 606.4L277.5 607.3L278.9 607.9L280.3 607.9L281.6 607.3L283.0 606.0L284.3 604.3L285.7 602.1L287.1 600.0L288.4 598.9L289.8 598.6L291.1 598.9L292.5 599.1L293.9 599.3L295.2 600.1L296.6 601.5L297.9 603.1L299.3 605.0L300.7 606.9L302.0 608.1L303.4 607.6L304.7 605.9L306.1 603.2L307.5 599.8L308.8 596.4L310.2 593.9L311.5 592.6L312.9 592.8L314.3 594.4L315.6 597.1L317.0 600.3L318.3 603.7L319.7 606.5L321.1 607.9L322.4 607.4L323.8 605.0L325.1 601.5L326.5 598.0L327.9 595.3L329.2 593.9L330.6 594.0L331.9 595.4L333.3 597.6L334.7 599.8L336.0 601.4L337.4 602.3L338.7 602.5L340.1 602.6L341.5 602.9L342.8 603.5L344.2 604.3L345.5 605.0L346.9 605.3L348.3 604.7L349.6 603.2L351.0 601.2L352.3 599.3L353.7 598.2L355.1 598.2L356.4 599.4L357.8 601.5L359.1 604.3L360.5 607.0L361.9 609.2L363.2 610.5L364.6 610.5L365.9 609.3L367.3 607.6L368.7 605.9L370.0 604.4L371.4 603.2L372.7 602.1L374.1 600.8L375.5 599.3L376.8 597.8L378.2 596.5L379.5 595.6L380.9 595.5L382.3 596.3L383.6 598.0L385.0 600.2L386.3 602.7L387.7 604.8L389.1 606.1L390.4 606.3L391.8 605.3L393.1 603.1L394.5 600.6L395.9 598.7L397.2 597.8L398.6 598.1L399.9 599.7L401.3 601.9L402.7 603.9L404.0 604.9L405.4 604.2L406.7 602.1L408.1 599.2L409.5 596.3L410.8 594.2L412.2 593.6L413.5 594.8L414.9 597.4L416.3 600.3L417.6 602.8L419.0 604.1L420.3 603.6L421.7 602.1L423.1 600.3L424.4 599.0L425.8 598.3L427.1 598.4L428.5 599.2L429.9 600.7L431.2 602.5L432.6 604.4L433.9 606.1L435.3 607.5L436.7 608.3L438.0 608.6L439.4 608.1L440.7 607.0L442.1 605.7L443.5 604.6L444.8 604.0L446.2 603.7L447.5 603.6L448.9 603.2L450.3 602.4L451.6 601.4L453.0 600.3L454.3 599.2L455.7 598.5"/>
<path d="M115.7 603.1L117.1 603.4L118.4 603.8L119.8 604.1L121.1 604.4L122.5 604.6L123.9 604.7L125.2 604.7L126.6 604.7L127.9 604.7L129.3 604.6L130.7 604.6L132.0 604.4L133.4 604.2L134.7 603.9L136.1 603.6L137.5 603.3L138.8 603.1L140.2 602.9L141.5 602.9L142.9 603.0L144.3 603.1L145.6 603.2L147.0 603.1L148.3 602.8L149.7 602.2L151.1 601.6L152.4 601.0L153.8 600.5L155.1 600.2L156.5 600.3L157.9 600.6L159.2 601.1L160.6 601.7L161.9 602.2L163.3 602.6L164.7 602.8L166.0 602.9L167.4 602.9L168.7 603.0L170.1 603.0L171.5 603.2L172.8 603.5L174.2 603.7L175.5 603.8L176.9 603.9L178.3 603.9L179.6 603.8L181.0 603.7L182.3 603.6L183.7 603.5L185.1 603.4L186.4 603.4L187.8 603.4L189.1 603.5L190.5 603.6L191.9 603.8L193.2 604.0L194.6 604.1L195.9 604.2L197.3 604.2L198.7 604.0L200.0 603.8L201.4 603.6L202.7 603.4L204.1 603.2L205.5 603.1L206.8 602.9L208.2 602.6L209.5 602.2L210.9 601.9L212.3 601.5L213.6 601.4L215.0 601.5L216.3 601.9L217.7 602.5L219.1 603.1L220.4 603.6L221.8 603.9L223.1 603.9L224.5 603.7L225.9 603.4L227.2 603.0L228.6 602.8L229.9 602.6L231.3 602.6L232.7 602.8L234.0 603.0L235.4 603.2L236.7 603.2L238.1 603.2L239.5 603.1L240.8 602.9L242.2 602.6L243.5 602.4L244.9 602.2L246.3 602.0L247.6 601.8L249.0 601.5L250.3 601.2L251.7 600.7L253.1 600.2L254.4 599.7L255.8 599.3L257.1 598.9L258.5 598.8L259.9 598.9L261.2 599.3L262.6 600.0L263.9 600.9L265.3 602.0L266.7 603.3L268.0 604.6L269.4 606.0L270.7 607.2L272.1 608.4L273.5 609.3L274.8 609.9L276.2 610.2L277.5 610.1L278.9 609.6L280.3 608.8L281.6 607.9L283.0 607.0L284.3 605.7L285.7 603.5L287.1 600.7L288.4 598.0L289.8 596.1L291.1 594.7L292.5 594.0L293.9 594.3L295.2 596.3L296.6 599.6L297.9 603.0L299.3 606.1L300.7 608.6L302.0 609.4L303.4 608.2L304.7 605.8L306.1 603.1L307.5 600.1L308.8 597.4L310.2 595.6L311.5 595.0L312.9 595.4L314.3 596.8L315.6 599.0L317.0 601.9L318.3 605.0L319.7 607.9L321.1 609.9L322.4 610.2L323.8 608.7L325.1 606.1L326.5 603.0L327.9 600.3L329.2 598.1L330.6 596.8L331.9 596.4L333.3 597.0L334.7 598.2L336.0 599.8L337.4 601.5L338.7 603.3L340.1 605.0L341.5 606.4L342.8 607.2L344.2 607.3L345.5 606.9L346.9 606.0L348.3 604.7L349.6 603.3L351.0 602.0L352.3 601.2L353.7 600.8L355.1 601.0L356.4 601.7L357.8 602.8L359.1 604.4L360.5 606.5L361.9 608.7L363.2 610.7L364.6 611.5L365.9 611.0L367.3 609.2L368.7 606.7L370.0 604.1L371.4 601.9L372.7 600.3L374.1 599.4L375.5 599.2L376.8 599.4L378.2 599.4L379.5 598.7L380.9 597.6L382.3 596.2L383.6 595.2L385.0 595.0L386.3 596.1L387.7 598.5L389.1 601.6L390.4 604.6L391.8 606.7L393.1 607.4L394.5 606.9L395.9 605.7L397.2 604.2L398.6 602.9L399.9 602.1L401.3 601.8L402.7 601.8L404.0 601.6L405.4 600.8L406.7 599.7L408.1 598.6L409.5 597.8L410.8 597.7L412.2 598.6L413.5 600.4L414.9 602.6L416.3 604.5L417.6 605.7L419.0 606.0L420.3 605.5L421.7 604.6L423.1 604.1L424.4 604.0L425.8 604.0L427.1 604.0L428.5 603.6L429.9 603.0L431.2 602.5L432.6 602.4L433.9 603.0L435.3 604.5L436.7 606.6L438.0 608.9L439.4 610.4L440.7 610.7L442.1 609.7L443.5 607.6L444.8 604.9L446.2 602.4L447.5 600.2L448.9 598.6L450.3 597.6L451.6 597.3L453.0 597.4L454.3 597.7L455.7 598.1"/>
<path d="M115.7 604.6L117.1 605.1L118.4 605.5L119.8 605.8L121.1 605.7L122.5 605.5L123.9 605.0L125.2 604.5L126.6 604.0L127.9 603.7L129.3 603.7L130.7 603.9L132.0 604.2L133.4 604.5L134.7 604.7L136.1 604.7L137.5 604.7L138.8 604.7L140.2 604.8L141.5 604.9L142.9 605.1L144.3 605.2L145.6 605.1L147.0 604.8L148.3 604.2L149.7 603.4L151.1 602.8L152.4 602.4L153.8 602.4L155.1 602.7L156.5 603.2L157.9 603.6L159.2 603.9L160.6 603.8L161.9 603.4L163.3 602.9L164.7 602.5L166.0 602.4L167.4 602.8L168.7 603.5L170.1 604.4L171.5 605.2L172.8 605.8L174.2 605.9L175.5 605.7L176.9 605.3L178.3 604.9L179.6 604.7L181.0 604.6L182.3 604.6L183.7 604.7L185.1 604.6L186.4 604.4L187.8 604.1L189.1 603.9L190.5 603.7L191.9 603.6L193.2 603.7L194.6 603.9L195.9 604.0L197.3 604.1L198.7 604.1L200.0 604.0L201.4 604.0L202.7 604.1L204.1 604.4L205.5 604.7L206.8 604.9L208.2 605.0L209.5 604.8L210.9 604.3L212.3 603.8L213.6 603.4L215.0 603.2L216.3 603.3L217.7 603.6L219.1 604.0L220.4 604.4L221.8 604.7L223.1 604.8L224.5 604.7L225.9 604.5L227.2 604.3L228.6 604.2L229.9 604.2L231.3 604.4L232.7 604.7L234.0 604.9L235.4 605.0L236.7 605.0L238.1 604.7L239.5 604.3L240.8 603.9L242.2 603.4L243.5 602.9L244.9 602.6L246.3 602.3L247.6 602.0L249.0 601.7L250.3 601.3L251.7 600.9L253.1 600.6L254.4 600.3L255.8 600.1L257.1 600.1L258.5 600.2L259.9 600.4L261.2 600.8L262.6 601.2L263.9 601.7L265.3 602.3L266.7 603.1L268.0 604.0L269.4 605.1L270.7 606.2L272.1 607.2L273.5 608.2L274.8 609.0L276.2 609.5L277.5 609.8L278.9 609.9L280.3 609.9L281.6 609.7L283.0 609.5L284.3 608.8L285.7 607.0L287.1 604.4L288.4 601.7L289.8 599.2L291.1 597.3L292.5 596.4L293.9 596.8L295.2 599.1L296.6 602.9L297.9 606.9L299.3 610.4L300.7 612.7L302.0 612.9L303.4 610.5L304.7 606.7L306.1 602.4L307.5 598.4L308.8 595.3L310.2 594.1L311.5 594.6L312.9 596.5L314.3 599.1L315.6 601.8L317.0 604.2L318.3 606.0L319.7 607.3L321.1 607.8L322.4 607.3L323.8 605.8L325.1 604.0L326.5 602.3L327.9 600.7L329.2 599.2L330.6 598.0L331.9 597.4L333.3 597.5L334.7 598.5L336.0 600.4L337.4 603.0L338.7 605.8L340.1 608.4L341.5 610.4L342.8 611.0L344.2 610.0L345.5 608.0L346.9 605.3L348.3 602.3L349.6 599.5L351.0 597.5L352.3 596.6L353.7 597.2L355.1 599.0L356.4 601.8L357.8 605.3L359.1 609.3L360.5 613.1L361.9 616.4L363.2 618.3L364.6 618.1L365.9 615.9L367.3 612.5L368.7 609.1L370.0 606.3L371.4 604.8L372.7 604.2L374.1 604.1L375.5 604.0L376.8 603.4L378.2 601.8L379.5 599.5L380.9 597.1L382.3 595.3L383.6 594.6L385.0 595.3L386.3 597.3L387.7 600.1L389.1 602.7L390.4 604.5L391.8 605.2L393.1 604.6L394.5 603.4L395.9 602.3L397.2 601.6L398.6 601.6L399.9 602.2L401.3 603.2L402.7 604.1L404.0 604.5L405.4 603.9L406.7 602.6L408.1 600.8L409.5 599.1L410.8 597.9L412.2 597.6L413.5 598.6L414.9 600.6L416.3 603.1L417.6 605.5L419.0 607.3L420.3 607.9L421.7 607.8L423.1 607.2L424.4 606.5L425.8 605.6L427.1 604.7L428.5 603.8L429.9 603.3L431.2 603.3L432.6 603.9L433.9 605.1L435.3 606.8L436.7 608.7L438.0 610.5L439.4 611.6L440.7 611.7L442.1 610.8L443.5 609.2L444.8 607.3L446.2 605.5L447.5 603.8L448.9 602.4L450.3 601.5L451.6 601.0L453.0 600.8L454.3 600.6L455.7 600.3"/>
<path d="M115.7 605.5L117.1 605.5L118.4 605.6L119.8 605.8L121.1 606.2L122.5 606.6L123.9 606.9L125.2 607.0L126.6 607.0L127.9 606.7L129.3 606.4L130.7 606.1L132.0 605.8L133.4 605.7L134.7 605.7L136.1 605.7L137.5 605.7L138.8 605.5L140.2 605.3L141.5 605.0L142.9 604.8L144.3 604.7L145.6 604.7L147.0 604.7L148.3 604.7L149.7 604.7L151.1 604.5L152.4 604.2L153.8 604.0L155.1 603.8L156.5 603.7L157.9 603.8L159.2 604.1L160.6 604.4L161.9 604.6L163.3 604.8L164.7 604.9L166.0 604.9L167.4 604.8L168.7 604.9L170.1 605.0L171.5 605.3L172.8 605.7L174.2 605.9L175.5 606.1L176.9 606.0L178.3 605.7L179.6 605.4L181.0 605.1L182.3 605.0L183.7 605.1L185.1 605.4L186.4 605.8L187.8 606.1L189.1 606.3L190.5 606.2L191.9 605.8L193.2 605.3L194.6 604.8L195.9 604.5L197.3 604.5L198.7 604.7L200.0 605.2L201.4 605.8L202.7 606.2L204.1 606.4L205.5 606.3L206.8 606.0L208.2 605.4L209.5 604.9L210.9 604.5L212.3 604.2L213.6 604.1L215.0 604.2L216.3 604.3L217.7 604.5L219.1 604.6L220.4 604.7L221.8 604.7L223.1 604.8L224.5 604.9L225.9 605.2L227.2 605.5L228.6 605.8L229.9 606.1L231.3 606.3L232.7 606.3L234.0 606.2L235.4 605.9L236.7 605.5L238.1 605.0L239.5 604.7L240.8 604.5L242.2 604.4L243.5 604.4L244.9 604.3L246.3 604.2L247.6 603.9L249.0 603.5L250.3 603.0L251.7 602.5L253.1 602.1L254.4 601.9L255.8 601.9L257.1 601.9L258.5 602.1L259.9 602.4L261.2 602.8L262.6 603.3L263.9 603.9L265.3 604.6L266.7 605.3L268.0 606.0L269.4 606.5L270.7 607.0L272.1 607.2L273.5 607.4L274.8 607.7L276.2 608.0L277.5 608.4L278.9 608.8L280.3 609.1L281.6 609.2L283.0 609.1L284.3 608.4L285.7 606.7L287.1 604.5L288.4 602.5L289.8 601.1L291.1 600.3L292.5 600.0L293.9 600.3L295.2 601.7L296.6 603.8L297.9 605.8L299.3 607.6L300.7 609.0L302.0 609.5L303.4 608.9L304.7 607.8L306.1 606.9L307.5 606.0L308.8 605.2L310.2 604.7L311.5 604.3L312.9 603.9L314.3 603.5L315.6 603.1L317.0 602.9L318.3 603.4L319.7 604.3L321.1 605.4L322.4 606.1L323.8 606.1L325.1 605.4L326.5 604.3L327.9 602.9L329.2 601.4L330.6 600.3L331.9 599.9L333.3 600.4L334.7 601.6L336.0 603.5L337.4 605.7L338.7 607.8L340.1 609.5L341.5 610.4L342.8 610.4L344.2 609.3L345.5 607.7L346.9 605.9L348.3 604.2L349.6 602.7L351.0 601.6L352.3 601.1L353.7 601.0L355.1 601.2L356.4 601.7L357.8 602.7L359.1 604.5L360.5 606.9L361.9 609.7L363.2 612.4L364.6 613.9L365.9 613.8L367.3 612.4L368.7 610.2L370.0 607.8L371.4 605.9L372.7 604.8L374.1 604.4L375.5 604.5L376.8 604.6L378.2 604.1L379.5 602.8L380.9 601.2L382.3 599.7L383.6 599.0L385.0 599.4L386.3 601.1L387.7 603.5L389.1 606.0L390.4 607.5L391.8 607.8L393.1 606.6L394.5 604.6L395.9 602.9L397.2 602.0L398.6 602.2L399.9 603.6L401.3 605.4L402.7 606.9L404.0 607.4L405.4 606.4L406.7 604.4L408.1 602.1L409.5 600.1L410.8 599.0L412.2 599.1L413.5 600.4L414.9 602.3L416.3 604.0L417.6 604.9L419.0 604.7L420.3 603.1L421.7 601.2L423.1 599.8L424.4 599.3L425.8 599.4L427.1 599.9L428.5 600.7L429.9 602.1L431.2 604.3L432.6 607.6L433.9 611.8L435.3 616.5L436.7 621.0L438.0 624.1L439.4 624.6L440.7 622.3L442.1 617.9L443.5 612.5L444.8 607.3L446.2 603.4L447.5 600.8L448.9 599.5L450.3 599.4L451.6 600.2L453.0 601.4L454.3 602.5L455.7 603.2"/>
<path d="M115.7 606.8L117.1 606.5L118.4 606.3L119.8 606.4L121.1 606.6L122.5 607.0L123.9 607.3L125.2 607.6L126.6 607.7L127.9 607.6L129.3 607.4L130.7 607.2L132.0 607.0L133.4 606.9L134.7 606.9L136.1 606.9L137.5 606.9L138.8 606.8L140.2 606.7L141.5 606.4L142.9 606.2L144.3 605.9L145.6 605.6L147.0 605.4L148.3 605.1L149.7 605.0L151.1 604.9L152.4 604.8L153.8 604.9L155.1 605.0L156.5 605.1L157.9 605.2L159.2 605.3L160.6 605.3L161.9 605.2L163.3 605.3L164.7 605.4L166.0 605.7L167.4 606.1L168.7 606.6L170.1 607.1L171.5 607.5L172.8 607.7L174.2 607.8L175.5 607.7L176.9 607.4L178.3 607.1L179.6 606.9L181.0 606.7L182.3 606.6L183.7 606.6L185.1 606.5L186.4 606.5L187.8 606.4L189.1 606.2L190.5 606.1L191.9 606.0L193.2 606.0L194.6 606.2L195.9 606.3L197.3 606.5L198.7 606.7L200.0 606.8L201.4 606.8L202.7 606.8L204.1 606.7L205.5 606.7L206.8 606.7L208.2 606.6L209.5 606.6L210.9 606.4L212.3 606.1L213.6 605.8L215.0 605.5L216.3 605.4L217.7 605.5L219.1 605.8L220.4 606.2L221.8 606.8L223.1 607.2L224.5 607.4L225.9 607.4L227.2 607.1L228.6 606.8L229.9 606.5L231.3 606.4L232.7 606.4L234.0 606.5L235.4 606.5L236.7 606.4L238.1 606.1L239.5 605.7L240.8 605.3L242.2 605.0L243.5 605.0L244.9 605.2L246.3 605.5L247.6 605.8L249.0 605.9L250.3 605.7L251.7 605.2L253.1 604.5L254.4 603.8L255.8 603.3L257.1 603.1L258.5 603.2L259.9 603.6L261.2 604.2L262.6 604.8L263.9 605.3L265.3 605.9L266.7 606.4L268.0 607.1L269.4 607.9L270.7 608.8L272.1 609.8L273.5 610.7L274.8 611.5L276.2 612.0L277.5 612.1L278.9 611.8L280.3 611.2L281.6 610.4L283.0 609.4L284.3 608.1L285.7 606.3L287.1 604.1L288.4 602.5L289.8 601.6L291.1 601.3L292.5 601.4L293.9 601.9L295.2 603.2L296.6 605.1L297.9 606.8L299.3 608.2L300.7 609.5L302.0 610.0L303.4 609.4L304.7 608.3L306.1 607.1L307.5 605.7L308.8 604.3L310.2 603.4L311.5 602.8L312.9 602.7L314.3 603.0L315.6 603.7L317.0 604.9L318.3 606.4L319.7 607.9L321.1 609.0L322.4 609.0L323.8 608.0L325.1 606.2L326.5 604.2L327.9 602.3L329.2 601.0L330.6 600.5L331.9 600.9L333.3 602.1L334.7 603.6L336.0 605.1L337.4 606.3L338.7 607.2L340.1 607.8L341.5 608.3L342.8 608.6L344.2 608.7L345.5 608.7L346.9 608.6L348.3 608.2L349.6 607.5L351.0 606.8L352.3 606.5L353.7 606.7L355.1 607.3L356.4 608.1L357.8 609.1L359.1 610.0L360.5 610.7L361.9 611.2L363.2 611.4L364.6 611.1L365.9 610.3L367.3 609.5L368.7 609.1L370.0 609.0L371.4 609.1L372.7 609.0L374.1 608.1L375.5 606.5L376.8 604.0L378.2 601.0L379.5 597.8L380.9 595.4L382.3 594.4L383.6 595.2L385.0 597.8L386.3 601.6L387.7 605.6L389.1 608.8L390.4 610.3L391.8 609.9L393.1 607.9L394.5 605.5L395.9 603.7L397.2 603.0L398.6 603.6L399.9 605.1L401.3 606.7L402.7 607.7L404.0 607.7L405.4 606.6L406.7 605.1L408.1 603.9L409.5 603.6L410.8 604.3L412.2 606.1L413.5 608.4L414.9 610.3L416.3 611.3L417.6 611.1L419.0 609.6L420.3 607.3L421.7 605.0L423.1 603.5L424.4 603.1L425.8 603.6L427.1 604.6L428.5 605.5L429.9 606.1L431.2 606.2L432.6 606.0L433.9 606.0L435.3 606.6L436.7 607.8L438.0 609.4L439.4 610.9L440.7 611.7L442.1 611.5L443.5 610.3L444.8 608.5L446.2 606.5L447.5 604.8L448.9 603.9L450.3 603.8L451.6 604.7L453.0 605.9L454.3 606.8L455.7 606.9"/>
<path d="M115.7 608.1L117.1 607.7L118.4 607.2L119.8 606.8L121.1 606.6L122.5 606.8L123.9 607.3L125.2 608.0L126.6 608.6L127.9 609.1L129.3 609.3L130.7 609.2L132.0 608.8L133.4 608.4L134.7 608.0L136.1 607.8L137.5 607.9L138.8 608.1L140.2 608.2L141.5 608.3L142.9 608.2L144.3 607.8L145.6 607.2L147.0 606.5L148.3 605.9L149.7 605.4L151.1 605.2L152.4 605.2L153.8 605.3L155.1 605.5L156.5 605.6L157.9 605.7L159.2 605.7L160.6 605.6L161.9 605.6L163.3 605.7L164.7 605.9L166.0 606.4L167.4 607.0L168.7 607.6L170.1 608.2L171.5 608.6L172.8 608.9L174.2 608.9L175.5 608.8L176.9 608.6L178.3 608.4L179.6 608.3L181.0 608.1L182.3 608.0L183.7 607.8L185.1 607.5L186.4 607.2L187.8 607.0L189.1 606.9L190.5 607.0L191.9 607.1L193.2 607.4L194.6 607.7L195.9 607.9L197.3 608.0L198.7 608.1L200.0 608.2L201.4 608.3L202.7 608.3L204.1 608.2L205.5 608.0L206.8 607.6L208.2 607.0L209.5 606.5L210.9 606.1L212.3 605.9L213.6 606.0L215.0 606.3L216.3 606.7L217.7 607.2L219.1 607.4L220.4 607.5L221.8 607.4L223.1 607.2L224.5 607.1L225.9 607.0L227.2 607.2L228.6 607.5L229.9 607.8L231.3 608.2L232.7 608.3L234.0 608.3L235.4 608.0L236.7 607.8L238.1 607.5L239.5 607.3L240.8 607.3L242.2 607.3L243.5 607.3L244.9 607.3L246.3 607.0L247.6 606.6L249.0 606.0L250.3 605.4L251.7 605.0L253.1 604.6L254.4 604.4L255.8 604.3L257.1 604.2L258.5 604.2L259.9 604.3L261.2 604.6L262.6 605.1L263.9 605.9L265.3 607.0L266.7 608.2L268.0 609.4L269.4 610.3L270.7 611.1L272.1 611.5L273.5 611.8L274.8 612.0L276.2 612.1L277.5 612.0L278.9 611.7L280.3 611.1L281.6 610.2L283.0 609.3L284.3 608.2L285.7 606.6L287.1 604.9L288.4 603.9L289.8 603.7L291.1 603.9L292.5 604.3L293.9 605.0L295.2 606.4L296.6 608.5L297.9 610.6L299.3 612.4L300.7 613.7L302.0 613.8L303.4 612.4L304.7 610.2L306.1 607.7L307.5 605.1L308.8 603.0L310.2 602.0L311.5 601.9L312.9 602.6L314.3 603.8L315.6 605.2L317.0 606.6L318.3 607.7L319.7 608.6L321.1 608.9L322.4 608.4L323.8 607.3L325.1 606.0L326.5 604.7L327.9 603.8L329.2 603.2L330.6 603.1L331.9 603.4L333.3 604.0L334.7 604.8L336.0 605.6L337.4 606.3L338.7 607.1L340.1 607.8L341.5 608.6L342.8 609.3L344.2 609.9L345.5 610.4L346.9 610.5L348.3 610.1L349.6 609.2L351.0 608.0L352.3 606.7L353.7 605.8L355.1 605.4L356.4 605.7L357.8 606.7L359.1 608.6L360.5 610.9L361.9 613.4L363.2 615.4L364.6 616.3L365.9 615.6L367.3 613.7L368.7 611.2L370.0 608.7L371.4 606.8L372.7 605.7L374.1 605.4L375.5 605.8L376.8 606.4L378.2 606.7L379.5 606.2L380.9 605.3L382.3 604.3L383.6 603.5L385.0 603.6L386.3 604.7L387.7 606.4L389.1 608.2L390.4 609.3L391.8 609.1L393.1 607.6L394.5 605.3L395.9 603.3L397.2 602.2L398.6 602.3L399.9 603.7L401.3 605.7L402.7 607.7L404.0 608.7L405.4 608.2L406.7 606.4L408.1 603.9L409.5 601.4L410.8 599.8L412.2 599.5L413.5 601.1L414.9 603.9L416.3 607.2L417.6 610.0L419.0 611.4L420.3 610.7L421.7 608.5L423.1 605.5L424.4 602.5L425.8 600.1L427.1 598.9L428.5 599.2L429.9 601.2L431.2 604.6L432.6 608.9L433.9 613.4L435.3 617.5L436.7 620.4L438.0 621.8L439.4 621.3L440.7 619.2L442.1 616.3L443.5 613.3L444.8 610.7L446.2 608.8L447.5 607.3L448.9 605.8L450.3 604.5L451.6 603.4L453.0 602.7L454.3 602.4L455.7 602.6"/>
<path d="M115.7 609.1L117.1 608.9L118.4 608.5L119.8 608.1L121.1 607.9L122.5 607.9L123.9 608.3L125.2 608.7L126.6 609.2L127.9 609.6L129.3 609.8L130.7 609.8L132.0 609.7L133.4 609.6L134.7 609.5L136.1 609.5L137.5 609.5L138.8 609.3L140.2 609.1L141.5 608.7L142.9 608.2L144.3 607.8L145.6 607.4L147.0 607.2L148.3 607.2L149.7 607.3L151.1 607.3L152.4 607.3L153.8 607.1L155.1 606.9L156.5 606.6L157.9 606.5L159.2 606.5L160.6 606.7L161.9 607.1L163.3 607.5L164.7 608.1L166.0 608.6L167.4 609.0L168.7 609.4L170.1 609.6L171.5 609.8L172.8 610.0L174.2 610.0L175.5 609.9L176.9 609.6L178.3 609.3L179.6 608.9L181.0 608.7L182.3 608.5L183.7 608.5L185.1 608.5L186.4 608.6L187.8 608.7L189.1 608.8L190.5 608.8L191.9 608.8L193.2 608.9L194.6 609.1L195.9 609.3L197.3 609.5L198.7 609.6L200.0 609.4L201.4 609.1L202.7 608.5L204.1 608.0L205.5 607.5L206.8 607.2L208.2 607.1L209.5 607.2L210.9 607.4L212.3 607.6L213.6 607.8L215.0 607.9L216.3 608.1L217.7 608.4L219.1 608.7L220.4 608.9L221.8 609.1L223.1 609.2L224.5 609.1L225.9 608.9L227.2 608.7L228.6 608.6L229.9 608.7L231.3 609.0L232.7 609.4L234.0 609.8L235.4 610.0L236.7 609.9L238.1 609.5L239.5 608.9L240.8 608.2L242.2 607.6L243.5 607.2L244.9 607.0L246.3 606.9L247.6 606.8L249.0 606.6L250.3 606.3L251.7 605.9L253.1 605.6L254.4 605.3L255.8 605.3L257.1 605.6L258.5 606.1L259.9 606.7L261.2 607.3L262.6 607.8L263.9 608.3L265.3 608.7L266.7 609.1L268.0 609.5L269.4 609.8L270.7 610.1L272.1 610.3L273.5 610.5L274.8 610.7L276.2 611.1L277.5 611.6L278.9 612.2L280.3 612.7L281.6 613.0L283.0 612.8L284.3 611.6L285.7 609.2L287.1 606.0L288.4 602.9L289.8 600.8L291.1 599.8L292.5 600.2L293.9 601.8L295.2 604.9L296.6 608.9L297.9 612.5L299.3 615.3L300.7 617.0L302.0 616.8L303.4 614.6L304.7 611.3L306.1 607.9L307.5 604.7L308.8 602.3L310.2 601.3L311.5 601.5L312.9 602.8L314.3 604.7L315.6 606.7L317.0 608.6L318.3 610.1L319.7 611.1L321.1 611.4L322.4 610.9L323.8 610.0L325.1 609.1L326.5 608.6L327.9 608.5L329.2 608.5L330.6 608.3L331.9 607.8L333.3 607.0L334.7 606.1L336.0 605.4L337.4 605.2L338.7 605.7L340.1 606.9L341.5 608.4L342.8 609.7L344.2 610.4L345.5 610.3L346.9 609.5L348.3 608.1L349.6 606.6L351.0 605.5L352.3 605.3L353.7 605.9L355.1 607.4L356.4 609.3L357.8 611.2L359.1 612.9L360.5 614.1L361.9 614.9L363.2 615.0L364.6 614.5L365.9 613.5L367.3 612.4L368.7 611.4L370.0 610.7L371.4 610.2L372.7 609.7L374.1 608.8L375.5 607.7L376.8 606.4L378.2 604.9L379.5 603.6L380.9 602.7L382.3 602.5L383.6 603.1L385.0 604.5L386.3 606.5L387.7 608.7L389.1 610.7L390.4 612.0L391.8 612.3L393.1 611.5L394.5 609.9L395.9 607.9L397.2 606.0L398.6 604.6L399.9 604.1L401.3 604.5L402.7 605.6L404.0 607.2L405.4 608.6L406.7 609.3L408.1 609.2L409.5 608.3L410.8 606.9L412.2 605.4L413.5 604.6L414.9 604.7L416.3 605.5L417.6 606.8L419.0 607.8L420.3 608.1L421.7 607.6L423.1 606.6L424.4 605.5L425.8 604.7L427.1 604.4L428.5 605.0L429.9 606.5L431.2 608.9L432.6 611.7L433.9 614.5L435.3 617.0L436.7 618.8L438.0 619.5L439.4 619.2L440.7 617.8L442.1 616.0L443.5 614.2L444.8 612.7L446.2 611.6L447.5 610.6L448.9 609.4L450.3 608.1L451.6 606.7L453.0 605.4L454.3 604.3L455.7 603.3"/>
<path d="M115.7 610.6L117.1 610.5L118.4 610.2L119.8 609.9L121.1 609.6L122.5 609.6L123.9 609.8L125.2 610.2L126.6 610.7L127.9 611.0L129.3 611.2L130.7 611.0L132.0 610.8L133.4 610.4L134.7 610.0L136.1 609.8L137.5 609.6L138.8 609.6L140.2 609.5L141.5 609.4L142.9 609.3L144.3 609.1L145.6 609.0L147.0 608.9L148.3 608.9L149.7 608.8L151.1 608.7L152.4 608.5L153.8 608.3L155.1 608.0L156.5 607.8L157.9 607.7L159.2 607.7L160.6 607.9L161.9 608.2L163.3 608.7L164.7 609.2L166.0 609.7L167.4 610.1L168.7 610.4L170.1 610.5L171.5 610.6L172.8 610.6L174.2 610.6L175.5 610.5L176.9 610.5L178.3 610.5L179.6 610.6L181.0 610.6L182.3 610.6L183.7 610.4L185.1 610.2L186.4 609.9L187.8 609.6L189.1 609.4L190.5 609.4L191.9 609.5L193.2 609.7L194.6 609.8L195.9 609.8L197.3 609.8L198.7 609.7L200.0 609.6L201.4 609.6L202.7 609.7L204.1 609.7L205.5 609.7L206.8 609.6L208.2 609.2L209.5 608.8L210.9 608.3L212.3 608.1L213.6 608.1L215.0 608.4L216.3 608.9L217.7 609.6L219.1 610.3L220.4 610.8L221.8 611.1L223.1 611.2L224.5 611.0L225.9 610.8L227.2 610.5L228.6 610.2L229.9 609.9L231.3 609.7L232.7 609.6L234.0 609.5L235.4 609.5L236.7 609.5L238.1 609.5L239.5 609.4L240.8 609.2L242.2 609.0L243.5 608.6L244.9 608.2L246.3 607.8L247.6 607.4L249.0 607.3L250.3 607.3L251.7 607.5L253.1 607.7L254.4 607.9L255.8 607.9L257.1 607.9L258.5 607.8L259.9 607.8L261.2 607.9L262.6 608.2L263.9 608.6L265.3 609.3L266.7 610.0L268.0 610.7L269.4 611.3L270.7 611.9L272.1 612.5L273.5 613.2L274.8 613.9L276.2 614.5L277.5 614.9L278.9 614.8L280.3 614.1L281.6 613.0L283.0 611.6L284.3 609.9L285.7 608.0L287.1 606.3L288.4 605.4L289.8 605.5L291.1 606.2L292.5 607.1L293.9 608.2L295.2 609.6L296.6 611.4L297.9 612.8L299.3 613.9L300.7 614.7L302.0 614.5L303.4 613.1L304.7 611.0L306.1 608.7L307.5 606.1L308.8 603.9L310.2 602.6L311.5 602.4L312.9 603.2L314.3 604.7L315.6 606.7L317.0 608.6L318.3 610.2L319.7 611.2L321.1 611.3L322.4 610.4L323.8 608.8L325.1 607.1L326.5 605.9L327.9 605.1L329.2 604.8L330.6 604.6L331.9 604.4L333.3 604.4L334.7 604.6L336.0 605.2L337.4 606.5L338.7 608.5L340.1 610.9L341.5 613.2L342.8 614.9L344.2 615.4L345.5 614.8L346.9 613.5L348.3 611.8L349.6 610.4L351.0 609.7L352.3 610.0L353.7 611.1L355.1 612.5L356.4 613.7L357.8 614.5L359.1 614.7L360.5 614.5L361.9 613.9L363.2 613.0L364.6 612.0L365.9 610.7L367.3 609.6L368.7 608.8L370.0 608.3L371.4 608.2L372.7 608.3L374.1 608.6L375.5 608.7L376.8 608.4L378.2 607.6L379.5 606.3L380.9 604.8L382.3 603.5L383.6 602.9L385.0 603.4L386.3 605.0L387.7 607.4L389.1 609.8L390.4 611.6L391.8 612.0L393.1 610.8L394.5 608.5L395.9 606.1L397.2 604.3L398.6 603.7L399.9 604.6L401.3 606.6L402.7 609.0L404.0 610.9L405.4 611.5L406.7 610.7L408.1 608.9L409.5 606.5L410.8 604.3L412.2 603.2L413.5 603.9L414.9 606.1L416.3 609.1L417.6 612.1L419.0 614.0L420.3 613.7L421.7 611.8L423.1 608.8L424.4 605.7L425.8 603.2L427.1 601.9L428.5 602.3L429.9 604.4L431.2 608.1L432.6 612.6L433.9 617.2L435.3 621.0L436.7 623.7L438.0 624.8L439.4 623.9L440.7 621.6L442.1 618.4L443.5 615.1L444.8 612.4L446.2 610.5L447.5 609.3L448.9 608.6L450.3 608.2L451.6 607.9L453.0 607.5L454.3 606.6L455.7 605.3"/>
<path d="M115.7 611.0L117.1 611.2L118.4 611.4L119.8 611.7L121.1 612.0L122.5 612.3L123.9 612.4L125.2 612.5L126.6 612.4L127.9 612.1L129.3 611.8L130.7 611.5L132.0 611.2L133.4 611.1L134.7 610.9L136.1 610.8L137.5 610.7L138.8 610.4L140.2 610.1L141.5 609.8L142.9 609.5L144.3 609.4L145.6 609.3L147.0 609.3L148.3 609.4L149.7 609.5L151.1 609.6L152.4 609.6L153.8 609.7L155.1 609.7L156.5 609.8L157.9 610.0L159.2 610.2L160.6 610.3L161.9 610.5L163.3 610.6L164.7 610.7L166.0 611.0L167.4 611.3L168.7 611.6L170.1 612.0L171.5 612.3L172.8 612.3L174.2 612.1L175.5 611.6L176.9 611.0L178.3 610.3L179.6 609.9L181.0 609.7L182.3 609.8L183.7 610.1L185.1 610.5L186.4 610.8L187.8 611.0L189.1 611.0L190.5 610.9L191.9 610.8L193.2 610.7L194.6 610.8L195.9 610.9L197.3 611.1L198.7 611.2L200.0 611.2L201.4 611.1L202.7 610.9L204.1 610.7L205.5 610.4L206.8 610.2L208.2 610.1L209.5 610.1L210.9 610.1L212.3 610.2L213.6 610.3L215.0 610.4L216.3 610.5L217.7 610.7L219.1 610.7L220.4 610.8L221.8 610.7L223.1 610.5L224.5 610.3L225.9 610.1L227.2 610.0L228.6 610.0L229.9 610.2L231.3 610.6L232.7 611.0L234.0 611.3L235.4 611.4L236.7 611.4L238.1 611.1L239.5 610.8L240.8 610.5L242.2 610.2L243.5 610.1L244.9 610.0L246.3 610.0L247.6 610.0L249.0 610.0L250.3 609.9L251.7 609.9L253.1 610.0L254.4 610.0L255.8 609.9L257.1 609.8L258.5 609.5L259.9 609.2L261.2 609.0L262.6 609.1L263.9 609.4L265.3 610.1L266.7 611.0L268.0 611.9L269.4 612.6L270.7 613.1L272.1 613.3L273.5 613.3L274.8 613.4L276.2 613.6L277.5 614.1L278.9 614.7L280.3 615.4L281.6 615.8L283.0 615.8L284.3 615.0L285.7 613.2L287.1 610.6L288.4 608.3L289.8 606.8L291.1 606.1L292.5 606.2L293.9 607.2L295.2 609.2L296.6 611.8L297.9 614.0L299.3 615.6L300.7 616.4L302.0 616.0L303.4 613.9L304.7 610.9L306.1 607.7L307.5 604.3L308.8 601.2L310.2 599.2L311.5 598.5L312.9 599.2L314.3 601.2L315.6 604.1L317.0 607.5L318.3 610.7L319.7 613.1L321.1 614.1L322.4 613.1L323.8 610.6L325.1 607.5L326.5 605.1L327.9 603.9L329.2 604.0L330.6 605.1L331.9 607.0L333.3 609.2L334.7 611.1L336.0 612.6L337.4 613.9L338.7 615.1L340.1 616.4L341.5 617.6L342.8 618.3L344.2 618.1L345.5 617.0L346.9 615.1L348.3 612.6L349.6 609.9L351.0 607.6L352.3 606.1L353.7 605.7L355.1 606.2L356.4 607.3L357.8 608.8L359.1 610.5L360.5 612.2L361.9 613.8L363.2 615.0L364.6 615.5L365.9 615.2L367.3 614.5L368.7 613.6L370.0 613.0L371.4 612.7L372.7 612.6L374.1 612.7L375.5 612.6L376.8 612.2L378.2 611.2L379.5 609.6L380.9 607.7L382.3 606.0L383.6 604.9L385.0 604.9L386.3 605.9L387.7 607.8L389.1 609.9L390.4 611.6L391.8 612.5L393.1 612.2L394.5 611.3L395.9 610.1L397.2 609.2L398.6 608.7L399.9 608.9L401.3 609.4L402.7 610.1L404.0 610.4L405.4 609.9L406.7 609.0L408.1 608.0L409.5 607.2L410.8 607.0L412.2 607.5L413.5 608.9L414.9 610.5L416.3 611.8L417.6 612.6L419.0 612.4L420.3 611.3L421.7 609.9L423.1 609.0L424.4 608.5L425.8 608.4L427.1 608.3L428.5 608.2L429.9 608.4L431.2 609.1L432.6 610.5L433.9 612.6L435.3 615.3L436.7 617.8L438.0 619.5L439.4 619.6L440.7 618.0L442.1 615.4L443.5 612.5L444.8 610.0L446.2 608.7L447.5 608.3L448.9 608.6L450.3 609.1L451.6 609.5L453.0 609.4L454.3 608.9L455.7 608.2"/>
<path d="M115.7 614.5L117.1 614.4L118.4 614.3L119.8 614.3L121.1 614.3L122.5 614.4L123.9 614.5L125.2 614.6L126.6 614.7L127.9 614.8L129.3 614.9L130.7 615.1L132.0 615.2L133.4 615.4L134.7 615.4L136.1 615.3L137.5 615.0L138.8 614.6L140.2 614.1L141.5 613.8L142.9 613.8L144.3 613.9L145.6 614.1L147.0 614.4L148.3 614.5L149.7 614.3L151.1 614.0L152.4 613.5L153.8 613.1L155.1 612.8L156.5 612.9L157.9 613.1L159.2 613.5L160.6 613.8L161.9 614.0L163.3 614.0L164.7 613.8L166.0 613.7L167.4 613.5L168.7 613.6L170.1 613.7L171.5 614.0L172.8 614.3L174.2 614.5L175.5 614.6L176.9 614.7L178.3 614.7L179.6 614.8L181.0 614.9L182.3 614.9L183.7 614.8L185.1 614.7L186.4 614.4L187.8 614.0L189.1 613.7L190.5 613.5L191.9 613.5L193.2 613.8L194.6 614.1L195.9 614.6L197.3 614.9L198.7 615.1L200.0 615.2L201.4 615.0L202.7 614.7L204.1 614.3L205.5 613.9L206.8 613.5L208.2 613.2L209.5 612.9L210.9 612.8L212.3 612.8L213.6 612.9L215.0 613.1L216.3 613.3L217.7 613.6L219.1 613.9L220.4 614.2L221.8 614.6L223.1 614.9L224.5 615.1L225.9 615.3L227.2 615.3L228.6 615.3L229.9 615.1L231.3 614.9L232.7 614.6L234.0 614.4L235.4 614.3L236.7 614.3L238.1 614.3L239.5 614.3L240.8 614.3L242.2 614.1L243.5 613.8L244.9 613.3L246.3 612.7L247.6 612.1L249.0 611.5L250.3 611.1L251.7 610.9L253.1 610.8L254.4 610.7L255.8 610.7L257.1 610.7L258.5 610.6L259.9 610.5L261.2 610.5L262.6 610.7L263.9 611.2L265.3 612.1L266.7 613.3L268.0 614.8L269.4 616.3L270.7 617.8L272.1 619.1L273.5 620.3L274.8 621.2L276.2 621.9L277.5 622.2L278.9 622.0L280.3 621.5L281.6 620.6L283.0 619.5L284.3 618.0L285.7 615.7L287.1 613.0L288.4 610.6L289.8 609.0L291.1 607.7L292.5 607.0L293.9 607.0L295.2 608.3L296.6 611.0L297.9 613.9L299.3 616.7L300.7 619.0L302.0 619.8L303.4 618.7L304.7 616.6L306.1 614.0L307.5 611.5L308.8 609.5L310.2 608.6L311.5 608.8L312.9 609.8L314.3 611.2L315.6 612.7L317.0 614.2L318.3 615.6L319.7 616.8L321.1 617.4L322.4 616.9L323.8 615.5L325.1 613.5L326.5 611.4L327.9 609.6L329.2 608.2L330.6 607.6L331.9 607.8L333.3 608.9L334.7 610.6L336.0 612.6L337.4 614.8L338.7 616.9L340.1 618.7L341.5 620.0L342.8 620.4L344.2 619.6L345.5 617.8L346.9 615.4L348.3 612.6L349.6 610.0L351.0 608.4L352.3 608.2L353.7 609.5L355.1 611.9L356.4 614.7L357.8 617.6L359.1 620.1L360.5 622.0L361.9 623.3L363.2 623.6L364.6 622.8L365.9 620.9L367.3 618.7L368.7 616.8L370.0 615.6L371.4 615.2L372.7 615.4L374.1 615.4L375.5 615.1L376.8 613.9L378.2 611.6L379.5 608.6L380.9 605.7L382.3 603.7L383.6 603.3L385.0 604.6L386.3 607.6L387.7 611.2L389.1 614.2L390.4 615.7L391.8 615.2L393.1 613.0L394.5 610.2L395.9 608.1L397.2 607.5L398.6 608.7L399.9 611.6L401.3 615.0L402.7 618.2L404.0 620.0L405.4 619.8L406.7 617.8L408.1 614.9L409.5 611.8L410.8 609.4L412.2 608.4L413.5 609.0L414.9 610.8L416.3 613.0L417.6 614.8L419.0 615.5L420.3 614.5L421.7 612.7L423.1 611.0L424.4 610.1L425.8 610.3L427.1 611.4L428.5 613.1L429.9 615.1L431.2 617.1L432.6 618.9L433.9 620.6L435.3 622.3L436.7 624.0L438.0 625.6L439.4 626.2L440.7 625.9L442.1 624.6L443.5 622.5L444.8 620.1L446.2 617.5L447.5 614.8L448.9 612.2L450.3 610.1L451.6 608.6L453.0 607.9L454.3 607.7L455.7 608.0"/>
<path d="M115.7 616.0L117.1 616.2L118.4 616.4L119.8 616.4L121.1 616.5L122.5 616.5L123.9 616.6L125.2 616.7L126.6 616.8L127.9 616.8L129.3 616.8L130.7 616.6L132.0 616.3L133.4 615.9L134.7 615.4L136.1 615.1L137.5 614.9L138.8 614.9L140.2 615.0L141.5 615.2L142.9 615.4L144.3 615.5L145.6 615.4L147.0 615.2L148.3 614.9L149.7 614.6L151.1 614.4L152.4 614.3L153.8 614.3L155.1 614.3L156.5 614.3L157.9 614.2L159.2 614.0L160.6 613.8L161.9 613.6L163.3 613.5L164.7 613.5L166.0 613.8L167.4 614.3L168.7 614.8L170.1 615.3L171.5 615.8L172.8 616.2L174.2 616.4L175.5 616.5L176.9 616.5L178.3 616.4L179.6 616.4L181.0 616.3L182.3 616.2L183.7 616.2L185.1 616.0L186.4 615.9L187.8 615.8L189.1 615.7L190.5 615.6L191.9 615.6L193.2 615.7L194.6 615.8L195.9 615.9L197.3 616.1L198.7 616.2L200.0 616.3L201.4 616.3L202.7 616.3L204.1 616.2L205.5 616.0L206.8 615.7L208.2 615.5L209.5 615.2L210.9 615.0L212.3 614.8L213.6 614.8L215.0 614.9L216.3 615.1L217.7 615.3L219.1 615.5L220.4 615.7L221.8 615.7L223.1 615.6L224.5 615.3L225.9 615.1L227.2 614.8L228.6 614.7L229.9 614.7L231.3 615.0L232.7 615.4L234.0 615.7L235.4 616.0L236.7 616.1L238.1 616.0L239.5 615.8L240.8 615.5L242.2 615.1L243.5 614.9L244.9 614.7L246.3 614.5L247.6 614.2L249.0 613.9L250.3 613.5L251.7 613.1L253.1 612.9L254.4 612.9L255.8 613.2L257.1 613.6L258.5 614.1L259.9 614.5L261.2 614.6L262.6 614.5L263.9 614.3L265.3 614.1L266.7 614.0L268.0 614.3L269.4 615.0L270.7 616.1L272.1 617.4L273.5 618.6L274.8 619.5L276.2 620.0L277.5 620.0L278.9 619.5L280.3 618.8L281.6 617.9L283.0 616.9L284.3 616.0L285.7 614.8L287.1 613.6L288.4 612.9L289.8 612.8L291.1 613.3L292.5 614.0L293.9 614.9L295.2 616.0L296.6 616.9L297.9 617.3L299.3 617.2L300.7 616.7L302.0 615.8L303.4 614.6L304.7 613.5L306.1 612.6L307.5 612.0L308.8 611.7L310.2 611.8L311.5 612.5L312.9 613.6L314.3 615.2L315.6 616.9L317.0 618.8L318.3 620.3L319.7 621.2L321.1 621.0L322.4 619.4L323.8 616.6L325.1 613.2L326.5 610.2L327.9 608.0L329.2 607.0L330.6 607.3L331.9 608.5L333.3 610.4L334.7 612.5L336.0 614.3L337.4 615.8L338.7 617.1L340.1 618.2L341.5 619.2L342.8 619.8L344.2 619.6L345.5 618.8L346.9 617.4L348.3 615.4L349.6 613.2L351.0 611.6L352.3 610.9L353.7 611.5L355.1 613.1L356.4 615.1L357.8 617.2L359.1 619.0L360.5 620.2L361.9 620.7L363.2 620.6L364.6 619.8L365.9 618.6L367.3 617.7L368.7 617.4L370.0 617.7L371.4 618.3L372.7 618.9L374.1 619.1L375.5 618.6L376.8 617.4L378.2 615.6L379.5 613.5L380.9 611.6L382.3 610.5L383.6 610.5L385.0 611.5L386.3 613.6L387.7 616.0L389.1 618.1L390.4 619.2L391.8 618.8L393.1 617.0L394.5 614.3L395.9 611.8L397.2 610.3L398.6 610.1L399.9 611.6L401.3 613.9L402.7 616.2L404.0 617.7L405.4 617.6L406.7 616.0L408.1 613.7L409.5 611.4L410.8 609.6L412.2 609.2L413.5 610.2L414.9 612.1L416.3 614.3L417.6 616.1L419.0 617.0L420.3 616.6L421.7 615.4L423.1 613.9L424.4 612.6L425.8 611.7L427.1 611.5L428.5 612.1L429.9 613.7L431.2 616.2L432.6 619.1L433.9 621.9L435.3 624.1L436.7 625.2L438.0 625.2L439.4 623.8L440.7 621.7L442.1 619.6L443.5 618.0L444.8 617.3L446.2 617.2L447.5 617.0L448.9 616.3L450.3 614.9L451.6 613.2L453.0 611.5L454.3 610.2L455.7 609.8"/>
<path d="M115.7 616.8L117.1 616.9L118.4 617.0L119.8 617.2L121.1 617.5L122.5 617.8L123.9 618.1L125.2 618.2L126.6 618.3L127.9 618.1L129.3 617.9L130.7 617.7L132.0 617.5L133.4 617.2L134.7 617.0L136.1 616.8L137.5 616.5L138.8 616.3L140.2 616.2L141.5 616.2L142.9 616.3L144.3 616.6L145.6 616.8L147.0 616.9L148.3 616.9L149.7 616.5L151.1 616.1L152.4 615.6L153.8 615.3L155.1 615.2L156.5 615.5L157.9 615.9L159.2 616.5L160.6 617.0L161.9 617.2L163.3 617.3L164.7 617.1L166.0 616.8L167.4 616.5L168.7 616.2L170.1 616.2L171.5 616.3L172.8 616.6L174.2 616.9L175.5 617.1L176.9 617.2L178.3 617.3L179.6 617.2L181.0 617.2L182.3 617.1L183.7 617.0L185.1 617.0L186.4 616.9L187.8 616.8L189.1 616.7L190.5 616.7L191.9 616.6L193.2 616.6L194.6 616.8L195.9 617.0L197.3 617.2L198.7 617.3L200.0 617.3L201.4 617.1L202.7 616.9L204.1 616.6L205.5 616.4L206.8 616.3L208.2 616.4L209.5 616.5L210.9 616.7L212.3 616.7L213.6 616.5L215.0 616.2L216.3 615.8L217.7 615.7L219.1 615.8L220.4 616.2L221.8 616.8L223.1 617.4L224.5 617.8L225.9 617.9L227.2 617.7L228.6 617.3L229.9 617.0L231.3 616.9L232.7 617.0L234.0 617.4L235.4 617.9L236.7 618.0L238.1 617.8L239.5 617.2L240.8 616.4L242.2 615.6L243.5 615.1L244.9 615.0L246.3 615.2L247.6 615.5L249.0 615.7L250.3 615.6L251.7 615.2L253.1 614.5L254.4 613.8L255.8 613.3L257.1 613.0L258.5 613.1L259.9 613.4L261.2 613.9L262.6 614.4L263.9 615.0L265.3 615.7L266.7 616.5L268.0 617.5L269.4 618.5L270.7 619.5L272.1 620.3L273.5 620.8L274.8 621.2L276.2 621.4L277.5 621.6L278.9 621.9L280.3 622.1L281.6 622.2L283.0 621.9L284.3 620.8L285.7 618.3L287.1 614.9L288.4 611.9L289.8 609.9L291.1 609.0L292.5 609.1L293.9 610.3L295.2 612.7L296.6 615.9L297.9 619.0L299.3 621.6L300.7 623.6L302.0 624.3L303.4 623.4L304.7 621.5L306.1 619.2L307.5 616.4L308.8 613.6L310.2 611.4L311.5 609.9L312.9 609.4L314.3 609.9L315.6 611.3L317.0 613.7L318.3 616.6L319.7 619.6L321.1 621.9L322.4 622.6L323.8 621.7L325.1 619.5L326.5 616.6L327.9 613.7L329.2 611.1L330.6 609.4L331.9 608.8L333.3 609.2L334.7 610.3L336.0 611.8L337.4 613.6L338.7 615.4L340.1 617.4L341.5 619.2L342.8 620.7L344.2 621.4L345.5 621.4L346.9 620.6L348.3 619.0L349.6 616.8L351.0 614.5L352.3 612.8L353.7 611.9L355.1 612.2L356.4 613.3L357.8 615.3L359.1 617.7L360.5 620.2L361.9 622.5L363.2 624.1L364.6 624.7L365.9 624.2L367.3 623.1L368.7 621.8L370.0 620.5L371.4 619.4L372.7 618.4L374.1 617.4L375.5 616.4L376.8 615.1L378.2 613.7L379.5 612.4L380.9 611.6L382.3 611.7L383.6 612.6L385.0 614.4L386.3 616.7L387.7 619.0L389.1 620.5L390.4 620.8L391.8 619.8L393.1 617.8L394.5 615.3L395.9 613.0L397.2 611.5L398.6 610.9L399.9 611.3L401.3 612.5L402.7 614.0L404.0 615.3L405.4 616.0L406.7 616.0L408.1 615.7L409.5 615.0L410.8 614.4L412.2 614.3L413.5 614.9L414.9 616.2L416.3 617.7L417.6 619.1L419.0 619.8L420.3 619.2L421.7 617.7L423.1 615.7L424.4 613.8L425.8 612.3L427.1 611.3L428.5 611.2L429.9 612.2L431.2 614.2L432.6 617.0L433.9 620.4L435.3 623.9L436.7 627.2L438.0 629.4L439.4 630.0L440.7 629.0L442.1 626.6L443.5 623.3L444.8 619.9L446.2 616.8L447.5 614.4L448.9 612.7L450.3 611.9L451.6 612.1L453.0 613.1L454.3 614.2L455.7 615.3"/>
<path d="M115.7 618.3L117.1 618.5L118.4 618.7L119.8 618.8L121.1 619.0L122.5 618.9L123.9 618.8L125.2 618.6L126.6 618.3L127.9 618.2L129.3 618.2L130.7 618.3L132.0 618.5L133.4 618.7L134.7 618.7L136.1 618.5L137.5 618.2L138.8 617.9L140.2 617.6L141.5 617.5L142.9 617.6L144.3 617.7L145.6 617.8L147.0 617.8L148.3 617.7L149.7 617.5L151.1 617.3L152.4 617.2L153.8 617.3L155.1 617.4L156.5 617.6L157.9 617.7L159.2 617.7L160.6 617.5L161.9 617.2L163.3 617.0L164.7 616.9L166.0 617.1L167.4 617.6L168.7 618.2L170.1 618.8L171.5 619.2L172.8 619.4L174.2 619.4L175.5 619.1L176.9 618.8L178.3 618.5L179.6 618.3L181.0 618.1L182.3 618.0L183.7 617.8L185.1 617.6L186.4 617.3L187.8 617.0L189.1 616.9L190.5 617.0L191.9 617.3L193.2 617.7L194.6 618.2L195.9 618.5L197.3 618.7L198.7 618.5L200.0 618.2L201.4 617.8L202.7 617.4L204.1 617.2L205.5 617.2L206.8 617.5L208.2 617.9L209.5 618.3L210.9 618.6L212.3 618.8L213.6 618.8L215.0 618.7L216.3 618.4L217.7 618.0L219.1 617.7L220.4 617.6L221.8 617.6L223.1 617.7L224.5 618.0L225.9 618.2L227.2 618.3L228.6 618.3L229.9 618.2L231.3 617.9L232.7 617.6L234.0 617.5L235.4 617.4L236.7 617.5L238.1 617.6L239.5 617.7L240.8 617.6L242.2 617.3L243.5 616.9L244.9 616.5L246.3 616.1L247.6 615.9L249.0 615.8L250.3 615.9L251.7 615.9L253.1 615.8L254.4 615.4L255.8 615.0L257.1 614.5L258.5 614.1L259.9 614.0L261.2 614.4L262.6 615.2L263.9 616.2L265.3 617.4L266.7 618.4L268.0 619.2L269.4 619.7L270.7 620.0L272.1 620.3L273.5 620.7L274.8 621.4L276.2 622.2L277.5 623.1L278.9 623.8L280.3 624.0L281.6 623.6L283.0 622.8L284.3 621.3L285.7 619.0L287.1 616.4L288.4 614.2L289.8 612.7L291.1 611.8L292.5 611.3L293.9 611.6L295.2 613.1L296.6 615.9L297.9 619.1L299.3 622.4L300.7 625.3L302.0 626.8L303.4 625.9L304.7 623.4L306.1 619.9L307.5 615.6L308.8 611.4L310.2 608.4L311.5 606.8L312.9 606.9L314.3 608.4L315.6 610.9L317.0 614.1L318.3 617.2L319.7 619.9L321.1 621.4L322.4 621.4L323.8 620.1L325.1 618.1L326.5 616.2L327.9 614.9L329.2 614.4L330.6 614.7L331.9 615.8L333.3 617.2L334.7 618.8L336.0 620.1L337.4 621.1L338.7 621.8L340.1 622.2L341.5 622.5L342.8 622.4L344.2 621.7L345.5 620.8L346.9 619.5L348.3 618.0L349.6 616.4L351.0 615.1L352.3 614.5L353.7 614.5L355.1 615.1L356.4 616.1L357.8 617.3L359.1 618.8L360.5 620.3L361.9 621.8L363.2 622.9L364.6 623.1L365.9 622.3L367.3 620.7L368.7 618.8L370.0 617.1L371.4 616.2L372.7 616.1L374.1 616.9L375.5 618.1L376.8 619.2L378.2 619.5L379.5 618.8L380.9 617.0L382.3 614.7L383.6 612.6L385.0 611.4L386.3 611.5L387.7 612.9L389.1 614.9L390.4 616.9L391.8 618.1L393.1 618.1L394.5 617.3L395.9 616.6L397.2 616.2L398.6 616.5L399.9 617.7L401.3 619.1L402.7 620.3L404.0 620.6L405.4 619.6L406.7 617.7L408.1 615.5L409.5 613.7L410.8 612.7L412.2 612.8L413.5 614.1L414.9 616.0L416.3 617.8L417.6 619.1L419.0 619.5L420.3 618.7L421.7 617.5L423.1 616.4L424.4 615.9L425.8 615.5L427.1 615.3L428.5 615.0L429.9 614.9L431.2 615.1L432.6 616.0L433.9 617.7L435.3 620.3L436.7 623.3L438.0 626.1L439.4 627.8L440.7 627.8L442.1 626.3L443.5 623.8L444.8 621.0L446.2 618.5L447.5 616.6L448.9 615.5L450.3 615.3L451.6 615.7L453.0 616.4L454.3 616.8L455.7 616.8"/>
<path d="M115.7 619.0L117.1 619.1L118.4 619.2L119.8 619.3L121.1 619.5L122.5 619.7L123.9 619.8L125.2 620.0L126.6 620.1L127.9 620.2L129.3 620.2L130.7 620.1L132.0 620.1L133.4 620.0L134.7 620.0L136.1 620.0L137.5 620.0L138.8 620.0L140.2 620.0L141.5 619.8L142.9 619.5L144.3 619.1L145.6 618.7L147.0 618.3L148.3 618.0L149.7 617.8L151.1 617.7L152.4 617.7L153.8 617.7L155.1 617.7L156.5 617.6L157.9 617.5L159.2 617.4L160.6 617.3L161.9 617.3L163.3 617.6L164.7 617.9L166.0 618.5L167.4 619.1L168.7 619.7L170.1 620.3L171.5 620.7L172.8 620.9L174.2 620.9L175.5 620.7L176.9 620.3L178.3 619.8L179.6 619.4L181.0 619.0L182.3 618.7L183.7 618.5L185.1 618.5L186.4 618.6L187.8 618.7L189.1 619.0L190.5 619.3L191.9 619.6L193.2 620.0L194.6 620.3L195.9 620.6L197.3 620.8L198.7 620.7L200.0 620.5L201.4 620.1L202.7 619.6L204.1 619.2L205.5 618.9L206.8 618.7L208.2 618.6L209.5 618.6L210.9 618.7L212.3 618.7L213.6 618.8L215.0 618.8L216.3 618.9L217.7 619.0L219.1 619.1L220.4 619.2L221.8 619.2L223.1 619.1L224.5 619.1L225.9 619.0L227.2 619.0L228.6 619.2L229.9 619.5L231.3 619.9L232.7 620.3L234.0 620.6L235.4 620.7L236.7 620.5L238.1 620.0L239.5 619.3L240.8 618.6L242.2 617.9L243.5 617.4L244.9 617.1L246.3 616.9L247.6 616.9L249.0 616.8L250.3 616.8L251.7 616.8L253.1 616.8L254.4 616.8L255.8 616.9L257.1 617.1L258.5 617.2L259.9 617.4L261.2 617.5L262.6 617.6L263.9 617.7L265.3 617.9L266.7 618.3L268.0 618.9L269.4 619.7L270.7 620.7L272.1 621.7L273.5 622.6L274.8 623.4L276.2 623.9L277.5 624.2L278.9 624.3L280.3 624.1L281.6 623.9L283.0 623.5L284.3 622.8L285.7 621.4L287.1 619.5L288.4 617.8L289.8 616.5L291.1 615.8L292.5 615.6L293.9 616.1L295.2 617.3L296.6 619.0L297.9 620.6L299.3 621.6L300.7 622.2L302.0 621.9L303.4 620.4L304.7 618.7L306.1 616.9L307.5 615.4L308.8 614.2L310.2 613.7L311.5 613.8L312.9 614.5L314.3 615.6L315.6 616.9L317.0 618.5L318.3 620.2L319.7 621.9L321.1 623.1L322.4 623.1L323.8 621.9L325.1 619.8L326.5 617.6L327.9 615.6L329.2 614.1L330.6 613.5L331.9 613.8L333.3 614.9L334.7 616.4L336.0 617.9L337.4 619.0L338.7 619.8L340.1 620.3L341.5 620.6L342.8 620.7L344.2 620.6L345.5 620.6L346.9 620.5L348.3 620.1L349.6 619.4L351.0 618.5L352.3 617.6L353.7 617.2L355.1 617.3L356.4 618.1L357.8 619.4L359.1 621.3L360.5 623.3L361.9 625.0L363.2 626.1L364.6 626.1L365.9 625.0L367.3 623.5L368.7 621.9L370.0 620.9L371.4 620.5L372.7 620.5L374.1 620.6L375.5 620.5L376.8 619.7L378.2 618.2L379.5 616.1L380.9 613.8L382.3 611.9L383.6 611.0L385.0 611.5L386.3 613.3L387.7 615.8L389.1 618.2L390.4 619.7L391.8 619.9L393.1 618.7L394.5 617.0L395.9 615.7L397.2 615.5L398.6 616.5L399.9 618.7L401.3 621.3L402.7 623.1L404.0 623.6L405.4 622.0L406.7 619.0L408.1 615.4L409.5 612.4L410.8 610.7L412.2 611.1L413.5 613.5L414.9 616.8L416.3 620.0L417.6 622.1L419.0 622.1L420.3 620.1L421.7 617.2L423.1 614.6L424.4 613.3L425.8 613.7L427.1 615.7L428.5 618.6L429.9 621.8L431.2 624.7L432.6 626.7L433.9 627.5L435.3 627.4L436.7 626.7L438.0 625.5L439.4 623.8L440.7 622.0L442.1 620.3L443.5 618.9L444.8 617.9L446.2 617.6L447.5 617.7L448.9 618.0L450.3 618.4L451.6 618.9L453.0 619.2L454.3 619.2L455.7 618.7"/>
<path d="M115.7 620.3L117.1 620.5L118.4 620.8L119.8 621.3L121.1 621.7L122.5 622.2L123.9 622.5L125.2 622.7L126.6 622.7L127.9 622.5L129.3 622.2L130.7 621.8L132.0 621.5L133.4 621.2L134.7 621.0L136.1 620.8L137.5 620.8L138.8 620.7L140.2 620.6L141.5 620.4L142.9 620.1L144.3 619.8L145.6 619.4L147.0 619.2L148.3 619.1L149.7 619.2L151.1 619.5L152.4 619.8L153.8 620.2L155.1 620.3L156.5 620.3L157.9 620.0L159.2 619.5L160.6 619.2L161.9 618.9L163.3 619.0L164.7 619.3L166.0 619.8L167.4 620.3L168.7 620.7L170.1 621.0L171.5 621.1L172.8 621.1L174.2 621.2L175.5 621.2L176.9 621.2L178.3 621.3L179.6 621.3L181.0 621.2L182.3 621.0L183.7 620.8L185.1 620.6L186.4 620.5L187.8 620.5L189.1 620.6L190.5 620.8L191.9 621.0L193.2 621.1L194.6 621.1L195.9 621.1L197.3 621.0L198.7 620.9L200.0 620.7L201.4 620.3L202.7 620.0L204.1 619.7L205.5 619.6L206.8 619.6L208.2 619.8L209.5 620.2L210.9 620.6L212.3 620.9L213.6 621.0L215.0 620.9L216.3 620.7L217.7 620.5L219.1 620.4L220.4 620.5L221.8 620.7L223.1 621.0L224.5 621.3L225.9 621.4L227.2 621.3L228.6 621.2L229.9 621.1L231.3 621.0L232.7 621.0L234.0 621.1L235.4 621.2L236.7 621.2L238.1 620.9L239.5 620.5L240.8 620.1L242.2 619.7L243.5 619.4L244.9 619.3L246.3 619.3L247.6 619.2L249.0 619.0L250.3 618.6L251.7 618.1L253.1 617.6L254.4 617.2L255.8 617.0L257.1 617.1L258.5 617.3L259.9 617.7L261.2 618.2L262.6 618.6L263.9 619.1L265.3 619.7L266.7 620.3L268.0 621.1L269.4 621.9L270.7 622.6L272.1 623.2L273.5 623.6L274.8 623.7L276.2 623.6L277.5 623.3L278.9 622.9L280.3 622.5L281.6 622.0L283.0 621.4L284.3 620.6L285.7 619.5L287.1 618.3L288.4 617.4L289.8 617.1L291.1 617.3L292.5 617.8L293.9 618.7L295.2 619.9L296.6 621.5L297.9 623.0L299.3 624.5L300.7 625.9L302.0 626.9L303.4 627.1L304.7 626.5L306.1 625.1L307.5 622.8L308.8 619.9L310.2 617.1L311.5 614.8L312.9 613.7L314.3 614.0L315.6 615.6L317.0 618.3L318.3 621.4L319.7 624.1L321.1 625.8L322.4 625.8L323.8 624.1L325.1 621.4L326.5 618.6L327.9 616.3L329.2 615.0L330.6 614.7L331.9 615.4L333.3 616.6L334.7 618.0L336.0 619.2L337.4 620.1L338.7 620.8L340.1 621.3L341.5 621.9L342.8 622.4L344.2 622.6L345.5 622.6L346.9 622.5L348.3 621.9L349.6 620.9L351.0 619.6L352.3 618.4L353.7 617.5L355.1 617.1L356.4 617.3L357.8 618.2L359.1 619.9L360.5 622.2L361.9 624.6L363.2 626.6L364.6 627.5L365.9 627.1L367.3 625.6L368.7 623.7L370.0 621.9L371.4 620.7L372.7 620.2L374.1 620.3L375.5 620.7L376.8 620.8L378.2 620.2L379.5 618.8L380.9 617.0L382.3 615.2L383.6 614.2L385.0 614.3L386.3 615.7L387.7 617.9L389.1 620.0L390.4 621.5L391.8 621.9L393.1 621.3L394.5 620.2L395.9 619.5L397.2 619.5L398.6 620.4L399.9 622.0L401.3 623.7L402.7 625.2L404.0 625.9L405.4 625.6L406.7 624.7L408.1 623.4L409.5 622.1L410.8 620.7L412.2 619.7L413.5 618.8L414.9 618.2L416.3 617.6L417.6 617.2L419.0 616.8L420.3 616.4L421.7 616.3L423.1 616.5L424.4 617.0L425.8 617.7L427.1 618.4L428.5 619.2L429.9 619.9L431.2 620.8L432.6 621.9L433.9 623.1L435.3 624.3L436.7 625.5L438.0 626.4L439.4 626.5L440.7 626.0L442.1 624.9L443.5 623.5L444.8 622.0L446.2 620.8L447.5 619.7L448.9 618.7L450.3 618.1L451.6 617.9L453.0 618.0L454.3 618.2L455.7 618.5"/>
<path d="M115.7 621.7L117.1 621.4L118.4 621.1L119.8 621.1L121.1 621.3L122.5 621.5L123.9 621.8L125.2 622.1L126.6 622.2L127.9 622.2L129.3 622.1L130.7 622.1L132.0 622.2L133.4 622.5L134.7 622.8L136.1 623.2L137.5 623.4L138.8 623.5L140.2 623.3L141.5 622.8L142.9 622.2L144.3 621.6L145.6 620.9L147.0 620.4L148.3 620.1L149.7 619.9L151.1 619.9L152.4 620.0L153.8 620.2L155.1 620.4L156.5 620.7L157.9 621.0L159.2 621.1L160.6 621.2L161.9 621.1L163.3 620.9L164.7 620.8L166.0 620.8L167.4 621.0L168.7 621.4L170.1 621.9L171.5 622.4L172.8 622.8L174.2 623.0L175.5 622.9L176.9 622.5L178.3 621.9L179.6 621.4L181.0 621.0L182.3 620.8L183.7 620.8L185.1 621.0L186.4 621.4L187.8 621.7L189.1 621.9L190.5 622.1L191.9 622.2L193.2 622.3L194.6 622.4L195.9 622.5L197.3 622.6L198.7 622.5L200.0 622.4L201.4 622.1L202.7 621.8L204.1 621.5L205.5 621.3L206.8 621.3L208.2 621.3L209.5 621.3L210.9 621.2L212.3 621.1L213.6 620.9L215.0 620.8L216.3 620.7L217.7 620.8L219.1 621.2L220.4 621.7L221.8 622.2L223.1 622.7L224.5 623.1L225.9 623.2L227.2 623.1L228.6 622.8L229.9 622.5L231.3 622.3L232.7 622.1L234.0 622.1L235.4 622.0L236.7 621.9L238.1 621.6L239.5 621.3L240.8 620.9L242.2 620.4L243.5 619.9L244.9 619.4L246.3 619.0L247.6 618.7L249.0 618.5L250.3 618.4L251.7 618.5L253.1 618.6L254.4 618.6L255.8 618.5L257.1 618.2L258.5 617.8L259.9 617.4L261.2 617.2L262.6 617.4L263.9 618.2L265.3 619.5L266.7 621.2L268.0 623.0L269.4 624.8L270.7 626.1L272.1 626.9L273.5 627.2L274.8 627.2L276.2 626.9L277.5 626.6L278.9 626.3L280.3 626.2L281.6 626.2L283.0 626.1L284.3 625.6L285.7 624.0L287.1 621.7L288.4 619.6L289.8 618.1L291.1 617.2L292.5 616.8L293.9 617.3L295.2 619.0L296.6 621.6L297.9 624.2L299.3 626.3L300.7 627.7L302.0 627.7L303.4 625.8L304.7 623.0L306.1 620.1L307.5 617.3L308.8 614.9L310.2 613.6L311.5 613.2L312.9 613.8L314.3 614.9L315.6 616.6L317.0 618.8L318.3 621.4L319.7 624.0L321.1 626.1L322.4 626.9L323.8 626.3L325.1 624.6L326.5 622.2L327.9 619.5L329.2 616.9L330.6 615.0L331.9 614.2L333.3 614.6L334.7 616.1L336.0 618.5L337.4 621.2L338.7 623.8L340.1 626.0L341.5 627.4L342.8 627.4L344.2 626.2L345.5 624.2L346.9 622.0L348.3 619.9L349.6 618.3L351.0 617.8L352.3 618.4L353.7 619.8L355.1 621.4L356.4 622.7L357.8 623.6L359.1 624.2L360.5 624.8L361.9 625.7L363.2 626.9L364.6 627.9L365.9 628.4L367.3 628.5L368.7 627.9L370.0 626.7L371.4 624.9L372.7 622.8L374.1 620.6L375.5 618.8L376.8 617.6L378.2 616.7L379.5 616.1L380.9 615.6L382.3 615.3L383.6 615.2L385.0 615.7L386.3 616.8L387.7 618.6L389.1 620.6L390.4 622.4L391.8 623.4L393.1 623.5L394.5 622.9L395.9 622.2L397.2 621.5L398.6 620.9L399.9 620.7L401.3 620.7L402.7 620.6L404.0 620.4L405.4 619.9L406.7 619.3L408.1 618.7L409.5 618.2L410.8 617.8L412.2 617.7L413.5 617.9L414.9 618.6L416.3 619.5L417.6 620.6L419.0 621.5L420.3 621.8L421.7 621.5L423.1 620.9L424.4 620.0L425.8 619.2L427.1 618.7L428.5 618.9L429.9 620.1L431.2 622.3L432.6 625.3L433.9 628.6L435.3 631.9L436.7 634.5L438.0 636.1L439.4 636.1L440.7 634.5L442.1 631.9L443.5 628.8L444.8 625.8L446.2 623.2L447.5 620.8L448.9 618.3L450.3 616.2L451.6 614.7L453.0 614.1L454.3 614.4L455.7 615.4"/>
<path d="M115.7 622.9L117.1 623.2L118.4 623.4L119.8 623.7L121.1 624.0L122.5 624.3L123.9 624.6L125.2 624.8L126.6 624.7L127.9 624.3L129.3 623.9L130.7 623.5L132.0 623.3L133.4 623.4L134.7 623.7L136.1 624.1L137.5 624.4L138.8 624.4L140.2 624.2L141.5 623.7L142.9 623.3L144.3 622.9L145.6 622.8L147.0 622.9L148.3 623.0L149.7 623.0L151.1 622.8L152.4 622.3L153.8 621.7L155.1 621.1L156.5 620.7L157.9 620.6L159.2 620.8L160.6 621.2L161.9 621.6L163.3 622.1L164.7 622.4L166.0 622.6L167.4 622.7L168.7 622.9L170.1 623.3L171.5 623.7L172.8 624.1L174.2 624.4L175.5 624.4L176.9 624.3L178.3 624.0L179.6 623.6L181.0 623.3L182.3 623.1L183.7 623.1L185.1 623.0L186.4 623.0L187.8 622.9L189.1 622.8L190.5 622.6L191.9 622.6L193.2 622.6L194.6 622.8L195.9 623.1L197.3 623.3L198.7 623.5L200.0 623.4L201.4 623.2L202.7 622.9L204.1 622.5L205.5 622.3L206.8 622.2L208.2 622.4L209.5 622.6L210.9 623.0L212.3 623.2L213.6 623.3L215.0 623.2L216.3 622.9L217.7 622.6L219.1 622.3L220.4 622.2L221.8 622.3L223.1 622.7L224.5 623.2L225.9 623.7L227.2 624.2L228.6 624.5L229.9 624.5L231.3 624.5L232.7 624.3L234.0 624.1L235.4 623.8L236.7 623.5L238.1 623.3L239.5 623.0L240.8 622.7L242.2 622.3L243.5 621.9L244.9 621.5L246.3 621.1L247.6 620.7L249.0 620.5L250.3 620.4L251.7 620.5L253.1 620.7L254.4 621.0L255.8 621.1L257.1 621.1L258.5 620.9L259.9 620.6L261.2 620.3L262.6 620.3L263.9 620.5L265.3 621.3L266.7 622.4L268.0 623.7L269.4 624.9L270.7 625.7L272.1 625.9L273.5 625.7L274.8 625.2L276.2 624.9L277.5 625.0L278.9 625.7L280.3 626.9L281.6 628.4L283.0 629.6L284.3 629.7L285.7 628.1L287.1 625.2L288.4 622.0L289.8 619.5L291.1 617.7L292.5 617.1L293.9 617.6L295.2 619.5L296.6 622.6L297.9 625.7L299.3 628.2L300.7 630.1L302.0 630.4L303.4 628.5L304.7 625.4L306.1 621.8L307.5 617.8L308.8 614.1L310.2 611.6L311.5 610.7L312.9 611.2L314.3 613.1L315.6 616.1L317.0 619.7L318.3 623.6L319.7 627.0L321.1 629.1L322.4 629.3L323.8 627.6L325.1 624.7L326.5 621.5L327.9 618.6L329.2 616.5L330.6 615.4L331.9 615.6L333.3 616.8L334.7 618.7L336.0 620.9L337.4 623.0L338.7 624.9L340.1 626.5L341.5 627.5L342.8 627.8L344.2 627.4L345.5 626.4L346.9 624.9L348.3 623.0L349.6 621.0L351.0 619.4L352.3 618.7L353.7 619.1L355.1 620.7L356.4 623.0L357.8 625.7L359.1 628.3L360.5 630.4L361.9 631.7L363.2 632.0L364.6 631.2L365.9 629.4L367.3 627.4L368.7 625.7L370.0 624.5L371.4 624.0L372.7 623.6L374.1 623.2L375.5 622.5L376.8 621.3L378.2 619.7L379.5 617.8L380.9 616.1L382.3 615.0L383.6 614.9L385.0 615.7L386.3 617.5L387.7 619.7L389.1 621.9L390.4 623.5L391.8 624.4L393.1 624.4L394.5 624.0L395.9 623.6L397.2 623.5L398.6 623.5L399.9 623.6L401.3 623.6L402.7 623.3L404.0 622.6L405.4 621.8L406.7 621.2L408.1 621.0L409.5 621.4L410.8 622.2L412.2 623.2L413.5 624.2L414.9 624.8L416.3 625.1L417.6 625.2L419.0 625.1L420.3 624.7L421.7 624.3L423.1 623.8L424.4 622.9L425.8 621.6L427.1 619.9L428.5 618.4L429.9 617.7L431.2 618.3L432.6 620.4L433.9 623.6L435.3 627.2L436.7 630.5L438.0 632.6L439.4 632.8L440.7 631.2L442.1 628.6L443.5 625.7L444.8 623.4L446.2 621.9L447.5 621.1L448.9 620.6L450.3 620.3L451.6 620.2L453.0 620.3L454.3 620.6L455.7 621.2"/>
<path d="M115.7 625.1L117.1 624.9L118.4 624.7L119.8 624.8L121.1 625.0L122.5 625.3L123.9 625.5L125.2 625.6L126.6 625.4L127.9 625.1L129.3 624.7L130.7 624.3L132.0 624.1L133.4 624.2L134.7 624.4L136.1 624.8L137.5 625.1L138.8 625.3L140.2 625.3L141.5 625.1L142.9 624.8L144.3 624.4L145.6 624.0L147.0 623.7L148.3 623.4L149.7 623.1L151.1 622.8L152.4 622.6L153.8 622.4L155.1 622.2L156.5 622.1L157.9 622.0L159.2 621.9L160.6 621.9L161.9 621.9L163.3 622.1L164.7 622.6L166.0 623.2L167.4 624.1L168.7 625.0L170.1 625.7L171.5 626.1L172.8 626.2L174.2 625.9L175.5 625.4L176.9 624.8L178.3 624.4L179.6 624.2L181.0 624.3L182.3 624.5L183.7 624.8L185.1 624.9L186.4 625.0L187.8 624.9L189.1 624.8L190.5 624.7L191.9 624.5L193.2 624.5L194.6 624.4L195.9 624.4L197.3 624.4L198.7 624.5L200.0 624.7L201.4 624.9L202.7 625.1L204.1 625.2L205.5 625.1L206.8 624.9L208.2 624.6L209.5 624.3L210.9 624.1L212.3 624.0L213.6 624.2L215.0 624.3L216.3 624.5L217.7 624.5L219.1 624.4L220.4 624.2L221.8 624.0L223.1 623.9L224.5 624.0L225.9 624.2L227.2 624.5L228.6 624.8L229.9 624.9L231.3 624.8L232.7 624.5L234.0 624.3L235.4 624.0L236.7 623.9L238.1 623.8L239.5 623.7L240.8 623.7L242.2 623.6L243.5 623.5L244.9 623.3L246.3 623.1L247.6 623.1L249.0 623.1L250.3 623.2L251.7 623.4L253.1 623.6L254.4 623.7L255.8 623.8L257.1 623.7L258.5 623.5L259.9 623.2L261.2 623.0L262.6 622.9L263.9 623.0L265.3 623.3L266.7 623.9L268.0 624.8L269.4 625.8L270.7 626.8L272.1 627.8L273.5 628.6L274.8 629.2L276.2 629.6L277.5 629.8L278.9 629.8L280.3 629.6L281.6 629.4L283.0 629.2L284.3 628.5L285.7 626.8L287.1 624.4L288.4 622.0L289.8 620.0L291.1 618.5L292.5 617.7L293.9 617.9L295.2 619.5L296.6 622.3L297.9 625.4L299.3 628.3L300.7 630.6L302.0 631.6L303.4 630.8L304.7 629.0L306.1 626.5L307.5 623.6L308.8 620.6L310.2 618.0L311.5 616.2L312.9 615.3L314.3 615.4L315.6 616.7L317.0 619.1L318.3 622.4L319.7 625.8L321.1 628.3L322.4 628.9L323.8 627.2L325.1 624.0L326.5 620.2L327.9 616.8L329.2 614.7L330.6 614.3L331.9 615.6L333.3 618.2L334.7 621.2L336.0 624.0L337.4 626.2L338.7 627.6L340.1 628.5L341.5 629.2L342.8 629.7L344.2 629.7L345.5 629.4L346.9 628.4L348.3 626.6L349.6 624.2L351.0 621.7L352.3 619.9L353.7 619.2L355.1 619.9L356.4 621.8L357.8 624.3L359.1 626.8L360.5 628.8L361.9 629.9L363.2 630.1L364.6 629.6L365.9 628.7L367.3 628.1L368.7 627.9L370.0 628.1L371.4 628.3L372.7 628.0L374.1 626.9L375.5 625.2L376.8 623.2L378.2 621.3L379.5 619.8L380.9 619.1L382.3 619.1L383.6 619.6L385.0 620.4L386.3 621.3L387.7 622.2L389.1 623.1L390.4 623.8L391.8 624.3L393.1 624.5L394.5 624.5L395.9 624.4L397.2 624.4L398.6 624.4L399.9 624.4L401.3 624.5L402.7 624.4L404.0 623.9L405.4 622.9L406.7 621.6L408.1 620.4L409.5 619.6L410.8 619.4L412.2 620.3L413.5 622.2L414.9 624.7L416.3 627.1L417.6 628.7L419.0 628.9L420.3 627.3L421.7 624.6L423.1 621.7L424.4 619.3L425.8 618.0L427.1 618.2L428.5 619.8L429.9 622.5L431.2 625.8L432.6 628.9L433.9 631.3L435.3 632.7L436.7 633.1L438.0 632.5L439.4 631.0L440.7 628.9L442.1 626.9L443.5 625.2L444.8 624.2L446.2 623.9L447.5 623.9L448.9 623.9L450.3 623.9L451.6 623.8L453.0 623.5L454.3 623.1L455.7 622.5"/>
<path d="M115.7 625.6L117.1 625.8L118.4 626.1L119.8 626.3L121.1 626.5L122.5 626.6L123.9 626.6L125.2 626.5L126.6 626.3L127.9 626.0L129.3 625.8L130.7 625.7L132.0 625.8L133.4 626.1L134.7 626.4L136.1 626.7L137.5 626.9L138.8 626.8L140.2 626.4L141.5 625.9L142.9 625.4L144.3 625.0L145.6 624.8L147.0 624.8L148.3 624.9L149.7 625.0L151.1 624.9L152.4 624.6L153.8 624.3L155.1 623.9L156.5 623.7L157.9 623.7L159.2 623.9L160.6 624.2L161.9 624.5L163.3 624.6L164.7 624.7L166.0 624.7L167.4 625.0L168.7 625.3L170.1 625.9L171.5 626.5L172.8 627.0L174.2 627.3L175.5 627.3L176.9 626.9L178.3 626.5L179.6 626.2L181.0 626.1L182.3 626.1L183.7 626.2L185.1 626.2L186.4 626.1L187.8 625.9L189.1 625.5L190.5 625.2L191.9 625.0L193.2 625.0L194.6 625.2L195.9 625.6L197.3 626.0L198.7 626.3L200.0 626.4L201.4 626.3L202.7 626.2L204.1 626.0L205.5 625.9L206.8 625.9L208.2 625.8L209.5 625.7L210.9 625.6L212.3 625.3L213.6 625.0L215.0 624.7L216.3 624.6L217.7 624.7L219.1 625.0L220.4 625.5L221.8 626.1L223.1 626.6L224.5 626.9L225.9 627.0L227.2 626.9L228.6 626.6L229.9 626.2L231.3 625.9L232.7 625.6L234.0 625.4L235.4 625.3L236.7 625.2L238.1 625.1L239.5 625.0L240.8 624.8L242.2 624.6L243.5 624.5L244.9 624.4L246.3 624.4L247.6 624.5L249.0 624.5L250.3 624.3L251.7 624.0L253.1 623.6L254.4 623.2L255.8 622.8L257.1 622.6L258.5 622.6L259.9 623.0L261.2 623.6L262.6 624.4L263.9 625.3L265.3 626.1L266.7 626.8L268.0 627.4L269.4 627.9L270.7 628.3L272.1 628.6L273.5 628.7L274.8 628.7L276.2 628.5L277.5 628.2L278.9 628.1L280.3 628.1L281.6 628.5L283.0 629.2L284.3 629.8L285.7 629.5L287.1 628.2L288.4 626.1L289.8 623.6L291.1 620.9L292.5 618.5L293.9 617.2L295.2 617.7L296.6 620.3L297.9 623.9L299.3 627.7L300.7 631.0L302.0 632.3L303.4 630.8L304.7 627.5L306.1 623.3L307.5 619.1L308.8 616.1L310.2 615.2L311.5 616.4L312.9 619.3L314.3 622.9L315.6 626.3L317.0 628.9L318.3 630.4L319.7 630.9L321.1 630.5L322.4 629.0L323.8 627.0L325.1 624.8L326.5 623.0L327.9 621.7L329.2 620.8L330.6 620.6L331.9 621.1L333.3 622.4L334.7 624.4L336.0 626.6L337.4 628.6L338.7 629.8L340.1 630.0L341.5 629.3L342.8 627.9L344.2 626.2L345.5 624.9L346.9 624.4L348.3 624.4L349.6 624.6L351.0 624.8L352.3 624.8L353.7 624.4L355.1 623.8L356.4 623.3L357.8 623.3L359.1 624.0L360.5 625.4L361.9 627.1L363.2 628.6L364.6 629.3L365.9 629.1L367.3 628.2L368.7 627.2L370.0 626.5L371.4 626.3L372.7 626.5L374.1 626.8L375.5 626.9L376.8 626.5L378.2 625.4L379.5 623.7L380.9 621.9L382.3 620.5L383.6 619.8L385.0 620.2L386.3 621.6L387.7 623.9L389.1 626.4L390.4 628.4L391.8 629.5L393.1 629.3L394.5 628.3L395.9 626.8L397.2 625.4L398.6 624.6L399.9 624.7L401.3 625.6L402.7 627.0L404.0 628.3L405.4 628.8L406.7 628.2L408.1 626.7L409.5 624.6L410.8 622.3L412.2 620.7L413.5 620.2L414.9 620.8L416.3 622.2L417.6 623.9L419.0 625.3L420.3 625.8L421.7 625.7L423.1 625.1L424.4 624.4L425.8 623.7L427.1 623.2L428.5 622.9L429.9 623.0L431.2 623.7L432.6 624.9L433.9 626.7L435.3 629.0L436.7 631.5L438.0 633.6L439.4 634.6L440.7 634.2L442.1 632.7L443.5 630.2L444.8 627.6L446.2 625.4L447.5 623.8L448.9 623.0L450.3 623.0L451.6 623.6L453.0 624.5L454.3 625.1L455.7 625.2"/>
<path d="M115.7 627.7L117.1 627.7L118.4 627.8L119.8 627.7L121.1 627.6L122.5 627.3L123.9 626.9L125.2 626.5L126.6 626.3L127.9 626.3L129.3 626.4L130.7 626.8L132.0 627.2L133.4 627.6L134.7 627.9L136.1 628.0L137.5 628.0L138.8 627.8L140.2 627.6L141.5 627.2L142.9 626.9L144.3 626.5L145.6 626.1L147.0 625.8L148.3 625.6L149.7 625.5L151.1 625.5L152.4 625.5L153.8 625.5L155.1 625.4L156.5 625.2L157.9 625.0L159.2 624.8L160.6 624.8L161.9 624.9L163.3 625.3L164.7 625.9L166.0 626.6L167.4 627.3L168.7 627.8L170.1 628.1L171.5 628.2L172.8 628.1L174.2 627.8L175.5 627.4L176.9 627.1L178.3 627.0L179.6 626.9L181.0 627.0L182.3 627.1L183.7 627.2L185.1 627.2L186.4 627.2L187.8 627.1L189.1 627.1L190.5 627.2L191.9 627.4L193.2 627.6L194.6 627.8L195.9 627.9L197.3 627.8L198.7 627.6L200.0 627.3L201.4 627.1L202.7 627.0L204.1 627.1L205.5 627.3L206.8 627.5L208.2 627.6L209.5 627.4L210.9 627.1L212.3 626.5L213.6 626.0L215.0 625.7L216.3 625.7L217.7 626.0L219.1 626.4L220.4 626.9L221.8 627.3L223.1 627.5L224.5 627.5L225.9 627.5L227.2 627.4L228.6 627.3L229.9 627.4L231.3 627.5L232.7 627.5L234.0 627.4L235.4 627.2L236.7 626.9L238.1 626.6L239.5 626.4L240.8 626.3L242.2 626.4L243.5 626.4L244.9 626.4L246.3 626.2L247.6 625.8L249.0 625.2L250.3 624.6L251.7 624.2L253.1 623.8L254.4 623.7L255.8 623.8L257.1 624.0L258.5 624.3L259.9 624.7L261.2 625.1L262.6 625.7L263.9 626.3L265.3 626.9L266.7 627.5L268.0 627.9L269.4 628.2L270.7 628.4L272.1 628.4L273.5 628.6L274.8 628.9L276.2 629.3L277.5 629.7L278.9 630.1L280.3 630.3L281.6 630.2L283.0 629.9L284.3 629.3L285.7 628.2L287.1 627.0L288.4 626.2L289.8 626.0L291.1 626.2L292.5 626.6L293.9 627.2L295.2 628.2L296.6 629.6L297.9 630.7L299.3 631.4L300.7 631.5L302.0 630.7L303.4 628.6L304.7 626.1L306.1 623.6L307.5 621.5L308.8 619.9L310.2 619.3L311.5 619.6L312.9 620.5L314.3 621.8L315.6 623.3L317.0 624.8L318.3 626.4L319.7 627.8L321.1 628.6L322.4 628.4L323.8 627.1L325.1 625.2L326.5 623.3L327.9 621.8L329.2 620.9L330.6 620.8L331.9 621.7L333.3 623.4L334.7 625.5L336.0 627.6L337.4 629.4L338.7 630.9L340.1 631.9L341.5 632.6L342.8 632.7L344.2 632.3L345.5 631.4L346.9 630.1L348.3 628.2L349.6 625.9L351.0 623.5L352.3 621.7L353.7 620.6L355.1 620.7L356.4 621.6L357.8 623.4L359.1 625.7L360.5 628.0L361.9 630.0L363.2 631.3L364.6 631.6L365.9 631.3L367.3 630.7L368.7 630.4L370.0 630.3L371.4 630.5L372.7 630.4L374.1 629.8L375.5 628.6L376.8 626.8L378.2 624.9L379.5 623.1L380.9 621.9L382.3 621.6L383.6 622.0L385.0 623.2L386.3 624.8L387.7 626.5L389.1 627.8L390.4 628.6L391.8 628.7L393.1 627.9L394.5 626.8L395.9 625.7L397.2 624.9L398.6 624.5L399.9 624.7L401.3 625.3L402.7 626.3L404.0 627.3L405.4 627.8L406.7 627.7L408.1 627.1L409.5 626.0L410.8 624.6L412.2 623.4L413.5 623.0L414.9 623.4L416.3 624.6L417.6 626.1L419.0 627.4L420.3 627.7L421.7 627.0L423.1 625.7L424.4 623.9L425.8 622.1L427.1 620.8L428.5 620.4L429.9 621.4L431.2 623.8L432.6 627.4L433.9 631.7L435.3 635.9L436.7 639.5L438.0 641.6L439.4 641.6L440.7 639.7L442.1 636.6L443.5 632.9L444.8 629.7L446.2 627.3L447.5 625.5L448.9 624.1L450.3 623.2L451.6 622.5L453.0 622.1L454.3 621.7L455.7 621.3"/>
<path d="M115.7 628.9L117.1 629.0L118.4 629.0L119.8 628.9L121.1 628.8L122.5 628.8L123.9 628.9L125.2 629.0L126.6 629.0L127.9 629.0L129.3 628.9L130.7 628.7L132.0 628.6L133.4 628.4L134.7 628.3L136.1 628.3L137.5 628.4L138.8 628.4L140.2 628.4L141.5 628.3L142.9 628.2L144.3 628.0L145.6 627.8L147.0 627.5L148.3 627.1L149.7 626.8L151.1 626.4L152.4 626.1L153.8 625.9L155.1 625.8L156.5 625.9L157.9 626.0L159.2 626.2L160.6 626.4L161.9 626.6L163.3 626.9L164.7 627.3L166.0 627.7L167.4 628.1L168.7 628.4L170.1 628.7L171.5 628.8L172.8 628.9L174.2 628.9L175.5 629.0L176.9 629.0L178.3 629.1L179.6 629.1L181.0 629.1L182.3 628.9L183.7 628.7L185.1 628.4L186.4 628.2L187.8 628.0L189.1 627.9L190.5 627.9L191.9 627.9L193.2 628.0L194.6 628.0L195.9 628.0L197.3 627.9L198.7 627.9L200.0 627.8L201.4 627.8L202.7 627.9L204.1 627.9L205.5 628.0L206.8 628.2L208.2 628.4L209.5 628.6L210.9 628.9L212.3 629.1L213.6 629.2L215.0 629.2L216.3 629.0L217.7 628.7L219.1 628.5L220.4 628.3L221.8 628.3L223.1 628.4L224.5 628.5L225.9 628.5L227.2 628.4L228.6 628.2L229.9 627.9L231.3 627.8L232.7 627.9L234.0 628.1L235.4 628.4L236.7 628.6L238.1 628.7L239.5 628.4L240.8 627.9L242.2 627.2L243.5 626.4L244.9 625.9L246.3 625.5L247.6 625.3L249.0 625.3L250.3 625.3L251.7 625.3L253.1 625.3L254.4 625.2L255.8 625.2L257.1 625.3L258.5 625.5L259.9 625.7L261.2 626.1L262.6 626.5L263.9 626.9L265.3 627.4L266.7 628.0L268.0 628.8L269.4 629.7L270.7 630.7L272.1 631.9L273.5 632.9L274.8 633.8L276.2 634.4L277.5 634.4L278.9 633.9L280.3 632.9L281.6 631.6L283.0 630.1L284.3 628.4L285.7 626.3L287.1 624.2L288.4 622.9L289.8 622.8L291.1 623.4L292.5 624.6L293.9 626.3L295.2 628.7L296.6 631.6L297.9 633.8L299.3 635.4L300.7 636.0L302.0 635.2L303.4 632.8L304.7 629.6L306.1 626.2L307.5 622.8L308.8 620.1L310.2 618.5L311.5 618.3L312.9 619.4L314.3 621.6L315.6 624.4L317.0 627.6L318.3 630.7L319.7 633.3L321.1 634.9L322.4 634.8L323.8 633.4L325.1 630.9L326.5 628.2L327.9 625.6L329.2 623.5L330.6 622.2L331.9 621.9L333.3 622.6L334.7 624.3L336.0 626.6L337.4 629.2L338.7 631.7L340.1 633.5L341.5 634.4L342.8 633.9L344.2 632.0L345.5 629.4L346.9 626.6L348.3 624.1L349.6 622.3L351.0 621.6L352.3 622.2L353.7 623.9L355.1 626.1L356.4 628.4L357.8 630.6L359.1 632.7L360.5 634.9L361.9 636.8L363.2 638.3L364.6 638.7L365.9 637.7L367.3 635.9L368.7 633.7L370.0 631.8L371.4 630.4L372.7 629.4L374.1 628.7L375.5 628.1L376.8 627.1L378.2 625.4L379.5 622.9L380.9 620.2L382.3 617.7L383.6 616.2L385.0 616.3L386.3 618.3L387.7 621.7L389.1 625.7L390.4 629.2L391.8 631.1L393.1 630.9L394.5 629.1L395.9 626.4L397.2 623.8L398.6 622.2L399.9 622.3L401.3 624.0L402.7 626.8L404.0 629.5L405.4 630.9L406.7 630.6L408.1 628.8L409.5 626.0L410.8 623.1L412.2 621.5L413.5 621.9L414.9 624.0L416.3 627.1L417.6 630.1L419.0 631.6L420.3 630.8L421.7 628.3L423.1 625.2L424.4 622.7L425.8 621.1L427.1 620.9L428.5 622.1L429.9 624.6L431.2 627.9L432.6 631.3L433.9 634.4L435.3 636.8L436.7 638.4L438.0 639.1L439.4 638.6L440.7 637.2L442.1 635.3L443.5 633.2L444.8 631.2L446.2 629.3L447.5 627.4L448.9 625.4L450.3 623.5L451.6 622.0L453.0 621.2L454.3 621.0L455.7 621.5"/>
<path d="M115.7 632.5L117.1 632.9L118.4 632.9L119.8 632.5L121.1 632.0L122.5 631.5L123.9 631.2L125.2 631.2L126.6 631.4L127.9 631.8L129.3 632.1L130.7 632.2L132.0 632.2L133.4 632.1L134.7 632.0L136.1 631.9L137.5 631.8L138.8 631.9L140.2 631.9L141.5 631.7L142.9 631.5L144.3 631.0L145.6 630.5L147.0 630.0L148.3 629.7L149.7 629.6L151.1 629.6L152.4 629.9L153.8 630.1L155.1 630.3L156.5 630.4L157.9 630.4L159.2 630.4L160.6 630.4L161.9 630.4L163.3 630.6L164.7 630.8L166.0 631.0L167.4 631.2L168.7 631.3L170.1 631.2L171.5 631.2L172.8 631.2L174.2 631.4L175.5 631.7L176.9 632.1L178.3 632.4L179.6 632.7L181.0 632.8L182.3 632.6L183.7 632.1L185.1 631.4L186.4 630.7L187.8 630.1L189.1 629.8L190.5 629.7L191.9 630.0L193.2 630.5L194.6 631.1L195.9 631.7L197.3 632.1L198.7 632.3L200.0 632.2L201.4 631.9L202.7 631.5L204.1 631.1L205.5 630.9L206.8 630.9L208.2 631.1L209.5 631.4L210.9 631.6L212.3 631.6L213.6 631.5L215.0 631.2L216.3 630.9L217.7 630.6L219.1 630.5L220.4 630.6L221.8 630.8L223.1 631.1L224.5 631.3L225.9 631.5L227.2 631.5L228.6 631.4L229.9 631.4L231.3 631.5L232.7 631.7L234.0 632.0L235.4 632.1L236.7 632.0L238.1 631.7L239.5 631.2L240.8 630.5L242.2 630.0L243.5 629.8L244.9 629.8L246.3 630.1L247.6 630.4L249.0 630.6L250.3 630.6L251.7 630.3L253.1 629.9L254.4 629.4L255.8 629.0L257.1 628.9L258.5 629.1L259.9 629.4L261.2 629.8L262.6 630.1L263.9 630.3L265.3 630.4L266.7 630.6L268.0 630.9L269.4 631.4L270.7 632.2L272.1 633.2L273.5 634.2L274.8 635.2L276.2 636.0L277.5 636.6L278.9 637.1L280.3 637.3L281.6 637.3L283.0 637.0L284.3 636.2L285.7 634.3L287.1 631.7L288.4 629.1L289.8 627.0L291.1 625.6L292.5 625.0L293.9 625.4L295.2 626.8L296.6 629.0L297.9 630.9L299.3 632.4L300.7 633.2L302.0 633.3L303.4 632.4L304.7 631.4L306.1 630.5L307.5 629.6L308.8 628.9L310.2 628.5L311.5 628.2L312.9 628.1L314.3 628.2L315.6 628.6L317.0 629.5L318.3 630.9L319.7 632.6L321.1 634.2L322.4 634.9L323.8 634.4L325.1 632.8L326.5 630.8L327.9 628.5L329.2 626.6L330.6 625.2L331.9 624.7L333.3 625.3L334.7 626.8L336.0 628.8L337.4 631.0L338.7 633.1L340.1 634.7L341.5 635.5L342.8 635.4L344.2 634.1L345.5 632.4L346.9 630.6L348.3 629.0L349.6 627.9L351.0 627.6L352.3 628.1L353.7 629.2L355.1 630.6L356.4 631.9L357.8 633.1L359.1 634.3L360.5 635.6L361.9 636.9L363.2 638.2L364.6 638.9L365.9 638.7L367.3 637.9L368.7 636.7L370.0 635.2L371.4 633.8L372.7 632.5L374.1 631.2L375.5 630.0L376.8 628.8L378.2 627.2L379.5 625.4L380.9 623.7L382.3 622.4L383.6 622.1L385.0 623.0L386.3 625.2L387.7 628.2L389.1 631.1L390.4 633.1L391.8 633.5L393.1 632.2L394.5 629.7L395.9 627.2L397.2 625.5L398.6 625.2L399.9 626.4L401.3 628.6L402.7 631.0L404.0 632.6L405.4 632.6L406.7 631.0L408.1 628.5L409.5 625.7L410.8 623.4L412.2 622.5L413.5 623.4L414.9 625.6L416.3 628.5L417.6 631.4L419.0 633.6L420.3 634.8L421.7 635.0L423.1 634.7L424.4 634.1L425.8 633.3L427.1 632.4L428.5 631.8L429.9 631.5L431.2 631.8L432.6 632.7L433.9 633.9L435.3 635.3L436.7 636.5L438.0 637.2L439.4 637.1L440.7 636.4L442.1 635.1L443.5 633.5L444.8 632.0L446.2 630.7L447.5 629.5L448.9 628.3L450.3 627.2L451.6 626.6L453.0 626.4L454.3 626.8L455.7 627.6"/>
<path d="M115.7 637.1L117.1 637.1L118.4 637.1L119.8 637.2L121.1 637.3L122.5 637.5L123.9 637.6L125.2 637.7L126.6 637.7L127.9 637.7L129.3 637.6L130.7 637.6L132.0 637.5L133.4 637.5L134.7 637.5L136.1 637.7L137.5 637.8L138.8 638.0L140.2 638.1L141.5 638.1L142.9 637.9L144.3 637.5L145.6 637.0L147.0 636.6L148.3 636.2L149.7 636.0L151.1 636.1L152.4 636.2L153.8 636.5L155.1 636.8L156.5 637.0L157.9 637.0L159.2 637.0L160.6 636.9L161.9 636.8L163.3 636.7L164.7 636.7L166.0 636.7L167.4 636.7L168.7 636.8L170.1 637.1L171.5 637.4L172.8 637.7L174.2 638.0L175.5 638.1L176.9 638.0L178.3 637.7L179.6 637.4L181.0 637.2L182.3 637.0L183.7 637.1L185.1 637.3L186.4 637.6L187.8 637.7L189.1 637.7L190.5 637.4L191.9 636.9L193.2 636.4L194.6 636.2L195.9 636.2L197.3 636.5L198.7 637.1L200.0 637.6L201.4 638.1L202.7 638.2L204.1 637.9L205.5 637.4L206.8 636.7L208.2 636.2L209.5 635.9L210.9 635.8L212.3 636.0L213.6 636.3L215.0 636.7L216.3 637.0L217.7 637.3L219.1 637.4L220.4 637.5L221.8 637.7L223.1 637.8L224.5 637.9L225.9 637.9L227.2 637.8L228.6 637.6L229.9 637.2L231.3 636.9L232.7 636.7L234.0 636.6L235.4 636.8L236.7 637.0L238.1 637.3L239.5 637.4L240.8 637.3L242.2 636.9L243.5 636.3L244.9 635.7L246.3 635.3L247.6 635.0L249.0 635.1L250.3 635.4L251.7 635.8L253.1 636.2L254.4 636.4L255.8 636.4L257.1 636.3L258.5 636.2L259.9 636.2L261.2 636.4L262.6 636.8L263.9 637.3L265.3 637.7L266.7 638.0L268.0 638.1L269.4 638.1L270.7 638.1L272.1 638.2L273.5 638.7L274.8 639.4L276.2 640.2L277.5 640.8L278.9 641.0L280.3 640.6L281.6 639.8L283.0 638.7L284.3 637.5L285.7 636.3L287.1 635.2L288.4 634.4L289.8 634.0L291.1 633.7L292.5 633.3L293.9 633.3L295.2 633.9L296.6 635.5L297.9 637.4L299.3 639.4L300.7 641.0L302.0 641.6L303.4 640.6L304.7 638.7L306.1 636.4L307.5 633.9L308.8 631.8L310.2 630.5L311.5 630.1L312.9 630.4L314.3 631.3L315.6 632.6L317.0 634.4L318.3 636.5L319.7 638.7L321.1 640.5L322.4 641.4L323.8 641.1L325.1 639.8L326.5 637.9L327.9 636.0L329.2 634.5L330.6 633.6L331.9 633.6L333.3 634.4L334.7 635.6L336.0 636.9L337.4 637.9L338.7 638.6L340.1 639.0L341.5 639.2L342.8 639.4L344.2 639.6L345.5 639.8L346.9 639.9L348.3 639.5L349.6 638.6L351.0 637.1L352.3 635.4L353.7 633.9L355.1 633.0L356.4 633.1L357.8 634.5L359.1 637.0L360.5 640.2L361.9 643.4L363.2 645.6L364.6 646.1L365.9 644.7L367.3 641.9L368.7 638.6L370.0 635.7L371.4 633.9L372.7 633.4L374.1 633.9L375.5 634.9L376.8 635.7L378.2 635.8L379.5 634.9L380.9 633.7L382.3 632.5L383.6 632.2L385.0 632.9L386.3 634.7L387.7 636.9L389.1 638.8L390.4 639.7L391.8 639.2L393.1 637.4L394.5 635.0L395.9 633.0L397.2 632.1L398.6 632.6L399.9 634.5L401.3 637.1L402.7 639.6L404.0 641.2L405.4 641.4L406.7 640.3L408.1 638.6L409.5 636.8L410.8 635.5L412.2 635.2L413.5 635.8L414.9 636.8L416.3 637.6L417.6 637.7L419.0 636.9L420.3 635.3L421.7 633.7L423.1 632.6L424.4 632.6L425.8 633.6L427.1 635.3L428.5 637.3L429.9 639.1L431.2 640.2L432.6 640.7L433.9 640.7L435.3 640.5L436.7 640.4L438.0 640.7L439.4 641.1L440.7 641.4L442.1 641.5L443.5 641.4L444.8 641.0L446.2 640.3L447.5 639.3L448.9 637.9L450.3 636.1L451.6 634.2L453.0 632.2L454.3 630.5L455.7 629.4"/>
<path d="M115.7 184.5L117.1 184.5L118.4 184.4L119.8 184.3L121.1 184.2L122.5 184.1L123.9 183.9L125.2 183.8L126.6 183.7L127.9 183.6L129.3 183.5L130.7 183.5L132.0 183.5L133.4 183.6L134.7 183.7L136.1 183.8L137.5 184.0L138.8 184.0L140.2 184.1L141.5 184.1L142.9 184.0L144.3 183.9L145.6 183.8L147.0 183.6L148.3 183.4L149.7 183.2L151.1 183.0L152.4 182.8L153.8 182.7L155.1 182.6L156.5 182.5L157.9 182.5L159.2 182.6L160.6 182.8L161.9 183.0L163.3 183.3L164.7 183.6L166.0 183.9L167.4 184.2L168.7 184.5L170.1 184.7L171.5 184.8L172.8 184.8L174.2 184.8L175.5 184.7L176.9 184.5L178.3 184.3L179.6 184.1L181.0 183.9L182.3 183.7L183.7 183.5L185.1 183.4L186.4 183.4L187.8 183.3L189.1 183.4L190.5 183.4L191.9 183.5L193.2 183.6L194.6 183.8L195.9 183.9L197.3 184.1L198.7 184.3L200.0 184.4L201.4 184.6L202.7 184.8L204.1 184.9L205.5 185.0L206.8 185.0L208.2 185.0L209.5 185.0L210.9 184.9L212.3 184.7L213.6 184.4L215.0 184.0L216.3 183.6L217.7 183.3L219.1 182.9L220.4 182.6L221.8 182.3L223.1 182.1L224.5 182.1L225.9 182.2L227.2 182.4L228.6 182.6L229.9 183.0L231.3 183.3L232.7 183.7L234.0 184.0L235.4 184.3L236.7 184.6L238.1 184.7L239.5 184.8L240.8 184.7L242.2 184.6L243.5 184.4L244.9 184.2L246.3 184.0L247.6 183.7L249.0 183.4L250.3 183.1L251.7 182.9L253.1 182.6L254.4 182.4L255.8 182.3L257.1 182.2L258.5 182.2L259.9 182.2L261.2 182.3L262.6 182.5L263.9 182.8L265.3 183.2L266.7 183.6L268.0 184.1L269.4 184.5L270.7 185.0L272.1 185.4L273.5 185.7L274.8 185.9L276.2 186.0L277.5 186.0L278.9 186.0L280.3 186.0L281.6 185.9L283.0 185.7L284.3 185.1L285.7 184.1L287.1 182.9L288.4 181.6L289.8 180.5L291.1 179.8L292.5 179.5L293.9 179.8L295.2 180.8L296.6 182.2L297.9 184.0L299.3 185.9L300.7 187.8L302.0 189.1L303.4 189.5L304.7 188.9L306.1 187.3L307.5 185.1L308.8 182.5L310.2 179.9L311.5 177.8L312.9 176.7L314.3 177.1L315.6 178.9L317.0 181.4L318.3 184.2L319.7 186.8L321.1 188.8L322.4 189.9L323.8 189.8L325.1 188.5L326.5 186.5L327.9 184.1L329.2 181.7L330.6 179.7L331.9 178.2L333.3 177.6L334.7 178.1L336.0 179.4L337.4 181.2L338.7 183.1L340.1 184.8L341.5 186.1L342.8 187.0L344.2 187.2L345.5 186.7L346.9 185.6L348.3 184.2L349.6 182.4L351.0 180.7L352.3 179.2L353.7 178.5L355.1 178.8L356.4 180.3L357.8 182.5L359.1 185.2L360.5 187.8L361.9 190.1L363.2 191.8L364.6 192.4L365.9 191.9L367.3 190.3L368.7 188.2L370.0 186.1L371.4 184.3L372.7 183.0L374.1 182.1L375.5 181.7L376.8 181.8L378.2 182.2L379.5 182.6L380.9 182.6L382.3 182.1L383.6 181.2L385.0 180.4L386.3 180.2L387.7 180.7L389.1 181.9L390.4 183.3L391.8 184.6L393.1 185.3L394.5 185.2L395.9 184.3L397.2 183.0L398.6 181.8L399.9 181.1L401.3 181.3L402.7 182.3L404.0 183.4L405.4 184.1L406.7 183.9L408.1 182.7L409.5 180.8L410.8 179.1L412.2 178.0L413.5 178.3L414.9 180.0L416.3 182.4L417.6 185.0L419.0 187.3L420.3 188.5L421.7 188.2L423.1 186.7L424.4 184.6L425.8 182.3L427.1 180.5L428.5 179.8L429.9 180.3L431.2 182.0L432.6 184.4L433.9 187.3L435.3 190.3L436.7 193.0L438.0 194.9L439.4 195.6L440.7 194.8L442.1 192.9L443.5 190.3L444.8 187.6L446.2 185.1L447.5 183.0L448.9 181.4L450.3 180.3L451.6 179.6L453.0 179.2L454.3 178.9L455.7 178.7"/>
<path d="M115.7 749.7L117.1 749.3L118.4 748.9L119.8 748.5L121.1 748.5L122.5 748.9L123.9 749.5L125.2 750.3L126.6 751.2L127.9 752.1L129.3 752.9L130.7 753.6L132.0 754.1L133.4 754.5L134.7 754.6L136.1 754.5L137.5 754.2L138.8 753.6L140.2 752.8L141.5 752.0L142.9 751.3L144.3 750.7L145.6 750.5L147.0 750.8L148.3 751.5L149.7 752.4L151.1 753.3L152.4 753.9L153.8 754.1L155.1 753.7L156.5 752.7L157.9 751.4L159.2 749.9L160.6 748.5L161.9 747.3L163.3 746.5L164.7 746.2L166.0 746.5L167.4 747.1L168.7 748.0L170.1 749.0L171.5 749.8L172.8 750.4L174.2 750.5L175.5 750.4L176.9 750.1L178.3 749.8L179.6 749.6L181.0 749.8L182.3 750.3L183.7 751.1L185.1 752.0L186.4 752.9L187.8 753.6L189.1 754.2L190.5 754.5L191.9 754.5L193.2 754.4L194.6 754.0L195.9 753.5L197.3 752.8L198.7 752.1L200.0 751.3L201.4 750.6L202.7 749.9L204.1 749.4L205.5 749.1L206.8 749.0L208.2 749.3L209.5 749.9L210.9 750.7L212.3 751.7L213.6 752.6L215.0 753.4L216.3 754.0L217.7 754.4L219.1 754.4L220.4 754.3L221.8 753.9L223.1 753.5L224.5 752.9L225.9 752.3L227.2 751.7L228.6 751.2L229.9 750.7L231.3 750.1L232.7 749.7L234.0 749.2L235.4 748.7L236.7 748.2L238.1 747.8L239.5 747.4L240.8 747.2L242.2 747.1L243.5 747.2L244.9 747.5L246.3 747.9L247.6 748.4L249.0 748.9L250.3 749.4L251.7 749.6L253.1 749.7L254.4 749.5L255.8 749.2L257.1 748.8L258.5 748.5L259.9 748.5L261.2 748.7L262.6 749.2L263.9 750.0L265.3 750.9L266.7 752.0L268.0 753.2L269.4 754.3L270.7 755.4L272.1 756.5L273.5 757.4L274.8 758.1L276.2 758.7L277.5 759.0L278.9 759.0L280.3 758.7L281.6 758.0L283.0 756.8L284.3 755.1L285.7 752.9L287.1 750.4L288.4 748.0L289.8 746.0L291.1 744.6L292.5 743.9L293.9 744.2L295.2 745.2L296.6 746.8L297.9 748.7L299.3 750.4L300.7 751.8L302.0 752.4L303.4 752.0L304.7 750.6L306.1 748.6L307.5 746.2L308.8 743.9L310.2 742.4L311.5 742.1L312.9 743.6L314.3 746.2L315.6 749.5L317.0 752.9L318.3 755.8L319.7 758.1L321.1 759.6L322.4 759.9L323.8 759.0L325.1 757.1L326.5 754.6L327.9 751.8L329.2 749.2L330.6 747.1L331.9 745.9L333.3 746.0L334.7 747.3L336.0 749.4L337.4 751.7L338.7 753.8L340.1 755.3L341.5 756.1L342.8 755.8L344.2 754.7L345.5 752.8L346.9 750.5L348.3 748.1L349.6 745.9L351.0 744.0L352.3 742.8L353.7 742.5L355.1 743.2L356.4 744.9L357.8 747.3L359.1 749.9L360.5 752.5L361.9 754.9L363.2 756.8L364.6 758.3L365.9 759.1L367.3 759.3L368.7 758.7L370.0 757.8L371.4 756.8L372.7 756.0L374.1 755.3L375.5 754.5L376.8 753.2L378.2 751.4L379.5 749.2L380.9 746.8L382.3 744.7L383.6 743.6L385.0 743.9L386.3 745.7L387.7 748.3L389.1 751.1L390.4 753.4L391.8 754.1L393.1 752.8L394.5 750.6L395.9 748.8L397.2 748.0L398.6 748.1L399.9 749.3L401.3 750.9L402.7 752.3L404.0 752.8L405.4 752.0L406.7 750.2L408.1 747.8L409.5 745.3L410.8 743.4L412.2 742.6L413.5 743.5L414.9 745.6L416.3 748.1L417.6 750.4L419.0 752.2L420.3 753.1L421.7 753.0L423.1 752.0L424.4 750.5L425.8 748.9L427.1 747.9L428.5 747.6L429.9 748.6L431.2 750.4L432.6 752.9L433.9 755.7L435.3 758.5L436.7 760.8L438.0 762.3L439.4 762.5L440.7 761.2L442.1 759.0L443.5 756.4L444.8 754.0L446.2 752.2L447.5 751.1L448.9 750.3L450.3 749.7L451.6 748.9L453.0 748.1L454.3 747.3L455.7 746.8"/>
</g>
<g fill="none" stroke="#000" stroke-width="1.3" stroke-linecap="butt">
<rect x="115.7" y="155.6" width="340.0" height="623.7"/>
<path d="M183.7 155.6v6.3M183.7 779.3v-6.3"/>
<path d="M251.7 155.6v6.3M251.7 779.3v-6.3"/>
<path d="M319.7 155.6v6.3M319.7 779.3v-6.3"/>
<path d="M387.7 155.6v6.3M387.7 779.3v-6.3"/>
<path d="M115.7 719.5h6.3M455.7 719.5h-6.3"/>
<path d="M115.7 621.0h6.3M455.7 621.0h-6.3"/>
<path d="M115.7 522.5h6.3M455.7 522.5h-6.3"/>
<path d="M115.7 424.1h6.3M455.7 424.1h-6.3"/>
<path d="M115.7 325.6h6.3M455.7 325.6h-6.3"/>
<path d="M115.7 227.2h6.3M455.7 227.2h-6.3"/>
</g>
<g font-family="'Liberation Sans', sans-serif" font-size="18.9px" fill="#000" stroke="#000" stroke-width="0.3">
<text x="112.8" y="807.5" text-anchor="middle">-20</text>
<text x="180.8" y="807.5" text-anchor="middle">-10</text>
<text x="251.5" y="807.5" text-anchor="middle">0</text>
<text x="319.5" y="807.5" text-anchor="middle">10</text>
<text x="387.5" y="807.5" text-anchor="middle">20</text>
<text x="455.5" y="807.5" text-anchor="middle">30</text>
<text x="107.8" y="727.2" text-anchor="end">51</text>
<text x="107.8" y="628.8" text-anchor="end">52</text>
<text x="107.8" y="530.3" text-anchor="end">53</text>
<text x="107.8" y="431.9" text-anchor="end">54</text>
<text x="107.8" y="333.4" text-anchor="end">55</text>
<text x="107.8" y="235.0" text-anchor="end">56</text>
<text x="281.9" y="835.7" text-anchor="middle">Time relative to P (sec)</text>
<text transform="translate(71.2 469.9) rotate(-90)" text-anchor="middle">Distance (deg)</text>
</g>
<clipPath id="clip0"><rect x="553.4" y="98.9" width="271.7" height="260.5"/></clipPath>
<g clip-path="url(#clip0)" fill="none" stroke="#000" stroke-width="1.35" stroke-linejoin="round" stroke-linecap="round">
<path d="M587.4 99.3L588.4 102.9L584.3 106.0L585.3 109.0L589.4 112.7L593.6 114.7L597.7 114.2L600.2 110.6L601.8 108.0L603.3 111.6L606.9 115.7L610.5 117.8L608.5 121.9L610.5 125.5L613.1 124.0L618.3 117.8L619.8 120.9L619.6 123.7L617.7 126.9L619.1 130.2L622.8 131.5L629.7 130.2L632.0 132.5L627.0 132.5L622.8 135.2L627.0 137.1L628.8 141.2L631.6 144.5L635.3 144.9L638.5 147.3L635.3 146.3L634.3 151.4L631.6 154.6L635.3 156.0L637.6 160.6L639.0 165.3L638.5 169.9L638.0 174.5L636.2 171.7L633.0 173.6L629.7 177.3L626.5 181.0L627.0 183.7L623.7 185.6L622.3 181.9L624.6 177.3L627.0 173.6L630.2 170.3L631.1 167.1L629.7 163.9L627.9 163.0L625.6 165.3L619.6 162.0L614.0 162.0L606.6 162.0L602.0 160.6L595.5 158.3L589.9 155.4L586.9 158.5L586.3 163.7L588.4 168.8L591.5 174.0L594.6 180.2L596.1 185.3L596.6 189.2L598.0 194.2L599.9 197.0L601.7 194.7L603.1 197.9L601.2 201.6L600.8 204.4L604.9 204.4L605.0 208.1L604.6 213.0L603.2 212.4L602.8 208.8L600.9 208.3L600.8 214.5L603.1 217.3L607.7 217.8L612.3 217.8L616.5 220.1L618.8 221.5L616.9 222.9L614.2 221.0L609.5 221.5L604.9 221.9L603.1 225.6L603.5 233.0L604.9 235.3L604.0 238.1L604.9 240.9L603.5 245.9L603.1 251.5L602.8 258.2L601.1 261.4L600.9 274.1L601.1 279.1L600.5 288.0L598.6 296.9L597.3 300.1L599.5 303.0L596.9 305.2L594.1 309.6L593.1 314.7L591.9 319.2L592.2 323.6L593.8 328.7L594.1 336.3L596.0 341.4L598.2 346.5L599.0 352.8L600.7 359.2"/>
<path d="M568.3 99.3L569.9 104.4L575.0 109.0L581.2 114.7L582.2 119.4L585.3 123.0L591.5 126.6L596.5 126.9L602.0 130.2L606.6 134.8L609.9 141.2L611.7 146.8L614.5 148.6L615.9 152.3L614.0 156.0L611.2 157.9L604.8 156.5L599.2 154.2L593.7 149.8L590.5 150.3L585.3 147.7L586.9 143.6L582.2 145.7L578.6 143.6L578.1 141.0L581.7 137.9L578.6 136.9L574.0 137.9L568.3 138.9L564.2 136.3L569.4 134.8L568.8 132.7L564.2 129.6L560.1 129.1L557.0 126.3L553.4 125.5"/>
<path d="M553.4 120.6L558.0 117.8L554.6 118.6"/>
</g>
<g stroke="#9e9e9e" stroke-width="1.1" stroke-linejoin="miter">
<path d="M597.1 190.3L604.6 177.4L612.1 190.3Z" fill="#6464d2"/>
<path d="M645.9 209.6L653.4 196.7L660.9 209.6Z" fill="#ebebff"/>
<path d="M657.4 207.0L659.9 209.5L657.9 209.5Z" fill="#0c0c96" stroke="none"/>
<path d="M640.8 205.1L648.3 192.2L655.8 205.1Z" fill="#ffffff"/>
<path d="M642.1 208.6L649.6 195.7L657.1 208.6Z" fill="#a0a0f0"/>
<path d="M638.0 209.9L645.5 197.0L653.0 209.9Z" fill="#6060d0"/>
<path d="M632.8 209.5L640.3 196.6L647.8 209.5Z" fill="#ffdcdc"/>
<path d="M639.1 208.2L646.6 195.3L654.1 208.2Z" fill="#c8c8ff"/>
<path d="M633.2 202.3L640.7 189.4L648.2 202.3Z" fill="#9696ee"/>
<path d="M637.1 202.5L644.6 189.6L652.1 202.5Z" fill="#ffecec"/>
<path d="M630.3 226.2L637.8 213.3L645.3 226.2Z" fill="#dcdcff"/>
<path d="M631.8 225.2L639.3 212.3L646.8 225.2Z" fill="#d0d0ff"/>
<path d="M640.7 248.3L648.2 235.4L655.7 248.3Z" fill="#c4c4ff"/>
<path d="M646.7 248.3L654.2 235.4L661.7 248.3Z" fill="#ececff"/>
<path d="M643.4 250.6L650.9 237.7L658.4 250.6Z" fill="#a0a0f0"/>
<path d="M637.0 284.6L644.5 271.7L652.0 284.6Z" fill="#b0b0ff"/>
<path d="M643.9 284.2L651.4 271.3L658.9 284.2Z" fill="#ffdede"/>
<path d="M640.6 289.2L648.1 276.3L655.6 289.2Z" fill="#ffeeee"/>
<path d="M650.0 296.5L657.5 283.6L665.0 296.5Z" fill="#c0c0ff"/>
<path d="M655.9 298.6L663.4 285.7L670.9 298.6Z" fill="#fff4f4"/>
<path d="M650.7 301.1L658.2 288.2L665.7 301.1Z" fill="#ffdcdc"/>
<path d="M655.8 302.6L663.3 289.7L670.8 302.6Z" fill="#c8c8ff"/>
<path d="M742.3 164.9L749.8 152.0L757.3 164.9Z" fill="#ffc8c8"/>
<path d="M766.3 259.1L773.8 246.2L781.3 259.1Z" fill="#ffffff"/>
</g>
<path d="M808.7 153.0V306.9M803.2 153.0h11.3M803.2 306.9h11.3" stroke="#222" stroke-width="1.2" fill="none"/>
<g fill="none" stroke="#000" stroke-width="1.3">
<rect x="553.4" y="98.9" width="271.7" height="260.5"/>
<path d="M579.3 98.9v3.6M579.3 359.4v-3.6"/>
<path d="M687.3 98.9v3.6M687.3 359.4v-3.6"/>
<path d="M795.4 98.9v3.6M795.4 359.4v-3.6"/>
<path d="M553.4 346.2h2.8M825.1 346.2h-2.8"/>
<path d="M553.4 286.8h2.8M825.1 286.8h-2.8"/>
<path d="M553.4 227.3h2.8M825.1 227.3h-2.8"/>
<path d="M553.4 167.9h2.8M825.1 167.9h-2.8"/>
<path d="M553.4 108.5h2.8M825.1 108.5h-2.8"/>
</g>
<g font-family="'Liberation Sans', sans-serif" font-size="18.9px" fill="#000" stroke="#000" stroke-width="0.3">
<text x="579.3" y="387.3" text-anchor="middle">235</text>
<text x="687.3" y="387.3" text-anchor="middle">240</text>
<text x="795.4" y="387.3" text-anchor="middle">245</text>
<text x="545.6" y="353.9" text-anchor="end">42</text>
<text x="545.6" y="294.5" text-anchor="end">44</text>
<text x="545.6" y="235.0" text-anchor="end">46</text>
<text x="545.6" y="175.6" text-anchor="end">48</text>
<text x="545.6" y="116.2" text-anchor="end">50</text>
<text x="689.0" y="83.5" text-anchor="middle">avg cross-corr coef.</text>
<text transform="translate(842.4 251.2) rotate(-90)" text-anchor="middle">580 km</text>
</g>
<g shape-rendering="crispEdges">
<rect x="861.6" y="99.50" width="40.8" height="8.16" fill="#7c0000"/>
<rect x="861.6" y="107.36" width="40.8" height="8.16" fill="#8b0000"/>
<rect x="861.6" y="115.22" width="40.8" height="8.16" fill="#960000"/>
<rect x="861.6" y="123.08" width="40.8" height="8.16" fill="#a11a1a"/>
<rect x="861.6" y="130.94" width="40.8" height="8.16" fill="#ad3232"/>
<rect x="861.6" y="138.80" width="40.8" height="8.16" fill="#b94b4b"/>
<rect x="861.6" y="146.66" width="40.8" height="8.16" fill="#c66464"/>
<rect x="861.6" y="154.52" width="40.8" height="8.16" fill="#d47d7d"/>
<rect x="861.6" y="162.38" width="40.8" height="8.16" fill="#e29696"/>
<rect x="861.6" y="170.25" width="40.8" height="8.16" fill="#f0a3a3"/>
<rect x="861.6" y="178.11" width="40.8" height="8.16" fill="#ffaaaa"/>
<rect x="861.6" y="185.97" width="40.8" height="8.16" fill="#ffbaba"/>
<rect x="861.6" y="193.83" width="40.8" height="8.16" fill="#ffcaca"/>
<rect x="861.6" y="201.69" width="40.8" height="8.16" fill="#ffd9d9"/>
<rect x="861.6" y="209.55" width="40.8" height="8.16" fill="#ffe6e6"/>
<rect x="861.6" y="217.41" width="40.8" height="8.16" fill="#fff2f2"/>
<rect x="861.6" y="225.27" width="40.8" height="8.16" fill="#ffffff"/>
<rect x="861.6" y="233.13" width="40.8" height="8.16" fill="#f2f2ff"/>
<rect x="861.6" y="240.99" width="40.8" height="8.16" fill="#e6e6ff"/>
<rect x="861.6" y="248.85" width="40.8" height="8.16" fill="#d9d9ff"/>
<rect x="861.6" y="256.71" width="40.8" height="8.16" fill="#cacaff"/>
<rect x="861.6" y="264.57" width="40.8" height="8.16" fill="#babaff"/>
<rect x="861.6" y="272.43" width="40.8" height="8.16" fill="#aaaaff"/>
<rect x="861.6" y="280.29" width="40.8" height="8.16" fill="#a3a3f0"/>
<rect x="861.6" y="288.15" width="40.8" height="8.16" fill="#9696e2"/>
<rect x="861.6" y="296.02" width="40.8" height="8.16" fill="#7d7dd4"/>
<rect x="861.6" y="303.88" width="40.8" height="8.16" fill="#6464c6"/>
<rect x="861.6" y="311.74" width="40.8" height="8.16" fill="#4b4bb9"/>
<rect x="861.6" y="319.60" width="40.8" height="8.16" fill="#3232ad"/>
<rect x="861.6" y="327.46" width="40.8" height="8.16" fill="#1a1aa1"/>
<rect x="861.6" y="335.32" width="40.8" height="8.16" fill="#000096"/>
<rect x="861.6" y="343.18" width="40.8" height="8.16" fill="#00008b"/>
<rect x="861.6" y="351.04" width="40.8" height="8.16" fill="#00007c"/>
</g>
<g fill="none" stroke="#000" stroke-width="1.3">
<rect x="861.6" y="99.5" width="40.8" height="259.4"/>
<path d="M861.6 164.3h3M902.4 164.3h-3"/>
<path d="M861.6 229.2h3M902.4 229.2h-3"/>
<path d="M861.6 294.0h3M902.4 294.0h-3"/>
</g>
<g font-family="'Liberation Sans', sans-serif" font-size="18.9px" fill="#000" stroke="#000" stroke-width="0.3">
<text x="909.6" y="107.1">1</text>
<text x="909.6" y="171.9">0.9</text>
<text x="909.6" y="236.8">0.8</text>
<text x="909.6" y="301.6">0.7</text>
<text x="909.6" y="366.5">0.6</text>
</g>
<clipPath id="clip1"><rect x="553.4" y="427.9" width="271.7" height="260.5"/></clipPath>
<g clip-path="url(#clip1)" fill="none" stroke="#000" stroke-width="1.35" stroke-linejoin="round" stroke-linecap="round">
<path d="M587.4 428.3L588.4 431.9L584.3 435.0L585.3 438.0L589.4 441.7L593.6 443.7L597.7 443.2L600.2 439.6L601.8 437.0L603.3 440.6L606.9 444.7L610.5 446.8L608.5 450.9L610.5 454.5L613.1 453.0L618.3 446.8L619.8 449.9L619.6 452.7L617.7 455.9L619.1 459.2L622.8 460.5L629.7 459.2L632.0 461.5L627.0 461.5L622.8 464.2L627.0 466.1L628.8 470.2L631.6 473.5L635.3 473.9L638.5 476.3L635.3 475.3L634.3 480.4L631.6 483.6L635.3 485.0L637.6 489.6L639.0 494.3L638.5 498.9L638.0 503.5L636.2 500.7L633.0 502.6L629.7 506.3L626.5 510.0L627.0 512.7L623.7 514.6L622.3 510.9L624.6 506.3L627.0 502.6L630.2 499.3L631.1 496.1L629.7 492.9L627.9 492.0L625.6 494.3L619.6 491.0L614.0 491.0L606.6 491.0L602.0 489.6L595.5 487.3L589.9 484.4L586.9 487.5L586.3 492.7L588.4 497.8L591.5 503.0L594.6 509.2L596.1 514.3L596.6 518.2L598.0 523.2L599.9 526.0L601.7 523.7L603.1 526.9L601.2 530.6L600.8 533.4L604.9 533.4L605.0 537.1L604.6 542.0L603.2 541.4L602.8 537.8L600.9 537.3L600.8 543.5L603.1 546.3L607.7 546.8L612.3 546.8L616.5 549.1L618.8 550.5L616.9 551.9L614.2 550.0L609.5 550.5L604.9 550.9L603.1 554.6L603.5 562.0L604.9 564.3L604.0 567.1L604.9 569.9L603.5 574.9L603.1 580.5L602.8 587.2L601.1 590.4L600.9 603.1L601.1 608.1L600.5 617.0L598.6 625.9L597.3 629.1L599.5 632.0L596.9 634.2L594.1 638.6L593.1 643.7L591.9 648.2L592.2 652.6L593.8 657.7L594.1 665.3L596.0 670.4L598.2 675.5L599.0 681.8L600.7 688.2"/>
<path d="M568.3 428.3L569.9 433.4L575.0 438.0L581.2 443.7L582.2 448.4L585.3 452.0L591.5 455.6L596.5 455.9L602.0 459.2L606.6 463.8L609.9 470.2L611.7 475.8L614.5 477.6L615.9 481.3L614.0 485.0L611.2 486.9L604.8 485.5L599.2 483.2L593.7 478.8L590.5 479.3L585.3 476.7L586.9 472.6L582.2 474.7L578.6 472.6L578.1 470.0L581.7 466.9L578.6 465.9L574.0 466.9L568.3 467.9L564.2 465.3L569.4 463.8L568.8 461.7L564.2 458.6L560.1 458.1L557.0 455.3L553.4 454.5"/>
<path d="M553.4 449.6L558.0 446.8L554.6 447.6"/>
</g>
<g stroke="#9e9e9e" stroke-width="1.1" stroke-linejoin="miter">
<path d="M597.1 519.3L604.6 506.4L612.1 519.3Z" fill="#e6e6ff"/>
<path d="M645.9 538.6L653.4 525.7L660.9 538.6Z" fill="#fff0f0"/>
<path d="M657.4 536.0L659.9 538.5L657.9 538.5Z" fill="#c02020" stroke="none"/>
<path d="M640.8 534.1L648.3 521.2L655.8 534.1Z" fill="#ffffff"/>
<path d="M642.1 537.6L649.6 524.7L657.1 537.6Z" fill="#ffe2e2"/>
<path d="M638.0 538.9L645.5 526.0L653.0 538.9Z" fill="#f6f6ff"/>
<path d="M632.8 538.5L640.3 525.6L647.8 538.5Z" fill="#ffd8d8"/>
<path d="M639.1 537.2L646.6 524.3L654.1 537.2Z" fill="#e8e8ff"/>
<path d="M633.2 531.3L640.7 518.4L648.2 531.3Z" fill="#ffdada"/>
<path d="M637.1 531.5L644.6 518.6L652.1 531.5Z" fill="#d8d8ff"/>
<path d="M630.3 555.2L637.8 542.3L645.3 555.2Z" fill="#fff0f0"/>
<path d="M631.8 554.2L639.3 541.3L646.8 554.2Z" fill="#dcdcff"/>
<path d="M640.7 577.3L648.2 564.4L655.7 577.3Z" fill="#fff2f2"/>
<path d="M646.7 577.3L654.2 564.4L661.7 577.3Z" fill="#e8e8ff"/>
<path d="M643.4 579.6L650.9 566.7L658.4 579.6Z" fill="#ffb4b4"/>
<path d="M637.0 613.6L644.5 600.7L652.0 613.6Z" fill="#e2e2ff"/>
<path d="M643.9 613.2L651.4 600.3L658.9 613.2Z" fill="#cdcdff"/>
<path d="M640.6 618.2L648.1 605.3L655.6 618.2Z" fill="#e4e4ff"/>
<path d="M650.0 625.5L657.5 612.6L665.0 625.5Z" fill="#e6e6ff"/>
<path d="M655.9 627.6L663.4 614.7L670.9 627.6Z" fill="#d8d8ff"/>
<path d="M650.7 630.1L658.2 617.2L665.7 630.1Z" fill="#dcdcff"/>
<path d="M655.8 631.6L663.3 618.7L670.8 631.6Z" fill="#c8c8ff"/>
<path d="M742.3 493.9L749.8 481.0L757.3 493.9Z" fill="#ffbcbc"/>
<path d="M766.3 588.1L773.8 575.2L781.3 588.1Z" fill="#fff0f0"/>
</g>
<path d="M808.7 482.0V635.9M803.2 482.0h11.3M803.2 635.9h11.3" stroke="#222" stroke-width="1.2" fill="none"/>
<g fill="none" stroke="#000" stroke-width="1.3">
<rect x="553.4" y="427.9" width="271.7" height="260.5"/>
<path d="M579.3 427.9v3.6M579.3 688.4v-3.6"/>
<path d="M687.3 427.9v3.6M687.3 688.4v-3.6"/>
<path d="M795.4 427.9v3.6M795.4 688.4v-3.6"/>
<path d="M553.4 675.2h2.8M825.1 675.2h-2.8"/>
<path d="M553.4 615.8h2.8M825.1 615.8h-2.8"/>
<path d="M553.4 556.3h2.8M825.1 556.3h-2.8"/>
<path d="M553.4 496.9h2.8M825.1 496.9h-2.8"/>
<path d="M553.4 437.5h2.8M825.1 437.5h-2.8"/>
</g>
<g font-family="'Liberation Sans', sans-serif" font-size="18.9px" fill="#000" stroke="#000" stroke-width="0.3">
<text x="579.3" y="716.3" text-anchor="middle">235</text>
<text x="687.3" y="716.3" text-anchor="middle">240</text>
<text x="795.4" y="716.3" text-anchor="middle">245</text>
<text x="545.6" y="682.9" text-anchor="end">42</text>
<text x="545.6" y="623.5" text-anchor="end">44</text>
<text x="545.6" y="564.0" text-anchor="end">46</text>
<text x="545.6" y="504.6" text-anchor="end">48</text>
<text x="545.6" y="445.2" text-anchor="end">50</text>
<text x="688.0" y="412.5" text-anchor="middle">avg dt (sec)</text>
<text transform="translate(842.4 580.2) rotate(-90)" text-anchor="middle">580 km</text>
</g>
<g shape-rendering="crispEdges">
<rect x="861.6" y="428.50" width="40.8" height="8.16" fill="#7c0000"/>
<rect x="861.6" y="436.36" width="40.8" height="8.16" fill="#8b0000"/>
<rect x="861.6" y="444.22" width="40.8" height="8.16" fill="#960000"/>
<rect x="861.6" y="452.08" width="40.8" height="8.16" fill="#a11a1a"/>
<rect x="861.6" y="459.94" width="40.8" height="8.16" fill="#ad3232"/>
<rect x="861.6" y="467.80" width="40.8" height="8.16" fill="#b94b4b"/>
<rect x="861.6" y="475.66" width="40.8" height="8.16" fill="#c66464"/>
<rect x="861.6" y="483.52" width="40.8" height="8.16" fill="#d47d7d"/>
<rect x="861.6" y="491.38" width="40.8" height="8.16" fill="#e29696"/>
<rect x="861.6" y="499.25" width="40.8" height="8.16" fill="#f0a3a3"/>
<rect x="861.6" y="507.11" width="40.8" height="8.16" fill="#ffaaaa"/>
<rect x="861.6" y="514.97" width="40.8" height="8.16" fill="#ffbaba"/>
<rect x="861.6" y="522.83" width="40.8" height="8.16" fill="#ffcaca"/>
<rect x="861.6" y="530.69" width="40.8" height="8.16" fill="#ffd9d9"/>
<rect x="861.6" y="538.55" width="40.8" height="8.16" fill="#ffe6e6"/>
<rect x="861.6" y="546.41" width="40.8" height="8.16" fill="#fff2f2"/>
<rect x="861.6" y="554.27" width="40.8" height="8.16" fill="#ffffff"/>
<rect x="861.6" y="562.13" width="40.8" height="8.16" fill="#f2f2ff"/>
<rect x="861.6" y="569.99" width="40.8" height="8.16" fill="#e6e6ff"/>
<rect x="861.6" y="577.85" width="40.8" height="8.16" fill="#d9d9ff"/>
<rect x="861.6" y="585.71" width="40.8" height="8.16" fill="#cacaff"/>
<rect x="861.6" y="593.57" width="40.8" height="8.16" fill="#babaff"/>
<rect x="861.6" y="601.43" width="40.8" height="8.16" fill="#aaaaff"/>
<rect x="861.6" y="609.29" width="40.8" height="8.16" fill="#a3a3f0"/>
<rect x="861.6" y="617.15" width="40.8" height="8.16" fill="#9696e2"/>
<rect x="861.6" y="625.02" width="40.8" height="8.16" fill="#7d7dd4"/>
<rect x="861.6" y="632.88" width="40.8" height="8.16" fill="#6464c6"/>
<rect x="861.6" y="640.74" width="40.8" height="8.16" fill="#4b4bb9"/>
<rect x="861.6" y="648.60" width="40.8" height="8.16" fill="#3232ad"/>
<rect x="861.6" y="656.46" width="40.8" height="8.16" fill="#1a1aa1"/>
<rect x="861.6" y="664.32" width="40.8" height="8.16" fill="#000096"/>
<rect x="861.6" y="672.18" width="40.8" height="8.16" fill="#00008b"/>
<rect x="861.6" y="680.04" width="40.8" height="8.16" fill="#00007c"/>
</g>
<g fill="none" stroke="#000" stroke-width="1.3">
<rect x="861.6" y="428.5" width="40.8" height="259.4"/>
<path d="M861.6 471.7h3M902.4 471.7h-3"/>
<path d="M861.6 515.0h3M902.4 515.0h-3"/>
<path d="M861.6 558.2h3M902.4 558.2h-3"/>
<path d="M861.6 601.4h3M902.4 601.4h-3"/>
<path d="M861.6 644.7h3M902.4 644.7h-3"/>
</g>
<g font-family="'Liberation Sans', sans-serif" font-size="18.9px" fill="#000" stroke="#000" stroke-width="0.3">
<text x="909.6" y="436.1">&gt;3</text>
<text x="909.6" y="479.3">2</text>
<text x="909.6" y="522.6">1</text>
<text x="909.6" y="565.8">0</text>
<text x="909.6" y="609.0">-1</text>
<text x="909.6" y="652.3">-2</text>
<text x="909.6" y="695.5">&lt;-3</text>
</g>
<g font-family="'Liberation Sans', sans-serif" font-size="18.9px" fill="#000" stroke="#000" stroke-width="0.3">
<text x="539" y="778.9">Backazimuth</text>
<text x="539" y="804.3" xml:space="preserve">to quake:  305</text>
</g>
<path d="M740.5 747L802 792.5" stroke="#000" stroke-width="1.4" fill="none"/>
<path d="M802.5 780.5L791 800.5L814 800.5Z" fill="#f00"/>
<defs><radialGradient id="nsfg" cx="40%" cy="35%" r="70%"><stop offset="0" stop-color="#6fb0ee"/><stop offset="1" stop-color="#1f66b8"/></radialGradient><linearGradient id="gageg" x1="0" x2="1" y1="0" y2="0"><stop offset="0" stop-color="#c92a4c"/><stop offset="1" stop-color="#d9607c"/></linearGradient><linearGradient id="sageg" x1="0" x2="1" y1="0" y2="0"><stop offset="0" stop-color="#7a3c9c"/><stop offset="1" stop-color="#4a34a0"/></linearGradient><linearGradient id="esg" x1="0" x2="1" y1="0.2" y2="0.8"><stop offset="0" stop-color="#6a6ad0"/><stop offset="0.55" stop-color="#c8507a"/><stop offset="1" stop-color="#d83a54"/></linearGradient></defs>
<g id="logos">
<path d="M795.2 840.6L796.7 843.7L799.3 841.4L799.4 844.9L802.7 843.7L801.5 847.0L805.0 847.1L802.7 849.7L805.8 851.2L802.7 852.7L805.0 855.3L801.5 855.4L802.7 858.7L799.4 857.5L799.3 861.0L796.7 858.7L795.2 861.8L793.7 858.7L791.1 861.0L791.0 857.5L787.7 858.7L788.9 855.4L785.4 855.3L787.7 852.7L784.6 851.2L787.7 849.7L785.4 847.1L788.9 847.0L787.7 843.7L791.0 844.9L791.1 841.4L793.7 843.7Z" fill="#d9ab3c"/>
<circle cx="795.2" cy="851.2" r="7.3" fill="url(#nsfg)"/>
<text x="795.2" y="853.5" text-anchor="middle" font-family="'Liberation Sans', sans-serif" font-weight="bold" font-size="6.4px" fill="#fff" opacity="0.92" textLength="11">NSF</text>
<circle cx="812.5" cy="851.3" r="4.6" fill="#1d5cc0"/>
<path d="M807.6 852.6Q812.5 851.6 817.5 847.6" stroke="#e8324a" stroke-width="0.8" fill="none"/>
<path d="M809.6 851.6h5.8" stroke="#fff" stroke-width="0.9" stroke-dasharray="1.3 0.5" opacity="0.85"/>
<rect x="818.7" y="847.9" width="16.1" height="6.6" fill="#3a3a3a"/>
<text x="826.7" y="853.3" text-anchor="middle" font-family="'Liberation Sans', sans-serif" font-weight="bold" font-size="5.6px" fill="#eee" textLength="13.5">USGS</text>
<rect x="835.2" y="840.1" width="1.3" height="22.7" fill="#8e8e8e"/>
<g font-family="'Liberation Sans', sans-serif" font-size="7.6px" font-weight="bold">
<text x="838.1" y="847.6" fill="url(#gageg)" textLength="21.8" lengthAdjust="spacingAndGlyphs">GAGE</text>
<text x="838.8" y="857.9" fill="url(#sageg)" textLength="21" lengthAdjust="spacingAndGlyphs">SAGE</text>
</g>
<circle cx="872.3" cy="849.5" r="5.6" fill="none" stroke="#c9c9c9" stroke-width="2.6" stroke-dasharray="0.7 1.1" opacity="0.8"/>
<circle cx="875.6" cy="845.1" r="5.2" fill="url(#esg)" opacity="0.9"/>
<path d="M872.5 843.2q2 -1.6 3.4 0.6t3.2 0.4M872.8 846.6q2.2 -1.2 3.4 0.6t3 -0.2" stroke="#fff" stroke-width="0.8" fill="none" opacity="0.8"/>
<path d="M862.6 858.7h16" stroke="#333" stroke-width="1.5" stroke-dasharray="2.2 0.7 1.1 0.6" opacity="0.8"/>
<g font-family="'Liberation Sans', sans-serif">
<text x="880.9" y="854.6" font-size="6.6px" font-weight="bold" fill="#222" textLength="34.2" lengthAdjust="spacingAndGlyphs">EarthScope</text>
<text x="880.9" y="859.6" font-size="5.3px" fill="#b4b4b4" textLength="26.8" lengthAdjust="spacingAndGlyphs">Consortium</text>
</g>
</g>
</svg>
</body></html>
